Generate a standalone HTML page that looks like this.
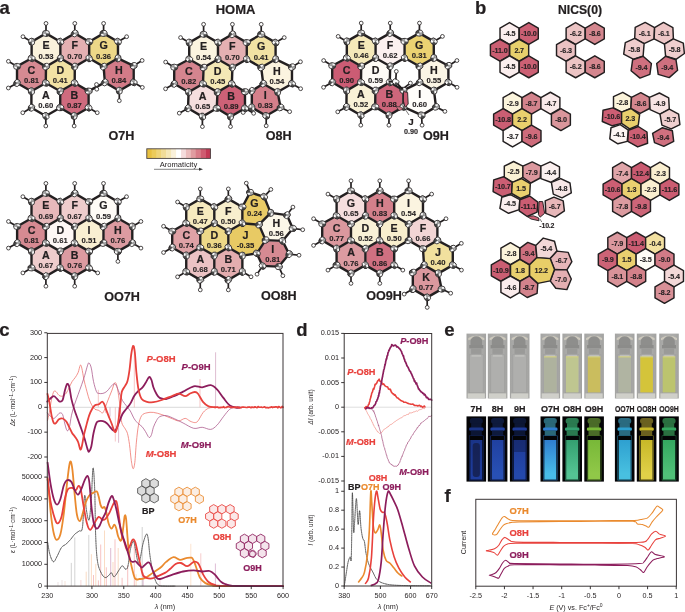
<!DOCTYPE html>
<html><head><meta charset="utf-8"><style>
html,body{margin:0;padding:0;background:#fff;}
svg{display:block;font-family:"Liberation Sans",sans-serif;will-change:transform;}
</style></head><body>
<svg width="685" height="612" viewBox="0 0 685 612">
<defs><linearGradient id="gday" x1="0" x2="1" y1="0" y2="0"><stop offset="0" stop-color="#a4a4a2"/><stop offset="0.2" stop-color="#aaaaa8"/><stop offset="0.5" stop-color="#aeaeac"/><stop offset="0.8" stop-color="#aaaaa8"/><stop offset="1" stop-color="#a2a2a0"/></linearGradient>
<linearGradient id="guv0" x1="0" x2="0" y1="0" y2="1"><stop offset="0" stop-color="#1a3488"/><stop offset="0.85" stop-color="#1e3c9c"/><stop offset="1" stop-color="#1e3c9c"/></linearGradient>
<linearGradient id="guv1" x1="0" x2="0" y1="0" y2="1"><stop offset="0" stop-color="#2040a0"/><stop offset="0.85" stop-color="#2850b4"/><stop offset="1" stop-color="#2850b4"/></linearGradient>
<linearGradient id="guv2" x1="0" x2="0" y1="0" y2="1"><stop offset="0" stop-color="#1e3a98"/><stop offset="0.85" stop-color="#2448ac"/><stop offset="1" stop-color="#2448ac"/></linearGradient>
<linearGradient id="guv3" x1="0" x2="0" y1="0" y2="1"><stop offset="0" stop-color="#2f7ed0"/><stop offset="0.85" stop-color="#48bce8"/><stop offset="1" stop-color="#48bce8"/></linearGradient>
<linearGradient id="guv4" x1="0" x2="0" y1="0" y2="1"><stop offset="0" stop-color="#34a070"/><stop offset="0.85" stop-color="#54c494"/><stop offset="1" stop-color="#54c494"/></linearGradient>
<linearGradient id="guv5" x1="0" x2="0" y1="0" y2="1"><stop offset="0" stop-color="#78b838"/><stop offset="0.85" stop-color="#90c848"/><stop offset="1" stop-color="#90c848"/></linearGradient>
<linearGradient id="guv6" x1="0" x2="0" y1="0" y2="1"><stop offset="0" stop-color="#2ea0d0"/><stop offset="0.85" stop-color="#48c0e0"/><stop offset="1" stop-color="#48c0e0"/></linearGradient>
<linearGradient id="guv7" x1="0" x2="0" y1="0" y2="1"><stop offset="0" stop-color="#c8b828"/><stop offset="0.85" stop-color="#e0d048"/><stop offset="1" stop-color="#e0d048"/></linearGradient>
<linearGradient id="guv8" x1="0" x2="0" y1="0" y2="1"><stop offset="0" stop-color="#34a860"/><stop offset="0.85" stop-color="#50c078"/><stop offset="1" stop-color="#50c078"/></linearGradient></defs>
<polygon points="46.00,34.40 59.51,42.20 59.51,57.80 46.00,65.60 32.49,57.80 32.49,42.20" fill="#faf2dc" stroke="none"/>
<polygon points="74.80,34.40 88.31,42.20 88.31,57.80 74.80,65.60 61.24,57.80 61.24,42.20" fill="#e4b0b2" stroke="none"/>
<polygon points="103.60,34.40 117.11,42.20 117.11,57.80 103.60,65.60 90.04,57.80 90.04,42.20" fill="#edd888" stroke="none"/>
<polygon points="31.62,59.29 45.13,67.09 44.92,82.51 31.40,90.31 17.89,82.51 17.89,66.90" fill="#d68a92" stroke="none"/>
<polygon points="60.37,59.29 73.93,67.09 73.81,82.51 60.30,90.31 46.65,82.51 46.86,67.09" fill="#f2e2a4" stroke="none"/>
<polygon points="118.03,59.26 132.79,66.31 132.79,81.92 119.27,89.72 105.76,81.92 104.52,67.07" fill="#d37b88" stroke="none"/>
<polygon points="45.78,83.99 59.43,91.79 59.31,107.21 45.80,115.01 32.29,107.21 32.26,91.79" fill="#fffdfa" stroke="none"/>
<polygon points="74.66,83.99 87.73,91.60 87.73,107.21 74.21,115.01 61.03,107.21 61.15,91.79" fill="#cf6b7e" stroke="none"/>
<line x1="46.00" y1="33.40" x2="46.00" y2="23.40" stroke="#231f20" stroke-width="1.7"/>
<line x1="31.62" y1="41.70" x2="22.96" y2="36.70" stroke="#231f20" stroke-width="1.7"/>
<line x1="74.80" y1="33.40" x2="74.81" y2="23.40" stroke="#231f20" stroke-width="1.7"/>
<line x1="103.60" y1="33.40" x2="103.61" y2="23.40" stroke="#231f20" stroke-width="1.7"/>
<line x1="117.98" y1="41.70" x2="126.64" y2="36.70" stroke="#231f20" stroke-width="1.7"/>
<line x1="17.02" y1="83.00" x2="8.36" y2="88.00" stroke="#231f20" stroke-width="1.7"/>
<line x1="17.02" y1="66.40" x2="8.41" y2="61.33" stroke="#231f20" stroke-width="1.7"/>
<line x1="133.68" y1="65.80" x2="142.13" y2="60.47" stroke="#231f20" stroke-width="1.7"/>
<line x1="133.68" y1="82.40" x2="142.34" y2="87.40" stroke="#231f20" stroke-width="1.7"/>
<line x1="119.30" y1="90.70" x2="119.30" y2="100.70" stroke="#231f20" stroke-width="1.7"/>
<line x1="45.80" y1="116.00" x2="45.80" y2="126.00" stroke="#231f20" stroke-width="1.7"/>
<line x1="31.42" y1="107.70" x2="22.77" y2="112.71" stroke="#231f20" stroke-width="1.7"/>
<line x1="88.58" y1="107.70" x2="97.24" y2="112.70" stroke="#231f20" stroke-width="1.7"/>
<line x1="74.20" y1="116.00" x2="74.15" y2="126.00" stroke="#231f20" stroke-width="1.7"/>
<line x1="46.00" y1="66.60" x2="31.62" y2="58.30" stroke="#231f20" stroke-width="2.4" stroke-linecap="round"/>
<line x1="17.02" y1="83.00" x2="17.02" y2="66.40" stroke="#231f20" stroke-width="2.4" stroke-linecap="round"/>
<line x1="117.98" y1="58.30" x2="103.60" y2="66.60" stroke="#231f20" stroke-width="2.4" stroke-linecap="round"/>
<line x1="133.68" y1="82.40" x2="119.30" y2="90.70" stroke="#231f20" stroke-width="2.4" stroke-linecap="round"/>
<line x1="119.30" y1="90.70" x2="104.92" y2="82.40" stroke="#231f20" stroke-width="2.4" stroke-linecap="round"/>
<line x1="45.78" y1="83.00" x2="60.30" y2="91.30" stroke="#231f20" stroke-width="2.4" stroke-linecap="round"/>
<line x1="89.18" y1="58.30" x2="74.80" y2="66.60" stroke="#231f20" stroke-width="2.4" stroke-linecap="round"/>
<line x1="46.00" y1="33.40" x2="31.62" y2="41.70" stroke="#231f20" stroke-width="2.4" stroke-linecap="round"/>
<line x1="60.38" y1="41.70" x2="74.80" y2="33.40" stroke="#231f20" stroke-width="2.4" stroke-linecap="round"/>
<line x1="88.58" y1="91.10" x2="88.58" y2="107.70" stroke="#231f20" stroke-width="2.4" stroke-linecap="round"/>
<line x1="45.80" y1="116.00" x2="31.42" y2="107.70" stroke="#231f20" stroke-width="2.4" stroke-linecap="round"/>
<line x1="60.30" y1="91.30" x2="60.18" y2="107.70" stroke="#231f20" stroke-width="2.4" stroke-linecap="round"/>
<line x1="103.60" y1="66.60" x2="104.92" y2="82.40" stroke="#231f20" stroke-width="2.4" stroke-linecap="round"/>
<line x1="89.18" y1="41.70" x2="103.60" y2="33.40" stroke="#231f20" stroke-width="2.4" stroke-linecap="round"/>
<line x1="74.68" y1="83.00" x2="60.30" y2="91.30" stroke="#231f20" stroke-width="2.4" stroke-linecap="round"/>
<line x1="31.40" y1="91.30" x2="31.42" y2="107.70" stroke="#231f20" stroke-width="2.4" stroke-linecap="round"/>
<line x1="60.18" y1="107.70" x2="74.20" y2="116.00" stroke="#231f20" stroke-width="2.4" stroke-linecap="round"/>
<line x1="31.62" y1="58.30" x2="31.62" y2="41.70" stroke="#231f20" stroke-width="2.4" stroke-linecap="round"/>
<line x1="31.62" y1="58.30" x2="17.02" y2="66.40" stroke="#231f20" stroke-width="2.4" stroke-linecap="round"/>
<line x1="45.78" y1="83.00" x2="31.40" y2="91.30" stroke="#231f20" stroke-width="2.4" stroke-linecap="round"/>
<line x1="46.00" y1="33.40" x2="60.38" y2="41.70" stroke="#231f20" stroke-width="2.4" stroke-linecap="round"/>
<line x1="104.92" y1="82.40" x2="88.58" y2="91.10" stroke="#231f20" stroke-width="2.4" stroke-linecap="round"/>
<line x1="60.38" y1="41.70" x2="60.38" y2="58.30" stroke="#231f20" stroke-width="2.4" stroke-linecap="round"/>
<line x1="103.60" y1="33.40" x2="117.98" y2="41.70" stroke="#231f20" stroke-width="2.4" stroke-linecap="round"/>
<line x1="88.58" y1="107.70" x2="74.20" y2="116.00" stroke="#231f20" stroke-width="2.4" stroke-linecap="round"/>
<line x1="74.80" y1="33.40" x2="89.18" y2="41.70" stroke="#231f20" stroke-width="2.4" stroke-linecap="round"/>
<line x1="31.40" y1="91.30" x2="17.02" y2="83.00" stroke="#231f20" stroke-width="2.4" stroke-linecap="round"/>
<line x1="60.18" y1="107.70" x2="45.80" y2="116.00" stroke="#231f20" stroke-width="2.4" stroke-linecap="round"/>
<line x1="133.68" y1="65.80" x2="133.68" y2="82.40" stroke="#231f20" stroke-width="2.4" stroke-linecap="round"/>
<line x1="74.68" y1="83.00" x2="88.58" y2="91.10" stroke="#231f20" stroke-width="2.4" stroke-linecap="round"/>
<line x1="46.00" y1="66.60" x2="45.78" y2="83.00" stroke="#231f20" stroke-width="2.4" stroke-linecap="round"/>
<line x1="117.98" y1="58.30" x2="133.68" y2="65.80" stroke="#231f20" stroke-width="2.4" stroke-linecap="round"/>
<line x1="60.38" y1="58.30" x2="46.00" y2="66.60" stroke="#231f20" stroke-width="2.4" stroke-linecap="round"/>
<line x1="60.38" y1="58.30" x2="74.80" y2="66.60" stroke="#231f20" stroke-width="2.4" stroke-linecap="round"/>
<line x1="117.98" y1="41.70" x2="117.98" y2="58.30" stroke="#231f20" stroke-width="2.4" stroke-linecap="round"/>
<line x1="89.18" y1="58.30" x2="103.60" y2="66.60" stroke="#231f20" stroke-width="2.4" stroke-linecap="round"/>
<line x1="74.80" y1="66.60" x2="74.68" y2="83.00" stroke="#231f20" stroke-width="2.4" stroke-linecap="round"/>
<line x1="89.18" y1="41.70" x2="89.18" y2="58.30" stroke="#231f20" stroke-width="2.4" stroke-linecap="round"/>
<circle cx="46.00" cy="23.40" r="1.9" fill="#fff" stroke="#231f20" stroke-width="0.8"/>
<circle cx="22.96" cy="36.70" r="1.9" fill="#fff" stroke="#231f20" stroke-width="0.8"/>
<circle cx="74.81" cy="23.40" r="1.9" fill="#fff" stroke="#231f20" stroke-width="0.8"/>
<circle cx="103.61" cy="23.40" r="1.9" fill="#fff" stroke="#231f20" stroke-width="0.8"/>
<circle cx="126.64" cy="36.70" r="1.9" fill="#fff" stroke="#231f20" stroke-width="0.8"/>
<circle cx="8.36" cy="88.00" r="1.9" fill="#fff" stroke="#231f20" stroke-width="0.8"/>
<circle cx="8.41" cy="61.33" r="1.9" fill="#fff" stroke="#231f20" stroke-width="0.8"/>
<circle cx="142.13" cy="60.47" r="1.9" fill="#fff" stroke="#231f20" stroke-width="0.8"/>
<circle cx="142.34" cy="87.40" r="1.9" fill="#fff" stroke="#231f20" stroke-width="0.8"/>
<circle cx="119.30" cy="100.70" r="1.9" fill="#fff" stroke="#231f20" stroke-width="0.8"/>
<circle cx="45.80" cy="126.00" r="1.9" fill="#fff" stroke="#231f20" stroke-width="0.8"/>
<circle cx="22.77" cy="112.71" r="1.9" fill="#fff" stroke="#231f20" stroke-width="0.8"/>
<circle cx="97.24" cy="112.70" r="1.9" fill="#fff" stroke="#231f20" stroke-width="0.8"/>
<circle cx="74.15" cy="126.00" r="1.9" fill="#fff" stroke="#231f20" stroke-width="0.8"/>
<circle cx="96.50" cy="84.50" r="1.9" fill="#fff" stroke="#231f20" stroke-width="0.8"/>
<circle cx="96.80" cy="89.20" r="1.9" fill="#fff" stroke="#231f20" stroke-width="0.8"/>
<g transform="translate(46.00 33.40) rotate(0)"><ellipse rx="3.60" ry="3.10" fill="#fbfbfb"/><path d="M0 0 L3.60 0 A3.60 3.10 0 0 1 0 3.10 Z" fill="#4a4a4a"/><path d="M0 0 L-3.60 0 A3.60 3.10 0 0 1 0 -3.10 Z" fill="#a8a8a8"/><path d="M-3.60 0 H3.60 M0 -3.10 V3.10" stroke="#555" stroke-width="0.35"/><ellipse rx="3.60" ry="3.10" fill="none" stroke="#231f20" stroke-width="0.8"/></g>
<g transform="translate(60.38 41.70) rotate(53)"><ellipse rx="3.60" ry="3.10" fill="#fbfbfb"/><path d="M0 0 L3.60 0 A3.60 3.10 0 0 1 0 3.10 Z" fill="#4a4a4a"/><path d="M0 0 L-3.60 0 A3.60 3.10 0 0 1 0 -3.10 Z" fill="#a8a8a8"/><path d="M-3.60 0 H3.60 M0 -3.10 V3.10" stroke="#555" stroke-width="0.35"/><ellipse rx="3.60" ry="3.10" fill="none" stroke="#231f20" stroke-width="0.8"/></g>
<g transform="translate(60.38 58.30) rotate(106)"><ellipse rx="3.60" ry="3.10" fill="#fbfbfb"/><path d="M0 0 L3.60 0 A3.60 3.10 0 0 1 0 3.10 Z" fill="#4a4a4a"/><path d="M0 0 L-3.60 0 A3.60 3.10 0 0 1 0 -3.10 Z" fill="#a8a8a8"/><path d="M-3.60 0 H3.60 M0 -3.10 V3.10" stroke="#555" stroke-width="0.35"/><ellipse rx="3.60" ry="3.10" fill="none" stroke="#231f20" stroke-width="0.8"/></g>
<g transform="translate(46.00 66.60) rotate(159)"><ellipse rx="3.60" ry="3.10" fill="#fbfbfb"/><path d="M0 0 L3.60 0 A3.60 3.10 0 0 1 0 3.10 Z" fill="#4a4a4a"/><path d="M0 0 L-3.60 0 A3.60 3.10 0 0 1 0 -3.10 Z" fill="#a8a8a8"/><path d="M-3.60 0 H3.60 M0 -3.10 V3.10" stroke="#555" stroke-width="0.35"/><ellipse rx="3.60" ry="3.10" fill="none" stroke="#231f20" stroke-width="0.8"/></g>
<g transform="translate(31.62 58.30) rotate(32)"><ellipse rx="3.60" ry="3.10" fill="#fbfbfb"/><path d="M0 0 L3.60 0 A3.60 3.10 0 0 1 0 3.10 Z" fill="#4a4a4a"/><path d="M0 0 L-3.60 0 A3.60 3.10 0 0 1 0 -3.10 Z" fill="#a8a8a8"/><path d="M-3.60 0 H3.60 M0 -3.10 V3.10" stroke="#555" stroke-width="0.35"/><ellipse rx="3.60" ry="3.10" fill="none" stroke="#231f20" stroke-width="0.8"/></g>
<g transform="translate(31.62 41.70) rotate(85)"><ellipse rx="3.60" ry="3.10" fill="#fbfbfb"/><path d="M0 0 L3.60 0 A3.60 3.10 0 0 1 0 3.10 Z" fill="#4a4a4a"/><path d="M0 0 L-3.60 0 A3.60 3.10 0 0 1 0 -3.10 Z" fill="#a8a8a8"/><path d="M-3.60 0 H3.60 M0 -3.10 V3.10" stroke="#555" stroke-width="0.35"/><ellipse rx="3.60" ry="3.10" fill="none" stroke="#231f20" stroke-width="0.8"/></g>
<g transform="translate(74.80 33.40) rotate(138)"><ellipse rx="3.60" ry="3.10" fill="#fbfbfb"/><path d="M0 0 L3.60 0 A3.60 3.10 0 0 1 0 3.10 Z" fill="#4a4a4a"/><path d="M0 0 L-3.60 0 A3.60 3.10 0 0 1 0 -3.10 Z" fill="#a8a8a8"/><path d="M-3.60 0 H3.60 M0 -3.10 V3.10" stroke="#555" stroke-width="0.35"/><ellipse rx="3.60" ry="3.10" fill="none" stroke="#231f20" stroke-width="0.8"/></g>
<g transform="translate(89.18 41.70) rotate(11)"><ellipse rx="3.60" ry="3.10" fill="#fbfbfb"/><path d="M0 0 L3.60 0 A3.60 3.10 0 0 1 0 3.10 Z" fill="#4a4a4a"/><path d="M0 0 L-3.60 0 A3.60 3.10 0 0 1 0 -3.10 Z" fill="#a8a8a8"/><path d="M-3.60 0 H3.60 M0 -3.10 V3.10" stroke="#555" stroke-width="0.35"/><ellipse rx="3.60" ry="3.10" fill="none" stroke="#231f20" stroke-width="0.8"/></g>
<g transform="translate(89.18 58.30) rotate(64)"><ellipse rx="3.60" ry="3.10" fill="#fbfbfb"/><path d="M0 0 L3.60 0 A3.60 3.10 0 0 1 0 3.10 Z" fill="#4a4a4a"/><path d="M0 0 L-3.60 0 A3.60 3.10 0 0 1 0 -3.10 Z" fill="#a8a8a8"/><path d="M-3.60 0 H3.60 M0 -3.10 V3.10" stroke="#555" stroke-width="0.35"/><ellipse rx="3.60" ry="3.10" fill="none" stroke="#231f20" stroke-width="0.8"/></g>
<g transform="translate(74.80 66.60) rotate(117)"><ellipse rx="3.60" ry="3.10" fill="#fbfbfb"/><path d="M0 0 L3.60 0 A3.60 3.10 0 0 1 0 3.10 Z" fill="#4a4a4a"/><path d="M0 0 L-3.60 0 A3.60 3.10 0 0 1 0 -3.10 Z" fill="#a8a8a8"/><path d="M-3.60 0 H3.60 M0 -3.10 V3.10" stroke="#555" stroke-width="0.35"/><ellipse rx="3.60" ry="3.10" fill="none" stroke="#231f20" stroke-width="0.8"/></g>
<g transform="translate(103.60 33.40) rotate(170)"><ellipse rx="3.60" ry="3.10" fill="#fbfbfb"/><path d="M0 0 L3.60 0 A3.60 3.10 0 0 1 0 3.10 Z" fill="#4a4a4a"/><path d="M0 0 L-3.60 0 A3.60 3.10 0 0 1 0 -3.10 Z" fill="#a8a8a8"/><path d="M-3.60 0 H3.60 M0 -3.10 V3.10" stroke="#555" stroke-width="0.35"/><ellipse rx="3.60" ry="3.10" fill="none" stroke="#231f20" stroke-width="0.8"/></g>
<g transform="translate(117.98 41.70) rotate(43)"><ellipse rx="3.60" ry="3.10" fill="#fbfbfb"/><path d="M0 0 L3.60 0 A3.60 3.10 0 0 1 0 3.10 Z" fill="#4a4a4a"/><path d="M0 0 L-3.60 0 A3.60 3.10 0 0 1 0 -3.10 Z" fill="#a8a8a8"/><path d="M-3.60 0 H3.60 M0 -3.10 V3.10" stroke="#555" stroke-width="0.35"/><ellipse rx="3.60" ry="3.10" fill="none" stroke="#231f20" stroke-width="0.8"/></g>
<g transform="translate(117.98 58.30) rotate(96)"><ellipse rx="3.60" ry="3.10" fill="#fbfbfb"/><path d="M0 0 L3.60 0 A3.60 3.10 0 0 1 0 3.10 Z" fill="#4a4a4a"/><path d="M0 0 L-3.60 0 A3.60 3.10 0 0 1 0 -3.10 Z" fill="#a8a8a8"/><path d="M-3.60 0 H3.60 M0 -3.10 V3.10" stroke="#555" stroke-width="0.35"/><ellipse rx="3.60" ry="3.10" fill="none" stroke="#231f20" stroke-width="0.8"/></g>
<g transform="translate(103.60 66.60) rotate(149)"><ellipse rx="3.60" ry="3.10" fill="#fbfbfb"/><path d="M0 0 L3.60 0 A3.60 3.10 0 0 1 0 3.10 Z" fill="#4a4a4a"/><path d="M0 0 L-3.60 0 A3.60 3.10 0 0 1 0 -3.10 Z" fill="#a8a8a8"/><path d="M-3.60 0 H3.60 M0 -3.10 V3.10" stroke="#555" stroke-width="0.35"/><ellipse rx="3.60" ry="3.10" fill="none" stroke="#231f20" stroke-width="0.8"/></g>
<g transform="translate(45.78 83.00) rotate(22)"><ellipse rx="3.60" ry="3.10" fill="#fbfbfb"/><path d="M0 0 L3.60 0 A3.60 3.10 0 0 1 0 3.10 Z" fill="#4a4a4a"/><path d="M0 0 L-3.60 0 A3.60 3.10 0 0 1 0 -3.10 Z" fill="#a8a8a8"/><path d="M-3.60 0 H3.60 M0 -3.10 V3.10" stroke="#555" stroke-width="0.35"/><ellipse rx="3.60" ry="3.10" fill="none" stroke="#231f20" stroke-width="0.8"/></g>
<g transform="translate(31.40 91.30) rotate(75)"><ellipse rx="3.60" ry="3.10" fill="#fbfbfb"/><path d="M0 0 L3.60 0 A3.60 3.10 0 0 1 0 3.10 Z" fill="#4a4a4a"/><path d="M0 0 L-3.60 0 A3.60 3.10 0 0 1 0 -3.10 Z" fill="#a8a8a8"/><path d="M-3.60 0 H3.60 M0 -3.10 V3.10" stroke="#555" stroke-width="0.35"/><ellipse rx="3.60" ry="3.10" fill="none" stroke="#231f20" stroke-width="0.8"/></g>
<g transform="translate(17.02 83.00) rotate(128)"><ellipse rx="3.60" ry="3.10" fill="#fbfbfb"/><path d="M0 0 L3.60 0 A3.60 3.10 0 0 1 0 3.10 Z" fill="#4a4a4a"/><path d="M0 0 L-3.60 0 A3.60 3.10 0 0 1 0 -3.10 Z" fill="#a8a8a8"/><path d="M-3.60 0 H3.60 M0 -3.10 V3.10" stroke="#555" stroke-width="0.35"/><ellipse rx="3.60" ry="3.10" fill="none" stroke="#231f20" stroke-width="0.8"/></g>
<g transform="translate(17.02 66.40) rotate(1)"><ellipse rx="3.60" ry="3.10" fill="#fbfbfb"/><path d="M0 0 L3.60 0 A3.60 3.10 0 0 1 0 3.10 Z" fill="#4a4a4a"/><path d="M0 0 L-3.60 0 A3.60 3.10 0 0 1 0 -3.10 Z" fill="#a8a8a8"/><path d="M-3.60 0 H3.60 M0 -3.10 V3.10" stroke="#555" stroke-width="0.35"/><ellipse rx="3.60" ry="3.10" fill="none" stroke="#231f20" stroke-width="0.8"/></g>
<g transform="translate(74.68 83.00) rotate(54)"><ellipse rx="3.60" ry="3.10" fill="#fbfbfb"/><path d="M0 0 L3.60 0 A3.60 3.10 0 0 1 0 3.10 Z" fill="#4a4a4a"/><path d="M0 0 L-3.60 0 A3.60 3.10 0 0 1 0 -3.10 Z" fill="#a8a8a8"/><path d="M-3.60 0 H3.60 M0 -3.10 V3.10" stroke="#555" stroke-width="0.35"/><ellipse rx="3.60" ry="3.10" fill="none" stroke="#231f20" stroke-width="0.8"/></g>
<g transform="translate(60.30 91.30) rotate(107)"><ellipse rx="3.60" ry="3.10" fill="#fbfbfb"/><path d="M0 0 L3.60 0 A3.60 3.10 0 0 1 0 3.10 Z" fill="#4a4a4a"/><path d="M0 0 L-3.60 0 A3.60 3.10 0 0 1 0 -3.10 Z" fill="#a8a8a8"/><path d="M-3.60 0 H3.60 M0 -3.10 V3.10" stroke="#555" stroke-width="0.35"/><ellipse rx="3.60" ry="3.10" fill="none" stroke="#231f20" stroke-width="0.8"/></g>
<g transform="translate(133.68 65.80) rotate(160)"><ellipse rx="3.60" ry="3.10" fill="#fbfbfb"/><path d="M0 0 L3.60 0 A3.60 3.10 0 0 1 0 3.10 Z" fill="#4a4a4a"/><path d="M0 0 L-3.60 0 A3.60 3.10 0 0 1 0 -3.10 Z" fill="#a8a8a8"/><path d="M-3.60 0 H3.60 M0 -3.10 V3.10" stroke="#555" stroke-width="0.35"/><ellipse rx="3.60" ry="3.10" fill="none" stroke="#231f20" stroke-width="0.8"/></g>
<g transform="translate(133.68 82.40) rotate(33)"><ellipse rx="3.60" ry="3.10" fill="#fbfbfb"/><path d="M0 0 L3.60 0 A3.60 3.10 0 0 1 0 3.10 Z" fill="#4a4a4a"/><path d="M0 0 L-3.60 0 A3.60 3.10 0 0 1 0 -3.10 Z" fill="#a8a8a8"/><path d="M-3.60 0 H3.60 M0 -3.10 V3.10" stroke="#555" stroke-width="0.35"/><ellipse rx="3.60" ry="3.10" fill="none" stroke="#231f20" stroke-width="0.8"/></g>
<g transform="translate(119.30 90.70) rotate(86)"><ellipse rx="3.60" ry="3.10" fill="#fbfbfb"/><path d="M0 0 L3.60 0 A3.60 3.10 0 0 1 0 3.10 Z" fill="#4a4a4a"/><path d="M0 0 L-3.60 0 A3.60 3.10 0 0 1 0 -3.10 Z" fill="#a8a8a8"/><path d="M-3.60 0 H3.60 M0 -3.10 V3.10" stroke="#555" stroke-width="0.35"/><ellipse rx="3.60" ry="3.10" fill="none" stroke="#231f20" stroke-width="0.8"/></g>
<g transform="translate(104.92 82.40) rotate(139)"><ellipse rx="3.60" ry="3.10" fill="#fbfbfb"/><path d="M0 0 L3.60 0 A3.60 3.10 0 0 1 0 3.10 Z" fill="#4a4a4a"/><path d="M0 0 L-3.60 0 A3.60 3.10 0 0 1 0 -3.10 Z" fill="#a8a8a8"/><path d="M-3.60 0 H3.60 M0 -3.10 V3.10" stroke="#555" stroke-width="0.35"/><ellipse rx="3.60" ry="3.10" fill="none" stroke="#231f20" stroke-width="0.8"/></g>
<g transform="translate(60.18 107.70) rotate(12)"><ellipse rx="3.60" ry="3.10" fill="#fbfbfb"/><path d="M0 0 L3.60 0 A3.60 3.10 0 0 1 0 3.10 Z" fill="#4a4a4a"/><path d="M0 0 L-3.60 0 A3.60 3.10 0 0 1 0 -3.10 Z" fill="#a8a8a8"/><path d="M-3.60 0 H3.60 M0 -3.10 V3.10" stroke="#555" stroke-width="0.35"/><ellipse rx="3.60" ry="3.10" fill="none" stroke="#231f20" stroke-width="0.8"/></g>
<g transform="translate(45.80 116.00) rotate(65)"><ellipse rx="3.60" ry="3.10" fill="#fbfbfb"/><path d="M0 0 L3.60 0 A3.60 3.10 0 0 1 0 3.10 Z" fill="#4a4a4a"/><path d="M0 0 L-3.60 0 A3.60 3.10 0 0 1 0 -3.10 Z" fill="#a8a8a8"/><path d="M-3.60 0 H3.60 M0 -3.10 V3.10" stroke="#555" stroke-width="0.35"/><ellipse rx="3.60" ry="3.10" fill="none" stroke="#231f20" stroke-width="0.8"/></g>
<g transform="translate(31.42 107.70) rotate(118)"><ellipse rx="3.60" ry="3.10" fill="#fbfbfb"/><path d="M0 0 L3.60 0 A3.60 3.10 0 0 1 0 3.10 Z" fill="#4a4a4a"/><path d="M0 0 L-3.60 0 A3.60 3.10 0 0 1 0 -3.10 Z" fill="#a8a8a8"/><path d="M-3.60 0 H3.60 M0 -3.10 V3.10" stroke="#555" stroke-width="0.35"/><ellipse rx="3.60" ry="3.10" fill="none" stroke="#231f20" stroke-width="0.8"/></g>
<g transform="translate(88.58 91.10) rotate(171)"><ellipse rx="3.60" ry="3.10" fill="#fbfbfb"/><path d="M0 0 L3.60 0 A3.60 3.10 0 0 1 0 3.10 Z" fill="#4a4a4a"/><path d="M0 0 L-3.60 0 A3.60 3.10 0 0 1 0 -3.10 Z" fill="#a8a8a8"/><path d="M-3.60 0 H3.60 M0 -3.10 V3.10" stroke="#555" stroke-width="0.35"/><ellipse rx="3.60" ry="3.10" fill="none" stroke="#231f20" stroke-width="0.8"/></g>
<g transform="translate(88.58 107.70) rotate(44)"><ellipse rx="3.60" ry="3.10" fill="#fbfbfb"/><path d="M0 0 L3.60 0 A3.60 3.10 0 0 1 0 3.10 Z" fill="#4a4a4a"/><path d="M0 0 L-3.60 0 A3.60 3.10 0 0 1 0 -3.10 Z" fill="#a8a8a8"/><path d="M-3.60 0 H3.60 M0 -3.10 V3.10" stroke="#555" stroke-width="0.35"/><ellipse rx="3.60" ry="3.10" fill="none" stroke="#231f20" stroke-width="0.8"/></g>
<g transform="translate(74.20 116.00) rotate(97)"><ellipse rx="3.60" ry="3.10" fill="#fbfbfb"/><path d="M0 0 L3.60 0 A3.60 3.10 0 0 1 0 3.10 Z" fill="#4a4a4a"/><path d="M0 0 L-3.60 0 A3.60 3.10 0 0 1 0 -3.10 Z" fill="#a8a8a8"/><path d="M-3.60 0 H3.60 M0 -3.10 V3.10" stroke="#555" stroke-width="0.35"/><ellipse rx="3.60" ry="3.10" fill="none" stroke="#231f20" stroke-width="0.8"/></g>
<text x="46.00" y="49.40" font-size="10.70" font-weight="bold" fill="#231f20" text-anchor="middle"   stroke="#231f20" stroke-width="0.22">E</text>
<text x="46.00" y="58.60" font-size="7.70" font-weight="bold" fill="#231f20" text-anchor="middle"   stroke="#231f20" stroke-width="0.12">0.53</text>
<text x="74.78" y="49.40" font-size="10.70" font-weight="bold" fill="#231f20" text-anchor="middle"   stroke="#231f20" stroke-width="0.22">F</text>
<text x="74.78" y="58.60" font-size="7.70" font-weight="bold" fill="#231f20" text-anchor="middle"   stroke="#231f20" stroke-width="0.12">0.70</text>
<text x="103.58" y="49.40" font-size="10.70" font-weight="bold" fill="#231f20" text-anchor="middle"   stroke="#231f20" stroke-width="0.22">G</text>
<text x="103.58" y="58.60" font-size="7.70" font-weight="bold" fill="#231f20" text-anchor="middle"   stroke="#231f20" stroke-width="0.12">0.36</text>
<text x="31.47" y="74.17" font-size="10.70" font-weight="bold" fill="#231f20" text-anchor="middle"   stroke="#231f20" stroke-width="0.22">C</text>
<text x="31.47" y="83.37" font-size="7.70" font-weight="bold" fill="#231f20" text-anchor="middle"   stroke="#231f20" stroke-width="0.12">0.81</text>
<text x="60.32" y="74.20" font-size="10.70" font-weight="bold" fill="#231f20" text-anchor="middle"   stroke="#231f20" stroke-width="0.22">D</text>
<text x="60.32" y="83.40" font-size="7.70" font-weight="bold" fill="#231f20" text-anchor="middle"   stroke="#231f20" stroke-width="0.12">0.41</text>
<text x="118.86" y="73.77" font-size="10.70" font-weight="bold" fill="#231f20" text-anchor="middle"   stroke="#231f20" stroke-width="0.22">H</text>
<text x="118.86" y="82.97" font-size="7.70" font-weight="bold" fill="#231f20" text-anchor="middle"   stroke="#231f20" stroke-width="0.12">0.84</text>
<text x="45.81" y="98.90" font-size="10.70" font-weight="bold" fill="#231f20" text-anchor="middle"   stroke="#231f20" stroke-width="0.22">A</text>
<text x="45.81" y="108.10" font-size="7.70" font-weight="bold" fill="#231f20" text-anchor="middle"   stroke="#231f20" stroke-width="0.12">0.60</text>
<text x="74.42" y="98.87" font-size="10.70" font-weight="bold" fill="#231f20" text-anchor="middle"   stroke="#231f20" stroke-width="0.22">B</text>
<text x="74.42" y="108.07" font-size="7.70" font-weight="bold" fill="#231f20" text-anchor="middle"   stroke="#231f20" stroke-width="0.12">0.87</text>
<polygon points="203.60,35.30 217.11,43.10 217.11,58.70 203.60,66.50 190.09,58.70 190.09,43.10" fill="#fbf4e0" stroke="none"/>
<polygon points="232.40,35.30 245.91,43.10 245.91,58.70 232.40,66.50 218.84,58.70 218.84,43.10" fill="#e4b0b2" stroke="none"/>
<polygon points="261.20,35.30 274.71,43.10 274.71,58.70 261.20,66.50 247.64,58.70 247.64,43.10" fill="#f2e2a4" stroke="none"/>
<polygon points="189.20,60.18 202.71,67.99 202.13,83.31 188.61,91.11 175.10,83.31 175.10,67.70" fill="#d5858f" stroke="none"/>
<polygon points="217.96,60.19 231.52,67.99 231.03,83.31 217.51,91.11 203.86,83.31 204.45,67.99" fill="#f4e8b6" stroke="none"/>
<polygon points="275.66,60.18 291.07,67.61 291.07,83.21 277.56,91.01 264.05,83.21 262.14,67.98" fill="#fbf4e0" stroke="none"/>
<polygon points="202.96,84.78 216.61,92.59 215.93,107.81 202.42,115.62 188.91,107.81 189.45,92.59" fill="#f5dede" stroke="none"/>
<polygon points="231.83,84.78 244.14,92.21 244.14,107.81 230.63,115.61 217.64,107.81 218.32,92.58" fill="#cd6177" stroke="none"/>
<polygon points="263.34,84.65 276.86,92.45 279.65,107.02 266.14,114.83 252.63,107.02 252.63,91.42" fill="#d4808b" stroke="none"/>
<line x1="203.60" y1="34.30" x2="203.60" y2="24.30" stroke="#231f20" stroke-width="1.7"/>
<line x1="189.22" y1="42.60" x2="180.56" y2="37.60" stroke="#231f20" stroke-width="1.7"/>
<line x1="232.40" y1="34.30" x2="232.41" y2="24.30" stroke="#231f20" stroke-width="1.7"/>
<line x1="261.20" y1="34.30" x2="261.21" y2="24.30" stroke="#231f20" stroke-width="1.7"/>
<line x1="275.58" y1="42.60" x2="284.24" y2="37.60" stroke="#231f20" stroke-width="1.7"/>
<line x1="174.22" y1="83.80" x2="165.56" y2="88.80" stroke="#231f20" stroke-width="1.7"/>
<line x1="174.22" y1="67.20" x2="165.65" y2="62.06" stroke="#231f20" stroke-width="1.7"/>
<line x1="291.98" y1="67.10" x2="300.44" y2="61.78" stroke="#231f20" stroke-width="1.7"/>
<line x1="291.98" y1="83.70" x2="300.64" y2="88.70" stroke="#231f20" stroke-width="1.7"/>
<line x1="202.40" y1="116.60" x2="202.40" y2="126.60" stroke="#231f20" stroke-width="1.7"/>
<line x1="188.02" y1="108.30" x2="179.28" y2="113.15" stroke="#231f20" stroke-width="1.7"/>
<line x1="244.98" y1="108.30" x2="253.64" y2="113.30" stroke="#231f20" stroke-width="1.7"/>
<line x1="230.60" y1="116.60" x2="230.51" y2="126.60" stroke="#231f20" stroke-width="1.7"/>
<line x1="280.58" y1="107.50" x2="289.67" y2="111.66" stroke="#231f20" stroke-width="1.7"/>
<line x1="266.20" y1="115.80" x2="266.20" y2="125.80" stroke="#231f20" stroke-width="1.7"/>
<line x1="251.82" y1="107.50" x2="243.16" y2="112.50" stroke="#231f20" stroke-width="1.7"/>
<line x1="203.60" y1="67.50" x2="189.22" y2="59.20" stroke="#231f20" stroke-width="2.4" stroke-linecap="round"/>
<line x1="174.22" y1="83.80" x2="174.22" y2="67.20" stroke="#231f20" stroke-width="2.4" stroke-linecap="round"/>
<line x1="275.58" y1="59.20" x2="261.20" y2="67.50" stroke="#231f20" stroke-width="2.4" stroke-linecap="round"/>
<line x1="291.98" y1="83.70" x2="277.60" y2="92.00" stroke="#231f20" stroke-width="2.4" stroke-linecap="round"/>
<line x1="277.60" y1="92.00" x2="263.22" y2="83.70" stroke="#231f20" stroke-width="2.4" stroke-linecap="round"/>
<line x1="266.20" y1="115.80" x2="251.82" y2="107.50" stroke="#231f20" stroke-width="2.4" stroke-linecap="round"/>
<line x1="202.98" y1="83.80" x2="217.50" y2="92.10" stroke="#231f20" stroke-width="2.4" stroke-linecap="round"/>
<line x1="246.78" y1="59.20" x2="232.40" y2="67.50" stroke="#231f20" stroke-width="2.4" stroke-linecap="round"/>
<line x1="203.60" y1="34.30" x2="189.22" y2="42.60" stroke="#231f20" stroke-width="2.4" stroke-linecap="round"/>
<line x1="217.98" y1="42.60" x2="232.40" y2="34.30" stroke="#231f20" stroke-width="2.4" stroke-linecap="round"/>
<line x1="244.98" y1="91.70" x2="244.98" y2="108.30" stroke="#231f20" stroke-width="2.4" stroke-linecap="round"/>
<line x1="202.40" y1="116.60" x2="188.02" y2="108.30" stroke="#231f20" stroke-width="2.4" stroke-linecap="round"/>
<line x1="217.50" y1="92.10" x2="216.78" y2="108.30" stroke="#231f20" stroke-width="2.4" stroke-linecap="round"/>
<line x1="261.20" y1="67.50" x2="263.22" y2="83.70" stroke="#231f20" stroke-width="2.4" stroke-linecap="round"/>
<line x1="246.78" y1="42.60" x2="261.20" y2="34.30" stroke="#231f20" stroke-width="2.4" stroke-linecap="round"/>
<line x1="251.82" y1="107.50" x2="251.82" y2="90.90" stroke="#231f20" stroke-width="2.4" stroke-linecap="round"/>
<line x1="231.88" y1="83.80" x2="217.50" y2="92.10" stroke="#231f20" stroke-width="2.4" stroke-linecap="round"/>
<line x1="188.60" y1="92.10" x2="188.02" y2="108.30" stroke="#231f20" stroke-width="2.4" stroke-linecap="round"/>
<line x1="216.78" y1="108.30" x2="230.60" y2="116.60" stroke="#231f20" stroke-width="2.4" stroke-linecap="round"/>
<line x1="189.22" y1="59.20" x2="189.22" y2="42.60" stroke="#231f20" stroke-width="2.4" stroke-linecap="round"/>
<line x1="189.22" y1="59.20" x2="174.22" y2="67.20" stroke="#231f20" stroke-width="2.4" stroke-linecap="round"/>
<line x1="202.98" y1="83.80" x2="188.60" y2="92.10" stroke="#231f20" stroke-width="2.4" stroke-linecap="round"/>
<line x1="203.60" y1="34.30" x2="217.98" y2="42.60" stroke="#231f20" stroke-width="2.4" stroke-linecap="round"/>
<line x1="263.22" y1="83.70" x2="251.82" y2="90.90" stroke="#231f20" stroke-width="2.4" stroke-linecap="round"/>
<line x1="217.98" y1="42.60" x2="217.98" y2="59.20" stroke="#231f20" stroke-width="2.4" stroke-linecap="round"/>
<line x1="261.20" y1="34.30" x2="275.58" y2="42.60" stroke="#231f20" stroke-width="2.4" stroke-linecap="round"/>
<line x1="244.98" y1="108.30" x2="230.60" y2="116.60" stroke="#231f20" stroke-width="2.4" stroke-linecap="round"/>
<line x1="232.40" y1="34.30" x2="246.78" y2="42.60" stroke="#231f20" stroke-width="2.4" stroke-linecap="round"/>
<line x1="188.60" y1="92.10" x2="174.22" y2="83.80" stroke="#231f20" stroke-width="2.4" stroke-linecap="round"/>
<line x1="216.78" y1="108.30" x2="202.40" y2="116.60" stroke="#231f20" stroke-width="2.4" stroke-linecap="round"/>
<line x1="291.98" y1="67.10" x2="291.98" y2="83.70" stroke="#231f20" stroke-width="2.4" stroke-linecap="round"/>
<line x1="231.88" y1="83.80" x2="244.98" y2="91.70" stroke="#231f20" stroke-width="2.4" stroke-linecap="round"/>
<line x1="203.60" y1="67.50" x2="202.98" y2="83.80" stroke="#231f20" stroke-width="2.4" stroke-linecap="round"/>
<line x1="275.58" y1="59.20" x2="291.98" y2="67.10" stroke="#231f20" stroke-width="2.4" stroke-linecap="round"/>
<line x1="277.60" y1="92.00" x2="280.58" y2="107.50" stroke="#231f20" stroke-width="2.4" stroke-linecap="round"/>
<line x1="217.98" y1="59.20" x2="203.60" y2="67.50" stroke="#231f20" stroke-width="2.4" stroke-linecap="round"/>
<line x1="217.98" y1="59.20" x2="232.40" y2="67.50" stroke="#231f20" stroke-width="2.4" stroke-linecap="round"/>
<line x1="275.58" y1="42.60" x2="275.58" y2="59.20" stroke="#231f20" stroke-width="2.4" stroke-linecap="round"/>
<line x1="246.78" y1="59.20" x2="261.20" y2="67.50" stroke="#231f20" stroke-width="2.4" stroke-linecap="round"/>
<line x1="232.40" y1="67.50" x2="231.88" y2="83.80" stroke="#231f20" stroke-width="2.4" stroke-linecap="round"/>
<line x1="280.58" y1="107.50" x2="266.20" y2="115.80" stroke="#231f20" stroke-width="2.4" stroke-linecap="round"/>
<line x1="246.78" y1="42.60" x2="246.78" y2="59.20" stroke="#231f20" stroke-width="2.4" stroke-linecap="round"/>
<circle cx="203.60" cy="24.30" r="1.9" fill="#fff" stroke="#231f20" stroke-width="0.8"/>
<circle cx="180.56" cy="37.60" r="1.9" fill="#fff" stroke="#231f20" stroke-width="0.8"/>
<circle cx="232.41" cy="24.30" r="1.9" fill="#fff" stroke="#231f20" stroke-width="0.8"/>
<circle cx="261.21" cy="24.30" r="1.9" fill="#fff" stroke="#231f20" stroke-width="0.8"/>
<circle cx="284.24" cy="37.60" r="1.9" fill="#fff" stroke="#231f20" stroke-width="0.8"/>
<circle cx="165.56" cy="88.80" r="1.9" fill="#fff" stroke="#231f20" stroke-width="0.8"/>
<circle cx="165.65" cy="62.06" r="1.9" fill="#fff" stroke="#231f20" stroke-width="0.8"/>
<circle cx="300.44" cy="61.78" r="1.9" fill="#fff" stroke="#231f20" stroke-width="0.8"/>
<circle cx="300.64" cy="88.70" r="1.9" fill="#fff" stroke="#231f20" stroke-width="0.8"/>
<circle cx="202.40" cy="126.60" r="1.9" fill="#fff" stroke="#231f20" stroke-width="0.8"/>
<circle cx="179.28" cy="113.15" r="1.9" fill="#fff" stroke="#231f20" stroke-width="0.8"/>
<circle cx="253.64" cy="113.30" r="1.9" fill="#fff" stroke="#231f20" stroke-width="0.8"/>
<circle cx="230.51" cy="126.60" r="1.9" fill="#fff" stroke="#231f20" stroke-width="0.8"/>
<circle cx="289.67" cy="111.66" r="1.9" fill="#fff" stroke="#231f20" stroke-width="0.8"/>
<circle cx="266.20" cy="125.80" r="1.9" fill="#fff" stroke="#231f20" stroke-width="0.8"/>
<circle cx="243.16" cy="112.50" r="1.9" fill="#fff" stroke="#231f20" stroke-width="0.8"/>
<g transform="translate(203.60 34.30) rotate(0)"><ellipse rx="3.60" ry="3.10" fill="#fbfbfb"/><path d="M0 0 L3.60 0 A3.60 3.10 0 0 1 0 3.10 Z" fill="#4a4a4a"/><path d="M0 0 L-3.60 0 A3.60 3.10 0 0 1 0 -3.10 Z" fill="#a8a8a8"/><path d="M-3.60 0 H3.60 M0 -3.10 V3.10" stroke="#555" stroke-width="0.35"/><ellipse rx="3.60" ry="3.10" fill="none" stroke="#231f20" stroke-width="0.8"/></g>
<g transform="translate(217.98 42.60) rotate(53)"><ellipse rx="3.60" ry="3.10" fill="#fbfbfb"/><path d="M0 0 L3.60 0 A3.60 3.10 0 0 1 0 3.10 Z" fill="#4a4a4a"/><path d="M0 0 L-3.60 0 A3.60 3.10 0 0 1 0 -3.10 Z" fill="#a8a8a8"/><path d="M-3.60 0 H3.60 M0 -3.10 V3.10" stroke="#555" stroke-width="0.35"/><ellipse rx="3.60" ry="3.10" fill="none" stroke="#231f20" stroke-width="0.8"/></g>
<g transform="translate(217.98 59.20) rotate(106)"><ellipse rx="3.60" ry="3.10" fill="#fbfbfb"/><path d="M0 0 L3.60 0 A3.60 3.10 0 0 1 0 3.10 Z" fill="#4a4a4a"/><path d="M0 0 L-3.60 0 A3.60 3.10 0 0 1 0 -3.10 Z" fill="#a8a8a8"/><path d="M-3.60 0 H3.60 M0 -3.10 V3.10" stroke="#555" stroke-width="0.35"/><ellipse rx="3.60" ry="3.10" fill="none" stroke="#231f20" stroke-width="0.8"/></g>
<g transform="translate(203.60 67.50) rotate(159)"><ellipse rx="3.60" ry="3.10" fill="#fbfbfb"/><path d="M0 0 L3.60 0 A3.60 3.10 0 0 1 0 3.10 Z" fill="#4a4a4a"/><path d="M0 0 L-3.60 0 A3.60 3.10 0 0 1 0 -3.10 Z" fill="#a8a8a8"/><path d="M-3.60 0 H3.60 M0 -3.10 V3.10" stroke="#555" stroke-width="0.35"/><ellipse rx="3.60" ry="3.10" fill="none" stroke="#231f20" stroke-width="0.8"/></g>
<g transform="translate(189.22 59.20) rotate(32)"><ellipse rx="3.60" ry="3.10" fill="#fbfbfb"/><path d="M0 0 L3.60 0 A3.60 3.10 0 0 1 0 3.10 Z" fill="#4a4a4a"/><path d="M0 0 L-3.60 0 A3.60 3.10 0 0 1 0 -3.10 Z" fill="#a8a8a8"/><path d="M-3.60 0 H3.60 M0 -3.10 V3.10" stroke="#555" stroke-width="0.35"/><ellipse rx="3.60" ry="3.10" fill="none" stroke="#231f20" stroke-width="0.8"/></g>
<g transform="translate(189.22 42.60) rotate(85)"><ellipse rx="3.60" ry="3.10" fill="#fbfbfb"/><path d="M0 0 L3.60 0 A3.60 3.10 0 0 1 0 3.10 Z" fill="#4a4a4a"/><path d="M0 0 L-3.60 0 A3.60 3.10 0 0 1 0 -3.10 Z" fill="#a8a8a8"/><path d="M-3.60 0 H3.60 M0 -3.10 V3.10" stroke="#555" stroke-width="0.35"/><ellipse rx="3.60" ry="3.10" fill="none" stroke="#231f20" stroke-width="0.8"/></g>
<g transform="translate(232.40 34.30) rotate(138)"><ellipse rx="3.60" ry="3.10" fill="#fbfbfb"/><path d="M0 0 L3.60 0 A3.60 3.10 0 0 1 0 3.10 Z" fill="#4a4a4a"/><path d="M0 0 L-3.60 0 A3.60 3.10 0 0 1 0 -3.10 Z" fill="#a8a8a8"/><path d="M-3.60 0 H3.60 M0 -3.10 V3.10" stroke="#555" stroke-width="0.35"/><ellipse rx="3.60" ry="3.10" fill="none" stroke="#231f20" stroke-width="0.8"/></g>
<g transform="translate(246.78 42.60) rotate(11)"><ellipse rx="3.60" ry="3.10" fill="#fbfbfb"/><path d="M0 0 L3.60 0 A3.60 3.10 0 0 1 0 3.10 Z" fill="#4a4a4a"/><path d="M0 0 L-3.60 0 A3.60 3.10 0 0 1 0 -3.10 Z" fill="#a8a8a8"/><path d="M-3.60 0 H3.60 M0 -3.10 V3.10" stroke="#555" stroke-width="0.35"/><ellipse rx="3.60" ry="3.10" fill="none" stroke="#231f20" stroke-width="0.8"/></g>
<g transform="translate(246.78 59.20) rotate(64)"><ellipse rx="3.60" ry="3.10" fill="#fbfbfb"/><path d="M0 0 L3.60 0 A3.60 3.10 0 0 1 0 3.10 Z" fill="#4a4a4a"/><path d="M0 0 L-3.60 0 A3.60 3.10 0 0 1 0 -3.10 Z" fill="#a8a8a8"/><path d="M-3.60 0 H3.60 M0 -3.10 V3.10" stroke="#555" stroke-width="0.35"/><ellipse rx="3.60" ry="3.10" fill="none" stroke="#231f20" stroke-width="0.8"/></g>
<g transform="translate(232.40 67.50) rotate(117)"><ellipse rx="3.60" ry="3.10" fill="#fbfbfb"/><path d="M0 0 L3.60 0 A3.60 3.10 0 0 1 0 3.10 Z" fill="#4a4a4a"/><path d="M0 0 L-3.60 0 A3.60 3.10 0 0 1 0 -3.10 Z" fill="#a8a8a8"/><path d="M-3.60 0 H3.60 M0 -3.10 V3.10" stroke="#555" stroke-width="0.35"/><ellipse rx="3.60" ry="3.10" fill="none" stroke="#231f20" stroke-width="0.8"/></g>
<g transform="translate(261.20 34.30) rotate(170)"><ellipse rx="3.60" ry="3.10" fill="#fbfbfb"/><path d="M0 0 L3.60 0 A3.60 3.10 0 0 1 0 3.10 Z" fill="#4a4a4a"/><path d="M0 0 L-3.60 0 A3.60 3.10 0 0 1 0 -3.10 Z" fill="#a8a8a8"/><path d="M-3.60 0 H3.60 M0 -3.10 V3.10" stroke="#555" stroke-width="0.35"/><ellipse rx="3.60" ry="3.10" fill="none" stroke="#231f20" stroke-width="0.8"/></g>
<g transform="translate(275.58 42.60) rotate(43)"><ellipse rx="3.60" ry="3.10" fill="#fbfbfb"/><path d="M0 0 L3.60 0 A3.60 3.10 0 0 1 0 3.10 Z" fill="#4a4a4a"/><path d="M0 0 L-3.60 0 A3.60 3.10 0 0 1 0 -3.10 Z" fill="#a8a8a8"/><path d="M-3.60 0 H3.60 M0 -3.10 V3.10" stroke="#555" stroke-width="0.35"/><ellipse rx="3.60" ry="3.10" fill="none" stroke="#231f20" stroke-width="0.8"/></g>
<g transform="translate(275.58 59.20) rotate(96)"><ellipse rx="3.60" ry="3.10" fill="#fbfbfb"/><path d="M0 0 L3.60 0 A3.60 3.10 0 0 1 0 3.10 Z" fill="#4a4a4a"/><path d="M0 0 L-3.60 0 A3.60 3.10 0 0 1 0 -3.10 Z" fill="#a8a8a8"/><path d="M-3.60 0 H3.60 M0 -3.10 V3.10" stroke="#555" stroke-width="0.35"/><ellipse rx="3.60" ry="3.10" fill="none" stroke="#231f20" stroke-width="0.8"/></g>
<g transform="translate(261.20 67.50) rotate(149)"><ellipse rx="3.60" ry="3.10" fill="#fbfbfb"/><path d="M0 0 L3.60 0 A3.60 3.10 0 0 1 0 3.10 Z" fill="#4a4a4a"/><path d="M0 0 L-3.60 0 A3.60 3.10 0 0 1 0 -3.10 Z" fill="#a8a8a8"/><path d="M-3.60 0 H3.60 M0 -3.10 V3.10" stroke="#555" stroke-width="0.35"/><ellipse rx="3.60" ry="3.10" fill="none" stroke="#231f20" stroke-width="0.8"/></g>
<g transform="translate(202.98 83.80) rotate(22)"><ellipse rx="3.60" ry="3.10" fill="#fbfbfb"/><path d="M0 0 L3.60 0 A3.60 3.10 0 0 1 0 3.10 Z" fill="#4a4a4a"/><path d="M0 0 L-3.60 0 A3.60 3.10 0 0 1 0 -3.10 Z" fill="#a8a8a8"/><path d="M-3.60 0 H3.60 M0 -3.10 V3.10" stroke="#555" stroke-width="0.35"/><ellipse rx="3.60" ry="3.10" fill="none" stroke="#231f20" stroke-width="0.8"/></g>
<g transform="translate(188.60 92.10) rotate(75)"><ellipse rx="3.60" ry="3.10" fill="#fbfbfb"/><path d="M0 0 L3.60 0 A3.60 3.10 0 0 1 0 3.10 Z" fill="#4a4a4a"/><path d="M0 0 L-3.60 0 A3.60 3.10 0 0 1 0 -3.10 Z" fill="#a8a8a8"/><path d="M-3.60 0 H3.60 M0 -3.10 V3.10" stroke="#555" stroke-width="0.35"/><ellipse rx="3.60" ry="3.10" fill="none" stroke="#231f20" stroke-width="0.8"/></g>
<g transform="translate(174.22 83.80) rotate(128)"><ellipse rx="3.60" ry="3.10" fill="#fbfbfb"/><path d="M0 0 L3.60 0 A3.60 3.10 0 0 1 0 3.10 Z" fill="#4a4a4a"/><path d="M0 0 L-3.60 0 A3.60 3.10 0 0 1 0 -3.10 Z" fill="#a8a8a8"/><path d="M-3.60 0 H3.60 M0 -3.10 V3.10" stroke="#555" stroke-width="0.35"/><ellipse rx="3.60" ry="3.10" fill="none" stroke="#231f20" stroke-width="0.8"/></g>
<g transform="translate(174.22 67.20) rotate(1)"><ellipse rx="3.60" ry="3.10" fill="#fbfbfb"/><path d="M0 0 L3.60 0 A3.60 3.10 0 0 1 0 3.10 Z" fill="#4a4a4a"/><path d="M0 0 L-3.60 0 A3.60 3.10 0 0 1 0 -3.10 Z" fill="#a8a8a8"/><path d="M-3.60 0 H3.60 M0 -3.10 V3.10" stroke="#555" stroke-width="0.35"/><ellipse rx="3.60" ry="3.10" fill="none" stroke="#231f20" stroke-width="0.8"/></g>
<g transform="translate(231.88 83.80) rotate(54)"><ellipse rx="3.60" ry="3.10" fill="#fbfbfb"/><path d="M0 0 L3.60 0 A3.60 3.10 0 0 1 0 3.10 Z" fill="#4a4a4a"/><path d="M0 0 L-3.60 0 A3.60 3.10 0 0 1 0 -3.10 Z" fill="#a8a8a8"/><path d="M-3.60 0 H3.60 M0 -3.10 V3.10" stroke="#555" stroke-width="0.35"/><ellipse rx="3.60" ry="3.10" fill="none" stroke="#231f20" stroke-width="0.8"/></g>
<g transform="translate(217.50 92.10) rotate(107)"><ellipse rx="3.60" ry="3.10" fill="#fbfbfb"/><path d="M0 0 L3.60 0 A3.60 3.10 0 0 1 0 3.10 Z" fill="#4a4a4a"/><path d="M0 0 L-3.60 0 A3.60 3.10 0 0 1 0 -3.10 Z" fill="#a8a8a8"/><path d="M-3.60 0 H3.60 M0 -3.10 V3.10" stroke="#555" stroke-width="0.35"/><ellipse rx="3.60" ry="3.10" fill="none" stroke="#231f20" stroke-width="0.8"/></g>
<g transform="translate(291.98 67.10) rotate(160)"><ellipse rx="3.60" ry="3.10" fill="#fbfbfb"/><path d="M0 0 L3.60 0 A3.60 3.10 0 0 1 0 3.10 Z" fill="#4a4a4a"/><path d="M0 0 L-3.60 0 A3.60 3.10 0 0 1 0 -3.10 Z" fill="#a8a8a8"/><path d="M-3.60 0 H3.60 M0 -3.10 V3.10" stroke="#555" stroke-width="0.35"/><ellipse rx="3.60" ry="3.10" fill="none" stroke="#231f20" stroke-width="0.8"/></g>
<g transform="translate(291.98 83.70) rotate(33)"><ellipse rx="3.60" ry="3.10" fill="#fbfbfb"/><path d="M0 0 L3.60 0 A3.60 3.10 0 0 1 0 3.10 Z" fill="#4a4a4a"/><path d="M0 0 L-3.60 0 A3.60 3.10 0 0 1 0 -3.10 Z" fill="#a8a8a8"/><path d="M-3.60 0 H3.60 M0 -3.10 V3.10" stroke="#555" stroke-width="0.35"/><ellipse rx="3.60" ry="3.10" fill="none" stroke="#231f20" stroke-width="0.8"/></g>
<g transform="translate(277.60 92.00) rotate(86)"><ellipse rx="3.60" ry="3.10" fill="#fbfbfb"/><path d="M0 0 L3.60 0 A3.60 3.10 0 0 1 0 3.10 Z" fill="#4a4a4a"/><path d="M0 0 L-3.60 0 A3.60 3.10 0 0 1 0 -3.10 Z" fill="#a8a8a8"/><path d="M-3.60 0 H3.60 M0 -3.10 V3.10" stroke="#555" stroke-width="0.35"/><ellipse rx="3.60" ry="3.10" fill="none" stroke="#231f20" stroke-width="0.8"/></g>
<g transform="translate(263.22 83.70) rotate(139)"><ellipse rx="3.60" ry="3.10" fill="#fbfbfb"/><path d="M0 0 L3.60 0 A3.60 3.10 0 0 1 0 3.10 Z" fill="#4a4a4a"/><path d="M0 0 L-3.60 0 A3.60 3.10 0 0 1 0 -3.10 Z" fill="#a8a8a8"/><path d="M-3.60 0 H3.60 M0 -3.10 V3.10" stroke="#555" stroke-width="0.35"/><ellipse rx="3.60" ry="3.10" fill="none" stroke="#231f20" stroke-width="0.8"/></g>
<g transform="translate(216.78 108.30) rotate(12)"><ellipse rx="3.60" ry="3.10" fill="#fbfbfb"/><path d="M0 0 L3.60 0 A3.60 3.10 0 0 1 0 3.10 Z" fill="#4a4a4a"/><path d="M0 0 L-3.60 0 A3.60 3.10 0 0 1 0 -3.10 Z" fill="#a8a8a8"/><path d="M-3.60 0 H3.60 M0 -3.10 V3.10" stroke="#555" stroke-width="0.35"/><ellipse rx="3.60" ry="3.10" fill="none" stroke="#231f20" stroke-width="0.8"/></g>
<g transform="translate(202.40 116.60) rotate(65)"><ellipse rx="3.60" ry="3.10" fill="#fbfbfb"/><path d="M0 0 L3.60 0 A3.60 3.10 0 0 1 0 3.10 Z" fill="#4a4a4a"/><path d="M0 0 L-3.60 0 A3.60 3.10 0 0 1 0 -3.10 Z" fill="#a8a8a8"/><path d="M-3.60 0 H3.60 M0 -3.10 V3.10" stroke="#555" stroke-width="0.35"/><ellipse rx="3.60" ry="3.10" fill="none" stroke="#231f20" stroke-width="0.8"/></g>
<g transform="translate(188.02 108.30) rotate(118)"><ellipse rx="3.60" ry="3.10" fill="#fbfbfb"/><path d="M0 0 L3.60 0 A3.60 3.10 0 0 1 0 3.10 Z" fill="#4a4a4a"/><path d="M0 0 L-3.60 0 A3.60 3.10 0 0 1 0 -3.10 Z" fill="#a8a8a8"/><path d="M-3.60 0 H3.60 M0 -3.10 V3.10" stroke="#555" stroke-width="0.35"/><ellipse rx="3.60" ry="3.10" fill="none" stroke="#231f20" stroke-width="0.8"/></g>
<g transform="translate(244.98 91.70) rotate(171)"><ellipse rx="3.60" ry="3.10" fill="#fbfbfb"/><path d="M0 0 L3.60 0 A3.60 3.10 0 0 1 0 3.10 Z" fill="#4a4a4a"/><path d="M0 0 L-3.60 0 A3.60 3.10 0 0 1 0 -3.10 Z" fill="#a8a8a8"/><path d="M-3.60 0 H3.60 M0 -3.10 V3.10" stroke="#555" stroke-width="0.35"/><ellipse rx="3.60" ry="3.10" fill="none" stroke="#231f20" stroke-width="0.8"/></g>
<g transform="translate(244.98 108.30) rotate(44)"><ellipse rx="3.60" ry="3.10" fill="#fbfbfb"/><path d="M0 0 L3.60 0 A3.60 3.10 0 0 1 0 3.10 Z" fill="#4a4a4a"/><path d="M0 0 L-3.60 0 A3.60 3.10 0 0 1 0 -3.10 Z" fill="#a8a8a8"/><path d="M-3.60 0 H3.60 M0 -3.10 V3.10" stroke="#555" stroke-width="0.35"/><ellipse rx="3.60" ry="3.10" fill="none" stroke="#231f20" stroke-width="0.8"/></g>
<g transform="translate(230.60 116.60) rotate(97)"><ellipse rx="3.60" ry="3.10" fill="#fbfbfb"/><path d="M0 0 L3.60 0 A3.60 3.10 0 0 1 0 3.10 Z" fill="#4a4a4a"/><path d="M0 0 L-3.60 0 A3.60 3.10 0 0 1 0 -3.10 Z" fill="#a8a8a8"/><path d="M-3.60 0 H3.60 M0 -3.10 V3.10" stroke="#555" stroke-width="0.35"/><ellipse rx="3.60" ry="3.10" fill="none" stroke="#231f20" stroke-width="0.8"/></g>
<g transform="translate(280.58 107.50) rotate(150)"><ellipse rx="3.60" ry="3.10" fill="#fbfbfb"/><path d="M0 0 L3.60 0 A3.60 3.10 0 0 1 0 3.10 Z" fill="#4a4a4a"/><path d="M0 0 L-3.60 0 A3.60 3.10 0 0 1 0 -3.10 Z" fill="#a8a8a8"/><path d="M-3.60 0 H3.60 M0 -3.10 V3.10" stroke="#555" stroke-width="0.35"/><ellipse rx="3.60" ry="3.10" fill="none" stroke="#231f20" stroke-width="0.8"/></g>
<g transform="translate(266.20 115.80) rotate(23)"><ellipse rx="3.60" ry="3.10" fill="#fbfbfb"/><path d="M0 0 L3.60 0 A3.60 3.10 0 0 1 0 3.10 Z" fill="#4a4a4a"/><path d="M0 0 L-3.60 0 A3.60 3.10 0 0 1 0 -3.10 Z" fill="#a8a8a8"/><path d="M-3.60 0 H3.60 M0 -3.10 V3.10" stroke="#555" stroke-width="0.35"/><ellipse rx="3.60" ry="3.10" fill="none" stroke="#231f20" stroke-width="0.8"/></g>
<g transform="translate(251.82 107.50) rotate(76)"><ellipse rx="3.60" ry="3.10" fill="#fbfbfb"/><path d="M0 0 L3.60 0 A3.60 3.10 0 0 1 0 3.10 Z" fill="#4a4a4a"/><path d="M0 0 L-3.60 0 A3.60 3.10 0 0 1 0 -3.10 Z" fill="#a8a8a8"/><path d="M-3.60 0 H3.60 M0 -3.10 V3.10" stroke="#555" stroke-width="0.35"/><ellipse rx="3.60" ry="3.10" fill="none" stroke="#231f20" stroke-width="0.8"/></g>
<g transform="translate(251.82 90.90) rotate(129)"><ellipse rx="3.60" ry="3.10" fill="#fbfbfb"/><path d="M0 0 L3.60 0 A3.60 3.10 0 0 1 0 3.10 Z" fill="#4a4a4a"/><path d="M0 0 L-3.60 0 A3.60 3.10 0 0 1 0 -3.10 Z" fill="#a8a8a8"/><path d="M-3.60 0 H3.60 M0 -3.10 V3.10" stroke="#555" stroke-width="0.35"/><ellipse rx="3.60" ry="3.10" fill="none" stroke="#231f20" stroke-width="0.8"/></g>
<text x="203.60" y="50.30" font-size="10.70" font-weight="bold" fill="#231f20" text-anchor="middle"   stroke="#231f20" stroke-width="0.22">E</text>
<text x="203.60" y="59.50" font-size="7.70" font-weight="bold" fill="#231f20" text-anchor="middle"   stroke="#231f20" stroke-width="0.12">0.54</text>
<text x="232.38" y="50.30" font-size="10.70" font-weight="bold" fill="#231f20" text-anchor="middle"   stroke="#231f20" stroke-width="0.22">F</text>
<text x="232.38" y="59.50" font-size="7.70" font-weight="bold" fill="#231f20" text-anchor="middle"   stroke="#231f20" stroke-width="0.12">0.70</text>
<text x="261.18" y="50.30" font-size="10.70" font-weight="bold" fill="#231f20" text-anchor="middle"   stroke="#231f20" stroke-width="0.22">G</text>
<text x="261.18" y="59.50" font-size="7.70" font-weight="bold" fill="#231f20" text-anchor="middle"   stroke="#231f20" stroke-width="0.12">0.41</text>
<text x="188.81" y="75.00" font-size="10.70" font-weight="bold" fill="#231f20" text-anchor="middle"   stroke="#231f20" stroke-width="0.22">C</text>
<text x="188.81" y="84.20" font-size="7.70" font-weight="bold" fill="#231f20" text-anchor="middle"   stroke="#231f20" stroke-width="0.12">0.82</text>
<text x="217.72" y="75.05" font-size="10.70" font-weight="bold" fill="#231f20" text-anchor="middle"   stroke="#231f20" stroke-width="0.22">D</text>
<text x="217.72" y="84.25" font-size="7.70" font-weight="bold" fill="#231f20" text-anchor="middle"   stroke="#231f20" stroke-width="0.12">0.45</text>
<text x="276.93" y="74.93" font-size="10.70" font-weight="bold" fill="#231f20" text-anchor="middle"   stroke="#231f20" stroke-width="0.22">H</text>
<text x="276.93" y="84.13" font-size="7.70" font-weight="bold" fill="#231f20" text-anchor="middle"   stroke="#231f20" stroke-width="0.12">0.54</text>
<text x="202.71" y="99.60" font-size="10.70" font-weight="bold" fill="#231f20" text-anchor="middle"   stroke="#231f20" stroke-width="0.22">A</text>
<text x="202.71" y="108.80" font-size="7.70" font-weight="bold" fill="#231f20" text-anchor="middle"   stroke="#231f20" stroke-width="0.12">0.65</text>
<text x="231.12" y="99.53" font-size="10.70" font-weight="bold" fill="#231f20" text-anchor="middle"   stroke="#231f20" stroke-width="0.22">B</text>
<text x="231.12" y="108.73" font-size="7.70" font-weight="bold" fill="#231f20" text-anchor="middle"   stroke="#231f20" stroke-width="0.12">0.89</text>
<text x="265.21" y="98.97" font-size="10.70" font-weight="bold" fill="#231f20" text-anchor="middle"   stroke="#231f20" stroke-width="0.22">I</text>
<text x="265.21" y="108.17" font-size="7.70" font-weight="bold" fill="#231f20" text-anchor="middle"   stroke="#231f20" stroke-width="0.12">0.83</text>
<polygon points="361.20,34.10 374.71,41.90 374.71,57.50 361.20,65.30 347.69,57.50 347.69,41.90" fill="#f5e9ba" stroke="none"/>
<polygon points="390.20,34.10 403.71,41.90 403.71,57.50 390.20,65.30 376.45,57.50 376.45,41.90" fill="#fcf1f0" stroke="none"/>
<polygon points="419.39,34.10 432.90,41.90 432.90,57.50 419.39,65.30 405.46,57.50 405.46,41.90" fill="#ebd272" stroke="none"/>
<polygon points="346.82,58.97 360.33,66.77 360.12,81.81 346.60,89.62 333.09,81.81 333.09,66.21" fill="#cc5c74" stroke="none"/>
<polygon points="375.57,58.98 389.32,66.78 388.92,81.82 375.41,89.62 361.85,81.82 362.06,66.78" fill="#fefbf6" stroke="none"/>
<polygon points="433.78,58.97 447.51,66.21 447.51,81.81 434.00,89.62 420.48,81.81 420.27,66.77" fill="#fbf5e5" stroke="none"/>
<polygon points="360.97,83.29 374.53,91.09 374.32,106.41 360.81,114.21 347.29,106.41 347.46,91.09" fill="#f9f1d7" stroke="none"/>
<polygon points="389.75,83.28 402.53,90.80 402.53,106.41 389.02,114.21 376.03,106.41 376.24,91.09" fill="#ce667b" stroke="none"/>
<polygon points="419.63,83.28 433.14,91.09 435.00,106.41 421.48,114.21 404.35,106.41 404.35,90.80" fill="#fffdfa" stroke="none"/>
<line x1="361.20" y1="33.10" x2="361.20" y2="23.10" stroke="#231f20" stroke-width="1.7"/>
<line x1="346.82" y1="41.40" x2="338.16" y2="36.40" stroke="#231f20" stroke-width="1.7"/>
<line x1="390.20" y1="33.10" x2="390.24" y2="23.10" stroke="#231f20" stroke-width="1.7"/>
<line x1="419.40" y1="33.10" x2="419.47" y2="23.10" stroke="#231f20" stroke-width="1.7"/>
<line x1="433.78" y1="41.40" x2="442.44" y2="36.40" stroke="#231f20" stroke-width="1.7"/>
<line x1="332.22" y1="82.30" x2="323.56" y2="87.30" stroke="#231f20" stroke-width="1.7"/>
<line x1="332.22" y1="65.70" x2="323.66" y2="60.54" stroke="#231f20" stroke-width="1.7"/>
<line x1="448.38" y1="65.70" x2="456.94" y2="60.54" stroke="#231f20" stroke-width="1.7"/>
<line x1="448.38" y1="82.30" x2="457.04" y2="87.30" stroke="#231f20" stroke-width="1.7"/>
<line x1="360.80" y1="115.20" x2="360.80" y2="125.20" stroke="#231f20" stroke-width="1.7"/>
<line x1="346.42" y1="106.90" x2="337.74" y2="111.85" stroke="#231f20" stroke-width="1.7"/>
<line x1="389.00" y1="115.20" x2="388.91" y2="125.20" stroke="#231f20" stroke-width="1.7"/>
<line x1="435.98" y1="106.90" x2="444.92" y2="111.37" stroke="#231f20" stroke-width="1.7"/>
<line x1="421.60" y1="115.20" x2="422.08" y2="125.19" stroke="#231f20" stroke-width="1.7"/>
<line x1="395.70" y1="81.90" x2="396.30" y2="71.40" stroke="#231f20" stroke-width="1.7"/>
<line x1="402.50" y1="89.20" x2="410.40" y2="83.10" stroke="#231f20" stroke-width="1.7"/>
<line x1="361.20" y1="66.30" x2="346.82" y2="58.00" stroke="#231f20" stroke-width="2.4" stroke-linecap="round"/>
<line x1="332.22" y1="82.30" x2="332.22" y2="65.70" stroke="#231f20" stroke-width="2.4" stroke-linecap="round"/>
<line x1="433.78" y1="58.00" x2="419.40" y2="66.30" stroke="#231f20" stroke-width="2.4" stroke-linecap="round"/>
<line x1="448.38" y1="82.30" x2="434.00" y2="90.60" stroke="#231f20" stroke-width="2.4" stroke-linecap="round"/>
<line x1="434.00" y1="90.60" x2="419.62" y2="82.30" stroke="#231f20" stroke-width="2.4" stroke-linecap="round"/>
<line x1="360.98" y1="82.30" x2="375.40" y2="90.60" stroke="#231f20" stroke-width="2.4" stroke-linecap="round"/>
<line x1="404.58" y1="58.00" x2="390.20" y2="66.30" stroke="#231f20" stroke-width="2.4" stroke-linecap="round"/>
<line x1="361.20" y1="33.10" x2="346.82" y2="41.40" stroke="#231f20" stroke-width="2.4" stroke-linecap="round"/>
<line x1="375.58" y1="41.40" x2="390.20" y2="33.10" stroke="#231f20" stroke-width="2.4" stroke-linecap="round"/>
<line x1="403.38" y1="90.30" x2="403.38" y2="106.90" stroke="#231f20" stroke-width="2.4" stroke-linecap="round"/>
<line x1="360.80" y1="115.20" x2="346.42" y2="106.90" stroke="#231f20" stroke-width="2.4" stroke-linecap="round"/>
<line x1="375.40" y1="90.60" x2="375.18" y2="106.90" stroke="#231f20" stroke-width="2.4" stroke-linecap="round"/>
<line x1="419.40" y1="66.30" x2="419.62" y2="82.30" stroke="#231f20" stroke-width="2.4" stroke-linecap="round"/>
<line x1="404.58" y1="41.40" x2="419.40" y2="33.10" stroke="#231f20" stroke-width="2.4" stroke-linecap="round"/>
<line x1="389.78" y1="82.30" x2="375.40" y2="90.60" stroke="#231f20" stroke-width="2.4" stroke-linecap="round"/>
<line x1="346.60" y1="90.60" x2="346.42" y2="106.90" stroke="#231f20" stroke-width="2.4" stroke-linecap="round"/>
<line x1="375.18" y1="106.90" x2="389.00" y2="115.20" stroke="#231f20" stroke-width="2.4" stroke-linecap="round"/>
<line x1="346.82" y1="58.00" x2="346.82" y2="41.40" stroke="#231f20" stroke-width="2.4" stroke-linecap="round"/>
<line x1="346.82" y1="58.00" x2="332.22" y2="65.70" stroke="#231f20" stroke-width="2.4" stroke-linecap="round"/>
<line x1="360.98" y1="82.30" x2="346.60" y2="90.60" stroke="#231f20" stroke-width="2.4" stroke-linecap="round"/>
<line x1="361.20" y1="33.10" x2="375.58" y2="41.40" stroke="#231f20" stroke-width="2.4" stroke-linecap="round"/>
<line x1="419.62" y1="82.30" x2="403.38" y2="90.30" stroke="#231f20" stroke-width="2.4" stroke-linecap="round"/>
<line x1="375.58" y1="41.40" x2="375.58" y2="58.00" stroke="#231f20" stroke-width="2.4" stroke-linecap="round"/>
<line x1="419.40" y1="33.10" x2="433.78" y2="41.40" stroke="#231f20" stroke-width="2.4" stroke-linecap="round"/>
<line x1="403.38" y1="106.90" x2="389.00" y2="115.20" stroke="#231f20" stroke-width="2.4" stroke-linecap="round"/>
<line x1="390.20" y1="33.10" x2="404.58" y2="41.40" stroke="#231f20" stroke-width="2.4" stroke-linecap="round"/>
<line x1="346.60" y1="90.60" x2="332.22" y2="82.30" stroke="#231f20" stroke-width="2.4" stroke-linecap="round"/>
<line x1="375.18" y1="106.90" x2="360.80" y2="115.20" stroke="#231f20" stroke-width="2.4" stroke-linecap="round"/>
<line x1="448.38" y1="65.70" x2="448.38" y2="82.30" stroke="#231f20" stroke-width="2.4" stroke-linecap="round"/>
<line x1="389.78" y1="82.30" x2="403.38" y2="90.30" stroke="#231f20" stroke-width="2.4" stroke-linecap="round"/>
<line x1="361.20" y1="66.30" x2="360.98" y2="82.30" stroke="#231f20" stroke-width="2.4" stroke-linecap="round"/>
<line x1="433.78" y1="58.00" x2="448.38" y2="65.70" stroke="#231f20" stroke-width="2.4" stroke-linecap="round"/>
<line x1="434.00" y1="90.60" x2="435.98" y2="106.90" stroke="#231f20" stroke-width="2.4" stroke-linecap="round"/>
<line x1="375.58" y1="58.00" x2="361.20" y2="66.30" stroke="#231f20" stroke-width="2.4" stroke-linecap="round"/>
<line x1="375.58" y1="58.00" x2="390.20" y2="66.30" stroke="#231f20" stroke-width="2.4" stroke-linecap="round"/>
<line x1="433.78" y1="41.40" x2="433.78" y2="58.00" stroke="#231f20" stroke-width="2.4" stroke-linecap="round"/>
<line x1="404.58" y1="58.00" x2="419.40" y2="66.30" stroke="#231f20" stroke-width="2.4" stroke-linecap="round"/>
<line x1="390.20" y1="66.30" x2="389.78" y2="82.30" stroke="#231f20" stroke-width="2.4" stroke-linecap="round"/>
<line x1="403.38" y1="106.90" x2="421.60" y2="115.20" stroke="#231f20" stroke-width="2.4" stroke-linecap="round"/>
<line x1="435.98" y1="106.90" x2="421.60" y2="115.20" stroke="#231f20" stroke-width="2.4" stroke-linecap="round"/>
<line x1="404.58" y1="41.40" x2="404.58" y2="58.00" stroke="#231f20" stroke-width="2.4" stroke-linecap="round"/>
<circle cx="361.20" cy="23.10" r="1.9" fill="#fff" stroke="#231f20" stroke-width="0.8"/>
<circle cx="338.16" cy="36.40" r="1.9" fill="#fff" stroke="#231f20" stroke-width="0.8"/>
<circle cx="390.24" cy="23.10" r="1.9" fill="#fff" stroke="#231f20" stroke-width="0.8"/>
<circle cx="419.47" cy="23.10" r="1.9" fill="#fff" stroke="#231f20" stroke-width="0.8"/>
<circle cx="442.44" cy="36.40" r="1.9" fill="#fff" stroke="#231f20" stroke-width="0.8"/>
<circle cx="323.56" cy="87.30" r="1.9" fill="#fff" stroke="#231f20" stroke-width="0.8"/>
<circle cx="323.66" cy="60.54" r="1.9" fill="#fff" stroke="#231f20" stroke-width="0.8"/>
<circle cx="456.94" cy="60.54" r="1.9" fill="#fff" stroke="#231f20" stroke-width="0.8"/>
<circle cx="457.04" cy="87.30" r="1.9" fill="#fff" stroke="#231f20" stroke-width="0.8"/>
<circle cx="360.80" cy="125.20" r="1.9" fill="#fff" stroke="#231f20" stroke-width="0.8"/>
<circle cx="337.74" cy="111.85" r="1.9" fill="#fff" stroke="#231f20" stroke-width="0.8"/>
<circle cx="388.91" cy="125.20" r="1.9" fill="#fff" stroke="#231f20" stroke-width="0.8"/>
<circle cx="444.92" cy="111.37" r="1.9" fill="#fff" stroke="#231f20" stroke-width="0.8"/>
<circle cx="422.08" cy="125.19" r="1.9" fill="#fff" stroke="#231f20" stroke-width="0.8"/>
<circle cx="396.30" cy="71.40" r="1.9" fill="#fff" stroke="#231f20" stroke-width="0.8"/>
<circle cx="410.40" cy="83.10" r="1.9" fill="#fff" stroke="#231f20" stroke-width="0.8"/>
<g transform="translate(361.20 33.10) rotate(0)"><ellipse rx="3.60" ry="3.10" fill="#fbfbfb"/><path d="M0 0 L3.60 0 A3.60 3.10 0 0 1 0 3.10 Z" fill="#4a4a4a"/><path d="M0 0 L-3.60 0 A3.60 3.10 0 0 1 0 -3.10 Z" fill="#a8a8a8"/><path d="M-3.60 0 H3.60 M0 -3.10 V3.10" stroke="#555" stroke-width="0.35"/><ellipse rx="3.60" ry="3.10" fill="none" stroke="#231f20" stroke-width="0.8"/></g>
<g transform="translate(375.58 41.40) rotate(53)"><ellipse rx="3.60" ry="3.10" fill="#fbfbfb"/><path d="M0 0 L3.60 0 A3.60 3.10 0 0 1 0 3.10 Z" fill="#4a4a4a"/><path d="M0 0 L-3.60 0 A3.60 3.10 0 0 1 0 -3.10 Z" fill="#a8a8a8"/><path d="M-3.60 0 H3.60 M0 -3.10 V3.10" stroke="#555" stroke-width="0.35"/><ellipse rx="3.60" ry="3.10" fill="none" stroke="#231f20" stroke-width="0.8"/></g>
<g transform="translate(375.58 58.00) rotate(106)"><ellipse rx="3.60" ry="3.10" fill="#fbfbfb"/><path d="M0 0 L3.60 0 A3.60 3.10 0 0 1 0 3.10 Z" fill="#4a4a4a"/><path d="M0 0 L-3.60 0 A3.60 3.10 0 0 1 0 -3.10 Z" fill="#a8a8a8"/><path d="M-3.60 0 H3.60 M0 -3.10 V3.10" stroke="#555" stroke-width="0.35"/><ellipse rx="3.60" ry="3.10" fill="none" stroke="#231f20" stroke-width="0.8"/></g>
<g transform="translate(361.20 66.30) rotate(159)"><ellipse rx="3.60" ry="3.10" fill="#fbfbfb"/><path d="M0 0 L3.60 0 A3.60 3.10 0 0 1 0 3.10 Z" fill="#4a4a4a"/><path d="M0 0 L-3.60 0 A3.60 3.10 0 0 1 0 -3.10 Z" fill="#a8a8a8"/><path d="M-3.60 0 H3.60 M0 -3.10 V3.10" stroke="#555" stroke-width="0.35"/><ellipse rx="3.60" ry="3.10" fill="none" stroke="#231f20" stroke-width="0.8"/></g>
<g transform="translate(346.82 58.00) rotate(32)"><ellipse rx="3.60" ry="3.10" fill="#fbfbfb"/><path d="M0 0 L3.60 0 A3.60 3.10 0 0 1 0 3.10 Z" fill="#4a4a4a"/><path d="M0 0 L-3.60 0 A3.60 3.10 0 0 1 0 -3.10 Z" fill="#a8a8a8"/><path d="M-3.60 0 H3.60 M0 -3.10 V3.10" stroke="#555" stroke-width="0.35"/><ellipse rx="3.60" ry="3.10" fill="none" stroke="#231f20" stroke-width="0.8"/></g>
<g transform="translate(346.82 41.40) rotate(85)"><ellipse rx="3.60" ry="3.10" fill="#fbfbfb"/><path d="M0 0 L3.60 0 A3.60 3.10 0 0 1 0 3.10 Z" fill="#4a4a4a"/><path d="M0 0 L-3.60 0 A3.60 3.10 0 0 1 0 -3.10 Z" fill="#a8a8a8"/><path d="M-3.60 0 H3.60 M0 -3.10 V3.10" stroke="#555" stroke-width="0.35"/><ellipse rx="3.60" ry="3.10" fill="none" stroke="#231f20" stroke-width="0.8"/></g>
<g transform="translate(390.20 33.10) rotate(138)"><ellipse rx="3.60" ry="3.10" fill="#fbfbfb"/><path d="M0 0 L3.60 0 A3.60 3.10 0 0 1 0 3.10 Z" fill="#4a4a4a"/><path d="M0 0 L-3.60 0 A3.60 3.10 0 0 1 0 -3.10 Z" fill="#a8a8a8"/><path d="M-3.60 0 H3.60 M0 -3.10 V3.10" stroke="#555" stroke-width="0.35"/><ellipse rx="3.60" ry="3.10" fill="none" stroke="#231f20" stroke-width="0.8"/></g>
<g transform="translate(404.58 41.40) rotate(11)"><ellipse rx="3.60" ry="3.10" fill="#fbfbfb"/><path d="M0 0 L3.60 0 A3.60 3.10 0 0 1 0 3.10 Z" fill="#4a4a4a"/><path d="M0 0 L-3.60 0 A3.60 3.10 0 0 1 0 -3.10 Z" fill="#a8a8a8"/><path d="M-3.60 0 H3.60 M0 -3.10 V3.10" stroke="#555" stroke-width="0.35"/><ellipse rx="3.60" ry="3.10" fill="none" stroke="#231f20" stroke-width="0.8"/></g>
<g transform="translate(404.58 58.00) rotate(64)"><ellipse rx="3.60" ry="3.10" fill="#fbfbfb"/><path d="M0 0 L3.60 0 A3.60 3.10 0 0 1 0 3.10 Z" fill="#4a4a4a"/><path d="M0 0 L-3.60 0 A3.60 3.10 0 0 1 0 -3.10 Z" fill="#a8a8a8"/><path d="M-3.60 0 H3.60 M0 -3.10 V3.10" stroke="#555" stroke-width="0.35"/><ellipse rx="3.60" ry="3.10" fill="none" stroke="#231f20" stroke-width="0.8"/></g>
<g transform="translate(390.20 66.30) rotate(117)"><ellipse rx="3.60" ry="3.10" fill="#fbfbfb"/><path d="M0 0 L3.60 0 A3.60 3.10 0 0 1 0 3.10 Z" fill="#4a4a4a"/><path d="M0 0 L-3.60 0 A3.60 3.10 0 0 1 0 -3.10 Z" fill="#a8a8a8"/><path d="M-3.60 0 H3.60 M0 -3.10 V3.10" stroke="#555" stroke-width="0.35"/><ellipse rx="3.60" ry="3.10" fill="none" stroke="#231f20" stroke-width="0.8"/></g>
<g transform="translate(419.40 33.10) rotate(170)"><ellipse rx="3.60" ry="3.10" fill="#fbfbfb"/><path d="M0 0 L3.60 0 A3.60 3.10 0 0 1 0 3.10 Z" fill="#4a4a4a"/><path d="M0 0 L-3.60 0 A3.60 3.10 0 0 1 0 -3.10 Z" fill="#a8a8a8"/><path d="M-3.60 0 H3.60 M0 -3.10 V3.10" stroke="#555" stroke-width="0.35"/><ellipse rx="3.60" ry="3.10" fill="none" stroke="#231f20" stroke-width="0.8"/></g>
<g transform="translate(433.78 41.40) rotate(43)"><ellipse rx="3.60" ry="3.10" fill="#fbfbfb"/><path d="M0 0 L3.60 0 A3.60 3.10 0 0 1 0 3.10 Z" fill="#4a4a4a"/><path d="M0 0 L-3.60 0 A3.60 3.10 0 0 1 0 -3.10 Z" fill="#a8a8a8"/><path d="M-3.60 0 H3.60 M0 -3.10 V3.10" stroke="#555" stroke-width="0.35"/><ellipse rx="3.60" ry="3.10" fill="none" stroke="#231f20" stroke-width="0.8"/></g>
<g transform="translate(433.78 58.00) rotate(96)"><ellipse rx="3.60" ry="3.10" fill="#fbfbfb"/><path d="M0 0 L3.60 0 A3.60 3.10 0 0 1 0 3.10 Z" fill="#4a4a4a"/><path d="M0 0 L-3.60 0 A3.60 3.10 0 0 1 0 -3.10 Z" fill="#a8a8a8"/><path d="M-3.60 0 H3.60 M0 -3.10 V3.10" stroke="#555" stroke-width="0.35"/><ellipse rx="3.60" ry="3.10" fill="none" stroke="#231f20" stroke-width="0.8"/></g>
<g transform="translate(419.40 66.30) rotate(149)"><ellipse rx="3.60" ry="3.10" fill="#fbfbfb"/><path d="M0 0 L3.60 0 A3.60 3.10 0 0 1 0 3.10 Z" fill="#4a4a4a"/><path d="M0 0 L-3.60 0 A3.60 3.10 0 0 1 0 -3.10 Z" fill="#a8a8a8"/><path d="M-3.60 0 H3.60 M0 -3.10 V3.10" stroke="#555" stroke-width="0.35"/><ellipse rx="3.60" ry="3.10" fill="none" stroke="#231f20" stroke-width="0.8"/></g>
<g transform="translate(360.98 82.30) rotate(22)"><ellipse rx="3.60" ry="3.10" fill="#fbfbfb"/><path d="M0 0 L3.60 0 A3.60 3.10 0 0 1 0 3.10 Z" fill="#4a4a4a"/><path d="M0 0 L-3.60 0 A3.60 3.10 0 0 1 0 -3.10 Z" fill="#a8a8a8"/><path d="M-3.60 0 H3.60 M0 -3.10 V3.10" stroke="#555" stroke-width="0.35"/><ellipse rx="3.60" ry="3.10" fill="none" stroke="#231f20" stroke-width="0.8"/></g>
<g transform="translate(346.60 90.60) rotate(75)"><ellipse rx="3.60" ry="3.10" fill="#fbfbfb"/><path d="M0 0 L3.60 0 A3.60 3.10 0 0 1 0 3.10 Z" fill="#4a4a4a"/><path d="M0 0 L-3.60 0 A3.60 3.10 0 0 1 0 -3.10 Z" fill="#a8a8a8"/><path d="M-3.60 0 H3.60 M0 -3.10 V3.10" stroke="#555" stroke-width="0.35"/><ellipse rx="3.60" ry="3.10" fill="none" stroke="#231f20" stroke-width="0.8"/></g>
<g transform="translate(332.22 82.30) rotate(128)"><ellipse rx="3.60" ry="3.10" fill="#fbfbfb"/><path d="M0 0 L3.60 0 A3.60 3.10 0 0 1 0 3.10 Z" fill="#4a4a4a"/><path d="M0 0 L-3.60 0 A3.60 3.10 0 0 1 0 -3.10 Z" fill="#a8a8a8"/><path d="M-3.60 0 H3.60 M0 -3.10 V3.10" stroke="#555" stroke-width="0.35"/><ellipse rx="3.60" ry="3.10" fill="none" stroke="#231f20" stroke-width="0.8"/></g>
<g transform="translate(332.22 65.70) rotate(1)"><ellipse rx="3.60" ry="3.10" fill="#fbfbfb"/><path d="M0 0 L3.60 0 A3.60 3.10 0 0 1 0 3.10 Z" fill="#4a4a4a"/><path d="M0 0 L-3.60 0 A3.60 3.10 0 0 1 0 -3.10 Z" fill="#a8a8a8"/><path d="M-3.60 0 H3.60 M0 -3.10 V3.10" stroke="#555" stroke-width="0.35"/><ellipse rx="3.60" ry="3.10" fill="none" stroke="#231f20" stroke-width="0.8"/></g>
<g transform="translate(389.78 82.30) rotate(54)"><ellipse rx="3.60" ry="3.10" fill="#fbfbfb"/><path d="M0 0 L3.60 0 A3.60 3.10 0 0 1 0 3.10 Z" fill="#4a4a4a"/><path d="M0 0 L-3.60 0 A3.60 3.10 0 0 1 0 -3.10 Z" fill="#a8a8a8"/><path d="M-3.60 0 H3.60 M0 -3.10 V3.10" stroke="#555" stroke-width="0.35"/><ellipse rx="3.60" ry="3.10" fill="none" stroke="#231f20" stroke-width="0.8"/></g>
<g transform="translate(375.40 90.60) rotate(107)"><ellipse rx="3.60" ry="3.10" fill="#fbfbfb"/><path d="M0 0 L3.60 0 A3.60 3.10 0 0 1 0 3.10 Z" fill="#4a4a4a"/><path d="M0 0 L-3.60 0 A3.60 3.10 0 0 1 0 -3.10 Z" fill="#a8a8a8"/><path d="M-3.60 0 H3.60 M0 -3.10 V3.10" stroke="#555" stroke-width="0.35"/><ellipse rx="3.60" ry="3.10" fill="none" stroke="#231f20" stroke-width="0.8"/></g>
<g transform="translate(448.38 65.70) rotate(160)"><ellipse rx="3.60" ry="3.10" fill="#fbfbfb"/><path d="M0 0 L3.60 0 A3.60 3.10 0 0 1 0 3.10 Z" fill="#4a4a4a"/><path d="M0 0 L-3.60 0 A3.60 3.10 0 0 1 0 -3.10 Z" fill="#a8a8a8"/><path d="M-3.60 0 H3.60 M0 -3.10 V3.10" stroke="#555" stroke-width="0.35"/><ellipse rx="3.60" ry="3.10" fill="none" stroke="#231f20" stroke-width="0.8"/></g>
<g transform="translate(448.38 82.30) rotate(33)"><ellipse rx="3.60" ry="3.10" fill="#fbfbfb"/><path d="M0 0 L3.60 0 A3.60 3.10 0 0 1 0 3.10 Z" fill="#4a4a4a"/><path d="M0 0 L-3.60 0 A3.60 3.10 0 0 1 0 -3.10 Z" fill="#a8a8a8"/><path d="M-3.60 0 H3.60 M0 -3.10 V3.10" stroke="#555" stroke-width="0.35"/><ellipse rx="3.60" ry="3.10" fill="none" stroke="#231f20" stroke-width="0.8"/></g>
<g transform="translate(434.00 90.60) rotate(86)"><ellipse rx="3.60" ry="3.10" fill="#fbfbfb"/><path d="M0 0 L3.60 0 A3.60 3.10 0 0 1 0 3.10 Z" fill="#4a4a4a"/><path d="M0 0 L-3.60 0 A3.60 3.10 0 0 1 0 -3.10 Z" fill="#a8a8a8"/><path d="M-3.60 0 H3.60 M0 -3.10 V3.10" stroke="#555" stroke-width="0.35"/><ellipse rx="3.60" ry="3.10" fill="none" stroke="#231f20" stroke-width="0.8"/></g>
<g transform="translate(419.62 82.30) rotate(139)"><ellipse rx="3.60" ry="3.10" fill="#fbfbfb"/><path d="M0 0 L3.60 0 A3.60 3.10 0 0 1 0 3.10 Z" fill="#4a4a4a"/><path d="M0 0 L-3.60 0 A3.60 3.10 0 0 1 0 -3.10 Z" fill="#a8a8a8"/><path d="M-3.60 0 H3.60 M0 -3.10 V3.10" stroke="#555" stroke-width="0.35"/><ellipse rx="3.60" ry="3.10" fill="none" stroke="#231f20" stroke-width="0.8"/></g>
<g transform="translate(375.18 106.90) rotate(12)"><ellipse rx="3.60" ry="3.10" fill="#fbfbfb"/><path d="M0 0 L3.60 0 A3.60 3.10 0 0 1 0 3.10 Z" fill="#4a4a4a"/><path d="M0 0 L-3.60 0 A3.60 3.10 0 0 1 0 -3.10 Z" fill="#a8a8a8"/><path d="M-3.60 0 H3.60 M0 -3.10 V3.10" stroke="#555" stroke-width="0.35"/><ellipse rx="3.60" ry="3.10" fill="none" stroke="#231f20" stroke-width="0.8"/></g>
<g transform="translate(360.80 115.20) rotate(65)"><ellipse rx="3.60" ry="3.10" fill="#fbfbfb"/><path d="M0 0 L3.60 0 A3.60 3.10 0 0 1 0 3.10 Z" fill="#4a4a4a"/><path d="M0 0 L-3.60 0 A3.60 3.10 0 0 1 0 -3.10 Z" fill="#a8a8a8"/><path d="M-3.60 0 H3.60 M0 -3.10 V3.10" stroke="#555" stroke-width="0.35"/><ellipse rx="3.60" ry="3.10" fill="none" stroke="#231f20" stroke-width="0.8"/></g>
<g transform="translate(346.42 106.90) rotate(118)"><ellipse rx="3.60" ry="3.10" fill="#fbfbfb"/><path d="M0 0 L3.60 0 A3.60 3.10 0 0 1 0 3.10 Z" fill="#4a4a4a"/><path d="M0 0 L-3.60 0 A3.60 3.10 0 0 1 0 -3.10 Z" fill="#a8a8a8"/><path d="M-3.60 0 H3.60 M0 -3.10 V3.10" stroke="#555" stroke-width="0.35"/><ellipse rx="3.60" ry="3.10" fill="none" stroke="#231f20" stroke-width="0.8"/></g>
<g transform="translate(403.38 90.30) rotate(171)"><ellipse rx="3.60" ry="3.10" fill="#fbfbfb"/><path d="M0 0 L3.60 0 A3.60 3.10 0 0 1 0 3.10 Z" fill="#4a4a4a"/><path d="M0 0 L-3.60 0 A3.60 3.10 0 0 1 0 -3.10 Z" fill="#a8a8a8"/><path d="M-3.60 0 H3.60 M0 -3.10 V3.10" stroke="#555" stroke-width="0.35"/><ellipse rx="3.60" ry="3.10" fill="none" stroke="#231f20" stroke-width="0.8"/></g>
<g transform="translate(403.38 106.90) rotate(44)"><ellipse rx="3.60" ry="3.10" fill="#fbfbfb"/><path d="M0 0 L3.60 0 A3.60 3.10 0 0 1 0 3.10 Z" fill="#4a4a4a"/><path d="M0 0 L-3.60 0 A3.60 3.10 0 0 1 0 -3.10 Z" fill="#a8a8a8"/><path d="M-3.60 0 H3.60 M0 -3.10 V3.10" stroke="#555" stroke-width="0.35"/><ellipse rx="3.60" ry="3.10" fill="none" stroke="#231f20" stroke-width="0.8"/></g>
<g transform="translate(389.00 115.20) rotate(97)"><ellipse rx="3.60" ry="3.10" fill="#fbfbfb"/><path d="M0 0 L3.60 0 A3.60 3.10 0 0 1 0 3.10 Z" fill="#4a4a4a"/><path d="M0 0 L-3.60 0 A3.60 3.10 0 0 1 0 -3.10 Z" fill="#a8a8a8"/><path d="M-3.60 0 H3.60 M0 -3.10 V3.10" stroke="#555" stroke-width="0.35"/><ellipse rx="3.60" ry="3.10" fill="none" stroke="#231f20" stroke-width="0.8"/></g>
<g transform="translate(435.98 106.90) rotate(150)"><ellipse rx="3.60" ry="3.10" fill="#fbfbfb"/><path d="M0 0 L3.60 0 A3.60 3.10 0 0 1 0 3.10 Z" fill="#4a4a4a"/><path d="M0 0 L-3.60 0 A3.60 3.10 0 0 1 0 -3.10 Z" fill="#a8a8a8"/><path d="M-3.60 0 H3.60 M0 -3.10 V3.10" stroke="#555" stroke-width="0.35"/><ellipse rx="3.60" ry="3.10" fill="none" stroke="#231f20" stroke-width="0.8"/></g>
<g transform="translate(421.60 115.20) rotate(23)"><ellipse rx="3.60" ry="3.10" fill="#fbfbfb"/><path d="M0 0 L3.60 0 A3.60 3.10 0 0 1 0 3.10 Z" fill="#4a4a4a"/><path d="M0 0 L-3.60 0 A3.60 3.10 0 0 1 0 -3.10 Z" fill="#a8a8a8"/><path d="M-3.60 0 H3.60 M0 -3.10 V3.10" stroke="#555" stroke-width="0.35"/><ellipse rx="3.60" ry="3.10" fill="none" stroke="#231f20" stroke-width="0.8"/></g>
<text x="361.20" y="49.10" font-size="10.70" font-weight="bold" fill="#231f20" text-anchor="middle"   stroke="#231f20" stroke-width="0.22">E</text>
<text x="361.20" y="58.30" font-size="7.70" font-weight="bold" fill="#231f20" text-anchor="middle"   stroke="#231f20" stroke-width="0.12">0.46</text>
<text x="390.12" y="49.10" font-size="10.70" font-weight="bold" fill="#231f20" text-anchor="middle"   stroke="#231f20" stroke-width="0.22">F</text>
<text x="390.12" y="58.30" font-size="7.70" font-weight="bold" fill="#231f20" text-anchor="middle"   stroke="#231f20" stroke-width="0.12">0.62</text>
<text x="419.25" y="49.10" font-size="10.70" font-weight="bold" fill="#231f20" text-anchor="middle"   stroke="#231f20" stroke-width="0.22">G</text>
<text x="419.25" y="58.30" font-size="7.70" font-weight="bold" fill="#231f20" text-anchor="middle"   stroke="#231f20" stroke-width="0.12">0.31</text>
<text x="346.67" y="73.60" font-size="10.70" font-weight="bold" fill="#231f20" text-anchor="middle"   stroke="#231f20" stroke-width="0.22">C</text>
<text x="346.67" y="82.80" font-size="7.70" font-weight="bold" fill="#231f20" text-anchor="middle"   stroke="#231f20" stroke-width="0.12">0.90</text>
<text x="375.52" y="73.70" font-size="10.70" font-weight="bold" fill="#231f20" text-anchor="middle"   stroke="#231f20" stroke-width="0.22">D</text>
<text x="375.52" y="82.90" font-size="7.70" font-weight="bold" fill="#231f20" text-anchor="middle"   stroke="#231f20" stroke-width="0.12">0.59</text>
<text x="433.93" y="73.60" font-size="10.70" font-weight="bold" fill="#231f20" text-anchor="middle"   stroke="#231f20" stroke-width="0.22">H</text>
<text x="433.93" y="82.80" font-size="7.70" font-weight="bold" fill="#231f20" text-anchor="middle"   stroke="#231f20" stroke-width="0.12">0.55</text>
<text x="360.90" y="98.15" font-size="10.70" font-weight="bold" fill="#231f20" text-anchor="middle"   stroke="#231f20" stroke-width="0.22">A</text>
<text x="360.90" y="107.35" font-size="7.70" font-weight="bold" fill="#231f20" text-anchor="middle"   stroke="#231f20" stroke-width="0.12">0.52</text>
<text x="389.35" y="98.10" font-size="10.70" font-weight="bold" fill="#231f20" text-anchor="middle"   stroke="#231f20" stroke-width="0.22">B</text>
<text x="389.35" y="107.30" font-size="7.70" font-weight="bold" fill="#231f20" text-anchor="middle"   stroke="#231f20" stroke-width="0.12">0.88</text>
<text x="419.66" y="98.10" font-size="10.70" font-weight="bold" fill="#231f20" text-anchor="middle"   stroke="#231f20" stroke-width="0.22">I</text>
<text x="419.66" y="107.30" font-size="7.70" font-weight="bold" fill="#231f20" text-anchor="middle"   stroke="#231f20" stroke-width="0.12">0.60</text>
<polygon points="403.6,91.5 407.6,92.5 408.2,104 405,107.5 403.4,101" fill="#cc5c74" stroke="#231f20" stroke-width="0.9"/>
<path d="M388.6 81.6 L395.7 81.9 L402.5 89.2" fill="none" stroke="#231f20" stroke-width="1.8"/>
<g transform="translate(395.7 81.9) rotate(30)"><ellipse rx="3.4" ry="2.8" fill="#fbfbfb" stroke="#231f20" stroke-width="0.8"/><path d="M0 0 L3.4 0 A3.4 2.8 0 0 1 0 2.8 Z" fill="#4a4a4a"/></g>
<polygon points="396,106.5 401,107 403,109.5 399,110.5" fill="#d27685" stroke="#231f20" stroke-width="0.6"/>
<line x1="403" y1="106" x2="409" y2="115" stroke="#231f20" stroke-width="0.6"/>
<text x="411.00" y="125.30" font-size="9.80" font-weight="bold" fill="#231f20" text-anchor="middle"   stroke="#231f20" stroke-width="0.22">J</text>
<text x="411.00" y="134.00" font-size="7.20" font-weight="bold" fill="#231f20" text-anchor="middle"   stroke="#231f20" stroke-width="0.12">0.90</text>
<polygon points="45.90,194.40 59.41,202.20 59.41,217.80 45.90,225.60 32.39,217.80 32.39,202.20" fill="#e7b9bb" stroke="none"/>
<polygon points="74.70,194.40 88.21,202.20 88.21,217.80 74.70,225.60 61.14,217.80 61.14,202.20" fill="#eecccc" stroke="none"/>
<polygon points="103.50,194.40 117.01,202.20 117.01,217.80 103.50,225.60 89.94,217.80 89.94,202.20" fill="#fefbf6" stroke="none"/>
<polygon points="31.52,219.29 45.04,227.09 45.01,242.60 31.50,250.41 17.99,242.60 17.99,227.00" fill="#d68a92" stroke="none"/>
<polygon points="60.28,219.29 73.84,227.09 73.81,242.61 60.30,250.41 46.74,242.61 46.76,227.09" fill="#fef7f5" stroke="none"/>
<polygon points="89.08,219.29 102.64,227.09 102.61,242.61 89.10,250.41 75.54,242.61 75.56,227.09" fill="#f9efd2" stroke="none"/>
<polygon points="117.88,219.29 131.41,227.00 131.41,242.60 117.90,250.41 104.34,242.60 104.36,227.09" fill="#dc9ba1" stroke="none"/>
<polygon points="45.88,244.09 59.44,251.90 59.41,267.41 45.90,275.21 32.39,267.41 32.36,251.90" fill="#eecccc" stroke="none"/>
<polygon points="74.68,244.09 88.24,251.90 88.21,267.41 74.70,275.21 61.14,267.41 61.16,251.90" fill="#dc9ba1" stroke="none"/>
<line x1="45.90" y1="193.40" x2="45.90" y2="183.40" stroke="#231f20" stroke-width="1.7"/>
<line x1="31.52" y1="201.70" x2="22.86" y2="196.70" stroke="#231f20" stroke-width="1.7"/>
<line x1="74.70" y1="193.40" x2="74.71" y2="183.40" stroke="#231f20" stroke-width="1.7"/>
<line x1="103.50" y1="193.40" x2="103.51" y2="183.40" stroke="#231f20" stroke-width="1.7"/>
<line x1="117.88" y1="201.70" x2="126.54" y2="196.70" stroke="#231f20" stroke-width="1.7"/>
<line x1="17.12" y1="243.10" x2="8.46" y2="248.10" stroke="#231f20" stroke-width="1.7"/>
<line x1="17.12" y1="226.50" x2="8.48" y2="221.47" stroke="#231f20" stroke-width="1.7"/>
<line x1="132.28" y1="226.50" x2="140.92" y2="221.47" stroke="#231f20" stroke-width="1.7"/>
<line x1="132.28" y1="243.10" x2="140.94" y2="248.10" stroke="#231f20" stroke-width="1.7"/>
<line x1="117.90" y1="251.40" x2="117.91" y2="261.40" stroke="#231f20" stroke-width="1.7"/>
<line x1="45.90" y1="276.20" x2="45.90" y2="286.20" stroke="#231f20" stroke-width="1.7"/>
<line x1="31.52" y1="267.90" x2="22.87" y2="272.91" stroke="#231f20" stroke-width="1.7"/>
<line x1="89.08" y1="267.90" x2="97.73" y2="272.91" stroke="#231f20" stroke-width="1.7"/>
<line x1="74.70" y1="276.20" x2="74.71" y2="286.20" stroke="#231f20" stroke-width="1.7"/>
<line x1="60.28" y1="267.90" x2="74.70" y2="276.20" stroke="#231f20" stroke-width="2.4" stroke-linecap="round"/>
<line x1="45.90" y1="226.60" x2="31.52" y2="218.30" stroke="#231f20" stroke-width="2.4" stroke-linecap="round"/>
<line x1="45.90" y1="276.20" x2="31.52" y2="267.90" stroke="#231f20" stroke-width="2.4" stroke-linecap="round"/>
<line x1="31.50" y1="251.40" x2="31.52" y2="267.90" stroke="#231f20" stroke-width="2.4" stroke-linecap="round"/>
<line x1="17.12" y1="243.10" x2="17.12" y2="226.50" stroke="#231f20" stroke-width="2.4" stroke-linecap="round"/>
<line x1="117.88" y1="218.30" x2="103.50" y2="226.60" stroke="#231f20" stroke-width="2.4" stroke-linecap="round"/>
<line x1="89.10" y1="251.40" x2="89.08" y2="267.90" stroke="#231f20" stroke-width="2.4" stroke-linecap="round"/>
<line x1="132.28" y1="226.50" x2="132.28" y2="243.10" stroke="#231f20" stroke-width="2.4" stroke-linecap="round"/>
<line x1="117.88" y1="218.30" x2="132.28" y2="226.50" stroke="#231f20" stroke-width="2.4" stroke-linecap="round"/>
<line x1="45.88" y1="243.10" x2="60.30" y2="251.40" stroke="#231f20" stroke-width="2.4" stroke-linecap="round"/>
<line x1="89.08" y1="218.30" x2="74.70" y2="226.60" stroke="#231f20" stroke-width="2.4" stroke-linecap="round"/>
<line x1="45.90" y1="193.40" x2="31.52" y2="201.70" stroke="#231f20" stroke-width="2.4" stroke-linecap="round"/>
<line x1="60.28" y1="201.70" x2="74.70" y2="193.40" stroke="#231f20" stroke-width="2.4" stroke-linecap="round"/>
<line x1="60.28" y1="267.90" x2="45.90" y2="276.20" stroke="#231f20" stroke-width="2.4" stroke-linecap="round"/>
<line x1="89.08" y1="201.70" x2="103.50" y2="193.40" stroke="#231f20" stroke-width="2.4" stroke-linecap="round"/>
<line x1="103.50" y1="226.60" x2="103.48" y2="243.10" stroke="#231f20" stroke-width="2.4" stroke-linecap="round"/>
<line x1="74.68" y1="243.10" x2="60.30" y2="251.40" stroke="#231f20" stroke-width="2.4" stroke-linecap="round"/>
<line x1="31.52" y1="218.30" x2="31.52" y2="201.70" stroke="#231f20" stroke-width="2.4" stroke-linecap="round"/>
<line x1="31.52" y1="218.30" x2="17.12" y2="226.50" stroke="#231f20" stroke-width="2.4" stroke-linecap="round"/>
<line x1="45.88" y1="243.10" x2="31.50" y2="251.40" stroke="#231f20" stroke-width="2.4" stroke-linecap="round"/>
<line x1="132.28" y1="243.10" x2="117.90" y2="251.40" stroke="#231f20" stroke-width="2.4" stroke-linecap="round"/>
<line x1="45.90" y1="193.40" x2="60.28" y2="201.70" stroke="#231f20" stroke-width="2.4" stroke-linecap="round"/>
<line x1="60.28" y1="201.70" x2="60.28" y2="218.30" stroke="#231f20" stroke-width="2.4" stroke-linecap="round"/>
<line x1="103.50" y1="193.40" x2="117.88" y2="201.70" stroke="#231f20" stroke-width="2.4" stroke-linecap="round"/>
<line x1="89.08" y1="267.90" x2="74.70" y2="276.20" stroke="#231f20" stroke-width="2.4" stroke-linecap="round"/>
<line x1="74.70" y1="193.40" x2="89.08" y2="201.70" stroke="#231f20" stroke-width="2.4" stroke-linecap="round"/>
<line x1="31.50" y1="251.40" x2="17.12" y2="243.10" stroke="#231f20" stroke-width="2.4" stroke-linecap="round"/>
<line x1="74.68" y1="243.10" x2="89.10" y2="251.40" stroke="#231f20" stroke-width="2.4" stroke-linecap="round"/>
<line x1="103.48" y1="243.10" x2="89.10" y2="251.40" stroke="#231f20" stroke-width="2.4" stroke-linecap="round"/>
<line x1="45.90" y1="226.60" x2="45.88" y2="243.10" stroke="#231f20" stroke-width="2.4" stroke-linecap="round"/>
<line x1="103.48" y1="243.10" x2="117.90" y2="251.40" stroke="#231f20" stroke-width="2.4" stroke-linecap="round"/>
<line x1="60.28" y1="218.30" x2="45.90" y2="226.60" stroke="#231f20" stroke-width="2.4" stroke-linecap="round"/>
<line x1="60.28" y1="218.30" x2="74.70" y2="226.60" stroke="#231f20" stroke-width="2.4" stroke-linecap="round"/>
<line x1="117.88" y1="201.70" x2="117.88" y2="218.30" stroke="#231f20" stroke-width="2.4" stroke-linecap="round"/>
<line x1="89.08" y1="218.30" x2="103.50" y2="226.60" stroke="#231f20" stroke-width="2.4" stroke-linecap="round"/>
<line x1="74.70" y1="226.60" x2="74.68" y2="243.10" stroke="#231f20" stroke-width="2.4" stroke-linecap="round"/>
<line x1="60.30" y1="251.40" x2="60.28" y2="267.90" stroke="#231f20" stroke-width="2.4" stroke-linecap="round"/>
<line x1="89.08" y1="201.70" x2="89.08" y2="218.30" stroke="#231f20" stroke-width="2.4" stroke-linecap="round"/>
<circle cx="45.90" cy="183.40" r="1.9" fill="#fff" stroke="#231f20" stroke-width="0.8"/>
<circle cx="22.86" cy="196.70" r="1.9" fill="#fff" stroke="#231f20" stroke-width="0.8"/>
<circle cx="74.71" cy="183.40" r="1.9" fill="#fff" stroke="#231f20" stroke-width="0.8"/>
<circle cx="103.51" cy="183.40" r="1.9" fill="#fff" stroke="#231f20" stroke-width="0.8"/>
<circle cx="126.54" cy="196.70" r="1.9" fill="#fff" stroke="#231f20" stroke-width="0.8"/>
<circle cx="8.46" cy="248.10" r="1.9" fill="#fff" stroke="#231f20" stroke-width="0.8"/>
<circle cx="8.48" cy="221.47" r="1.9" fill="#fff" stroke="#231f20" stroke-width="0.8"/>
<circle cx="140.92" cy="221.47" r="1.9" fill="#fff" stroke="#231f20" stroke-width="0.8"/>
<circle cx="140.94" cy="248.10" r="1.9" fill="#fff" stroke="#231f20" stroke-width="0.8"/>
<circle cx="117.91" cy="261.40" r="1.9" fill="#fff" stroke="#231f20" stroke-width="0.8"/>
<circle cx="45.90" cy="286.20" r="1.9" fill="#fff" stroke="#231f20" stroke-width="0.8"/>
<circle cx="22.87" cy="272.91" r="1.9" fill="#fff" stroke="#231f20" stroke-width="0.8"/>
<circle cx="97.73" cy="272.91" r="1.9" fill="#fff" stroke="#231f20" stroke-width="0.8"/>
<circle cx="74.71" cy="286.20" r="1.9" fill="#fff" stroke="#231f20" stroke-width="0.8"/>
<g transform="translate(45.90 193.40) rotate(0)"><ellipse rx="3.60" ry="3.10" fill="#fbfbfb"/><path d="M0 0 L3.60 0 A3.60 3.10 0 0 1 0 3.10 Z" fill="#4a4a4a"/><path d="M0 0 L-3.60 0 A3.60 3.10 0 0 1 0 -3.10 Z" fill="#a8a8a8"/><path d="M-3.60 0 H3.60 M0 -3.10 V3.10" stroke="#555" stroke-width="0.35"/><ellipse rx="3.60" ry="3.10" fill="none" stroke="#231f20" stroke-width="0.8"/></g>
<g transform="translate(60.28 201.70) rotate(53)"><ellipse rx="3.60" ry="3.10" fill="#fbfbfb"/><path d="M0 0 L3.60 0 A3.60 3.10 0 0 1 0 3.10 Z" fill="#4a4a4a"/><path d="M0 0 L-3.60 0 A3.60 3.10 0 0 1 0 -3.10 Z" fill="#a8a8a8"/><path d="M-3.60 0 H3.60 M0 -3.10 V3.10" stroke="#555" stroke-width="0.35"/><ellipse rx="3.60" ry="3.10" fill="none" stroke="#231f20" stroke-width="0.8"/></g>
<g transform="translate(60.28 218.30) rotate(106)"><ellipse rx="3.60" ry="3.10" fill="#fbfbfb"/><path d="M0 0 L3.60 0 A3.60 3.10 0 0 1 0 3.10 Z" fill="#4a4a4a"/><path d="M0 0 L-3.60 0 A3.60 3.10 0 0 1 0 -3.10 Z" fill="#a8a8a8"/><path d="M-3.60 0 H3.60 M0 -3.10 V3.10" stroke="#555" stroke-width="0.35"/><ellipse rx="3.60" ry="3.10" fill="none" stroke="#231f20" stroke-width="0.8"/></g>
<g transform="translate(45.90 226.60) rotate(159)"><ellipse rx="3.60" ry="3.10" fill="#fbfbfb"/><path d="M0 0 L3.60 0 A3.60 3.10 0 0 1 0 3.10 Z" fill="#4a4a4a"/><path d="M0 0 L-3.60 0 A3.60 3.10 0 0 1 0 -3.10 Z" fill="#a8a8a8"/><path d="M-3.60 0 H3.60 M0 -3.10 V3.10" stroke="#555" stroke-width="0.35"/><ellipse rx="3.60" ry="3.10" fill="none" stroke="#231f20" stroke-width="0.8"/></g>
<g transform="translate(31.52 218.30) rotate(32)"><ellipse rx="3.60" ry="3.10" fill="#fbfbfb"/><path d="M0 0 L3.60 0 A3.60 3.10 0 0 1 0 3.10 Z" fill="#4a4a4a"/><path d="M0 0 L-3.60 0 A3.60 3.10 0 0 1 0 -3.10 Z" fill="#a8a8a8"/><path d="M-3.60 0 H3.60 M0 -3.10 V3.10" stroke="#555" stroke-width="0.35"/><ellipse rx="3.60" ry="3.10" fill="none" stroke="#231f20" stroke-width="0.8"/></g>
<g transform="translate(31.52 201.70) rotate(85)"><ellipse rx="3.60" ry="3.10" fill="#fbfbfb"/><path d="M0 0 L3.60 0 A3.60 3.10 0 0 1 0 3.10 Z" fill="#4a4a4a"/><path d="M0 0 L-3.60 0 A3.60 3.10 0 0 1 0 -3.10 Z" fill="#a8a8a8"/><path d="M-3.60 0 H3.60 M0 -3.10 V3.10" stroke="#555" stroke-width="0.35"/><ellipse rx="3.60" ry="3.10" fill="none" stroke="#231f20" stroke-width="0.8"/></g>
<g transform="translate(74.70 193.40) rotate(138)"><ellipse rx="3.60" ry="3.10" fill="#fbfbfb"/><path d="M0 0 L3.60 0 A3.60 3.10 0 0 1 0 3.10 Z" fill="#4a4a4a"/><path d="M0 0 L-3.60 0 A3.60 3.10 0 0 1 0 -3.10 Z" fill="#a8a8a8"/><path d="M-3.60 0 H3.60 M0 -3.10 V3.10" stroke="#555" stroke-width="0.35"/><ellipse rx="3.60" ry="3.10" fill="none" stroke="#231f20" stroke-width="0.8"/></g>
<g transform="translate(89.08 201.70) rotate(11)"><ellipse rx="3.60" ry="3.10" fill="#fbfbfb"/><path d="M0 0 L3.60 0 A3.60 3.10 0 0 1 0 3.10 Z" fill="#4a4a4a"/><path d="M0 0 L-3.60 0 A3.60 3.10 0 0 1 0 -3.10 Z" fill="#a8a8a8"/><path d="M-3.60 0 H3.60 M0 -3.10 V3.10" stroke="#555" stroke-width="0.35"/><ellipse rx="3.60" ry="3.10" fill="none" stroke="#231f20" stroke-width="0.8"/></g>
<g transform="translate(89.08 218.30) rotate(64)"><ellipse rx="3.60" ry="3.10" fill="#fbfbfb"/><path d="M0 0 L3.60 0 A3.60 3.10 0 0 1 0 3.10 Z" fill="#4a4a4a"/><path d="M0 0 L-3.60 0 A3.60 3.10 0 0 1 0 -3.10 Z" fill="#a8a8a8"/><path d="M-3.60 0 H3.60 M0 -3.10 V3.10" stroke="#555" stroke-width="0.35"/><ellipse rx="3.60" ry="3.10" fill="none" stroke="#231f20" stroke-width="0.8"/></g>
<g transform="translate(74.70 226.60) rotate(117)"><ellipse rx="3.60" ry="3.10" fill="#fbfbfb"/><path d="M0 0 L3.60 0 A3.60 3.10 0 0 1 0 3.10 Z" fill="#4a4a4a"/><path d="M0 0 L-3.60 0 A3.60 3.10 0 0 1 0 -3.10 Z" fill="#a8a8a8"/><path d="M-3.60 0 H3.60 M0 -3.10 V3.10" stroke="#555" stroke-width="0.35"/><ellipse rx="3.60" ry="3.10" fill="none" stroke="#231f20" stroke-width="0.8"/></g>
<g transform="translate(103.50 193.40) rotate(170)"><ellipse rx="3.60" ry="3.10" fill="#fbfbfb"/><path d="M0 0 L3.60 0 A3.60 3.10 0 0 1 0 3.10 Z" fill="#4a4a4a"/><path d="M0 0 L-3.60 0 A3.60 3.10 0 0 1 0 -3.10 Z" fill="#a8a8a8"/><path d="M-3.60 0 H3.60 M0 -3.10 V3.10" stroke="#555" stroke-width="0.35"/><ellipse rx="3.60" ry="3.10" fill="none" stroke="#231f20" stroke-width="0.8"/></g>
<g transform="translate(117.88 201.70) rotate(43)"><ellipse rx="3.60" ry="3.10" fill="#fbfbfb"/><path d="M0 0 L3.60 0 A3.60 3.10 0 0 1 0 3.10 Z" fill="#4a4a4a"/><path d="M0 0 L-3.60 0 A3.60 3.10 0 0 1 0 -3.10 Z" fill="#a8a8a8"/><path d="M-3.60 0 H3.60 M0 -3.10 V3.10" stroke="#555" stroke-width="0.35"/><ellipse rx="3.60" ry="3.10" fill="none" stroke="#231f20" stroke-width="0.8"/></g>
<g transform="translate(117.88 218.30) rotate(96)"><ellipse rx="3.60" ry="3.10" fill="#fbfbfb"/><path d="M0 0 L3.60 0 A3.60 3.10 0 0 1 0 3.10 Z" fill="#4a4a4a"/><path d="M0 0 L-3.60 0 A3.60 3.10 0 0 1 0 -3.10 Z" fill="#a8a8a8"/><path d="M-3.60 0 H3.60 M0 -3.10 V3.10" stroke="#555" stroke-width="0.35"/><ellipse rx="3.60" ry="3.10" fill="none" stroke="#231f20" stroke-width="0.8"/></g>
<g transform="translate(103.50 226.60) rotate(149)"><ellipse rx="3.60" ry="3.10" fill="#fbfbfb"/><path d="M0 0 L3.60 0 A3.60 3.10 0 0 1 0 3.10 Z" fill="#4a4a4a"/><path d="M0 0 L-3.60 0 A3.60 3.10 0 0 1 0 -3.10 Z" fill="#a8a8a8"/><path d="M-3.60 0 H3.60 M0 -3.10 V3.10" stroke="#555" stroke-width="0.35"/><ellipse rx="3.60" ry="3.10" fill="none" stroke="#231f20" stroke-width="0.8"/></g>
<g transform="translate(45.88 243.10) rotate(22)"><ellipse rx="3.60" ry="3.10" fill="#fbfbfb"/><path d="M0 0 L3.60 0 A3.60 3.10 0 0 1 0 3.10 Z" fill="#4a4a4a"/><path d="M0 0 L-3.60 0 A3.60 3.10 0 0 1 0 -3.10 Z" fill="#a8a8a8"/><path d="M-3.60 0 H3.60 M0 -3.10 V3.10" stroke="#555" stroke-width="0.35"/><ellipse rx="3.60" ry="3.10" fill="none" stroke="#231f20" stroke-width="0.8"/></g>
<g transform="translate(31.50 251.40) rotate(75)"><ellipse rx="3.60" ry="3.10" fill="#fbfbfb"/><path d="M0 0 L3.60 0 A3.60 3.10 0 0 1 0 3.10 Z" fill="#4a4a4a"/><path d="M0 0 L-3.60 0 A3.60 3.10 0 0 1 0 -3.10 Z" fill="#a8a8a8"/><path d="M-3.60 0 H3.60 M0 -3.10 V3.10" stroke="#555" stroke-width="0.35"/><ellipse rx="3.60" ry="3.10" fill="none" stroke="#231f20" stroke-width="0.8"/></g>
<g transform="translate(17.12 243.10) rotate(128)"><ellipse rx="3.60" ry="3.10" fill="#fbfbfb"/><path d="M0 0 L3.60 0 A3.60 3.10 0 0 1 0 3.10 Z" fill="#4a4a4a"/><path d="M0 0 L-3.60 0 A3.60 3.10 0 0 1 0 -3.10 Z" fill="#a8a8a8"/><path d="M-3.60 0 H3.60 M0 -3.10 V3.10" stroke="#555" stroke-width="0.35"/><ellipse rx="3.60" ry="3.10" fill="none" stroke="#231f20" stroke-width="0.8"/></g>
<g transform="translate(17.12 226.50) rotate(1)"><ellipse rx="3.60" ry="3.10" fill="#fbfbfb"/><path d="M0 0 L3.60 0 A3.60 3.10 0 0 1 0 3.10 Z" fill="#4a4a4a"/><path d="M0 0 L-3.60 0 A3.60 3.10 0 0 1 0 -3.10 Z" fill="#a8a8a8"/><path d="M-3.60 0 H3.60 M0 -3.10 V3.10" stroke="#555" stroke-width="0.35"/><ellipse rx="3.60" ry="3.10" fill="none" stroke="#231f20" stroke-width="0.8"/></g>
<g transform="translate(74.68 243.10) rotate(54)"><ellipse rx="3.60" ry="3.10" fill="#fbfbfb"/><path d="M0 0 L3.60 0 A3.60 3.10 0 0 1 0 3.10 Z" fill="#4a4a4a"/><path d="M0 0 L-3.60 0 A3.60 3.10 0 0 1 0 -3.10 Z" fill="#a8a8a8"/><path d="M-3.60 0 H3.60 M0 -3.10 V3.10" stroke="#555" stroke-width="0.35"/><ellipse rx="3.60" ry="3.10" fill="none" stroke="#231f20" stroke-width="0.8"/></g>
<g transform="translate(60.30 251.40) rotate(107)"><ellipse rx="3.60" ry="3.10" fill="#fbfbfb"/><path d="M0 0 L3.60 0 A3.60 3.10 0 0 1 0 3.10 Z" fill="#4a4a4a"/><path d="M0 0 L-3.60 0 A3.60 3.10 0 0 1 0 -3.10 Z" fill="#a8a8a8"/><path d="M-3.60 0 H3.60 M0 -3.10 V3.10" stroke="#555" stroke-width="0.35"/><ellipse rx="3.60" ry="3.10" fill="none" stroke="#231f20" stroke-width="0.8"/></g>
<g transform="translate(103.48 243.10) rotate(160)"><ellipse rx="3.60" ry="3.10" fill="#fbfbfb"/><path d="M0 0 L3.60 0 A3.60 3.10 0 0 1 0 3.10 Z" fill="#4a4a4a"/><path d="M0 0 L-3.60 0 A3.60 3.10 0 0 1 0 -3.10 Z" fill="#a8a8a8"/><path d="M-3.60 0 H3.60 M0 -3.10 V3.10" stroke="#555" stroke-width="0.35"/><ellipse rx="3.60" ry="3.10" fill="none" stroke="#231f20" stroke-width="0.8"/></g>
<g transform="translate(89.10 251.40) rotate(33)"><ellipse rx="3.60" ry="3.10" fill="#fbfbfb"/><path d="M0 0 L3.60 0 A3.60 3.10 0 0 1 0 3.10 Z" fill="#4a4a4a"/><path d="M0 0 L-3.60 0 A3.60 3.10 0 0 1 0 -3.10 Z" fill="#a8a8a8"/><path d="M-3.60 0 H3.60 M0 -3.10 V3.10" stroke="#555" stroke-width="0.35"/><ellipse rx="3.60" ry="3.10" fill="none" stroke="#231f20" stroke-width="0.8"/></g>
<g transform="translate(132.28 226.50) rotate(86)"><ellipse rx="3.60" ry="3.10" fill="#fbfbfb"/><path d="M0 0 L3.60 0 A3.60 3.10 0 0 1 0 3.10 Z" fill="#4a4a4a"/><path d="M0 0 L-3.60 0 A3.60 3.10 0 0 1 0 -3.10 Z" fill="#a8a8a8"/><path d="M-3.60 0 H3.60 M0 -3.10 V3.10" stroke="#555" stroke-width="0.35"/><ellipse rx="3.60" ry="3.10" fill="none" stroke="#231f20" stroke-width="0.8"/></g>
<g transform="translate(132.28 243.10) rotate(139)"><ellipse rx="3.60" ry="3.10" fill="#fbfbfb"/><path d="M0 0 L3.60 0 A3.60 3.10 0 0 1 0 3.10 Z" fill="#4a4a4a"/><path d="M0 0 L-3.60 0 A3.60 3.10 0 0 1 0 -3.10 Z" fill="#a8a8a8"/><path d="M-3.60 0 H3.60 M0 -3.10 V3.10" stroke="#555" stroke-width="0.35"/><ellipse rx="3.60" ry="3.10" fill="none" stroke="#231f20" stroke-width="0.8"/></g>
<g transform="translate(117.90 251.40) rotate(12)"><ellipse rx="3.60" ry="3.10" fill="#fbfbfb"/><path d="M0 0 L3.60 0 A3.60 3.10 0 0 1 0 3.10 Z" fill="#4a4a4a"/><path d="M0 0 L-3.60 0 A3.60 3.10 0 0 1 0 -3.10 Z" fill="#a8a8a8"/><path d="M-3.60 0 H3.60 M0 -3.10 V3.10" stroke="#555" stroke-width="0.35"/><ellipse rx="3.60" ry="3.10" fill="none" stroke="#231f20" stroke-width="0.8"/></g>
<g transform="translate(60.28 267.90) rotate(65)"><ellipse rx="3.60" ry="3.10" fill="#fbfbfb"/><path d="M0 0 L3.60 0 A3.60 3.10 0 0 1 0 3.10 Z" fill="#4a4a4a"/><path d="M0 0 L-3.60 0 A3.60 3.10 0 0 1 0 -3.10 Z" fill="#a8a8a8"/><path d="M-3.60 0 H3.60 M0 -3.10 V3.10" stroke="#555" stroke-width="0.35"/><ellipse rx="3.60" ry="3.10" fill="none" stroke="#231f20" stroke-width="0.8"/></g>
<g transform="translate(45.90 276.20) rotate(118)"><ellipse rx="3.60" ry="3.10" fill="#fbfbfb"/><path d="M0 0 L3.60 0 A3.60 3.10 0 0 1 0 3.10 Z" fill="#4a4a4a"/><path d="M0 0 L-3.60 0 A3.60 3.10 0 0 1 0 -3.10 Z" fill="#a8a8a8"/><path d="M-3.60 0 H3.60 M0 -3.10 V3.10" stroke="#555" stroke-width="0.35"/><ellipse rx="3.60" ry="3.10" fill="none" stroke="#231f20" stroke-width="0.8"/></g>
<g transform="translate(31.52 267.90) rotate(171)"><ellipse rx="3.60" ry="3.10" fill="#fbfbfb"/><path d="M0 0 L3.60 0 A3.60 3.10 0 0 1 0 3.10 Z" fill="#4a4a4a"/><path d="M0 0 L-3.60 0 A3.60 3.10 0 0 1 0 -3.10 Z" fill="#a8a8a8"/><path d="M-3.60 0 H3.60 M0 -3.10 V3.10" stroke="#555" stroke-width="0.35"/><ellipse rx="3.60" ry="3.10" fill="none" stroke="#231f20" stroke-width="0.8"/></g>
<g transform="translate(89.08 267.90) rotate(44)"><ellipse rx="3.60" ry="3.10" fill="#fbfbfb"/><path d="M0 0 L3.60 0 A3.60 3.10 0 0 1 0 3.10 Z" fill="#4a4a4a"/><path d="M0 0 L-3.60 0 A3.60 3.10 0 0 1 0 -3.10 Z" fill="#a8a8a8"/><path d="M-3.60 0 H3.60 M0 -3.10 V3.10" stroke="#555" stroke-width="0.35"/><ellipse rx="3.60" ry="3.10" fill="none" stroke="#231f20" stroke-width="0.8"/></g>
<g transform="translate(74.70 276.20) rotate(97)"><ellipse rx="3.60" ry="3.10" fill="#fbfbfb"/><path d="M0 0 L3.60 0 A3.60 3.10 0 0 1 0 3.10 Z" fill="#4a4a4a"/><path d="M0 0 L-3.60 0 A3.60 3.10 0 0 1 0 -3.10 Z" fill="#a8a8a8"/><path d="M-3.60 0 H3.60 M0 -3.10 V3.10" stroke="#555" stroke-width="0.35"/><ellipse rx="3.60" ry="3.10" fill="none" stroke="#231f20" stroke-width="0.8"/></g>
<text x="45.90" y="209.40" font-size="10.70" font-weight="bold" fill="#231f20" text-anchor="middle"   stroke="#231f20" stroke-width="0.22">E</text>
<text x="45.90" y="218.60" font-size="7.70" font-weight="bold" fill="#231f20" text-anchor="middle"   stroke="#231f20" stroke-width="0.12">0.69</text>
<text x="74.68" y="209.40" font-size="10.70" font-weight="bold" fill="#231f20" text-anchor="middle"   stroke="#231f20" stroke-width="0.22">F</text>
<text x="74.68" y="218.60" font-size="7.70" font-weight="bold" fill="#231f20" text-anchor="middle"   stroke="#231f20" stroke-width="0.12">0.67</text>
<text x="103.48" y="209.40" font-size="10.70" font-weight="bold" fill="#231f20" text-anchor="middle"   stroke="#231f20" stroke-width="0.22">G</text>
<text x="103.48" y="218.60" font-size="7.70" font-weight="bold" fill="#231f20" text-anchor="middle"   stroke="#231f20" stroke-width="0.12">0.59</text>
<text x="31.51" y="234.23" font-size="10.70" font-weight="bold" fill="#231f20" text-anchor="middle"   stroke="#231f20" stroke-width="0.22">C</text>
<text x="31.51" y="243.43" font-size="7.70" font-weight="bold" fill="#231f20" text-anchor="middle"   stroke="#231f20" stroke-width="0.12">0.81</text>
<text x="60.29" y="234.25" font-size="10.70" font-weight="bold" fill="#231f20" text-anchor="middle"   stroke="#231f20" stroke-width="0.22">D</text>
<text x="60.29" y="243.45" font-size="7.70" font-weight="bold" fill="#231f20" text-anchor="middle"   stroke="#231f20" stroke-width="0.12">0.61</text>
<text x="89.09" y="234.25" font-size="10.70" font-weight="bold" fill="#231f20" text-anchor="middle"   stroke="#231f20" stroke-width="0.22">I</text>
<text x="89.09" y="243.45" font-size="7.70" font-weight="bold" fill="#231f20" text-anchor="middle"   stroke="#231f20" stroke-width="0.12">0.51</text>
<text x="117.88" y="234.23" font-size="10.70" font-weight="bold" fill="#231f20" text-anchor="middle"   stroke="#231f20" stroke-width="0.22">H</text>
<text x="117.88" y="243.43" font-size="7.70" font-weight="bold" fill="#231f20" text-anchor="middle"   stroke="#231f20" stroke-width="0.12">0.76</text>
<text x="45.90" y="259.05" font-size="10.70" font-weight="bold" fill="#231f20" text-anchor="middle"   stroke="#231f20" stroke-width="0.22">A</text>
<text x="45.90" y="268.25" font-size="7.70" font-weight="bold" fill="#231f20" text-anchor="middle"   stroke="#231f20" stroke-width="0.12">0.67</text>
<text x="74.69" y="259.05" font-size="10.70" font-weight="bold" fill="#231f20" text-anchor="middle"   stroke="#231f20" stroke-width="0.22">B</text>
<text x="74.69" y="268.25" font-size="7.70" font-weight="bold" fill="#231f20" text-anchor="middle"   stroke="#231f20" stroke-width="0.12">0.76</text>
<polygon points="200.27,199.87 213.46,207.49 213.46,222.71 200.27,230.33 187.08,222.71 187.08,207.49" fill="#f6eabf" stroke="none"/>
<polygon points="228.33,199.87 241.52,207.49 241.52,222.71 228.33,230.33 215.14,222.71 215.14,207.49" fill="#f8eecd" stroke="none"/>
<polygon points="243.10,207.15 250.38,193.43 263.54,197.56 269.74,212.70 258.75,223.79 243.10,222.38" fill="#e9cb66" stroke="none"/>
<polygon points="186.24,224.17 199.43,231.79 199.43,247.01 186.24,254.63 173.05,247.01 173.05,231.79" fill="#dfa2a6" stroke="none"/>
<polygon points="214.30,224.17 227.49,231.79 227.49,247.01 214.30,254.63 201.11,247.01 201.11,231.79" fill="#edd888" stroke="none"/>
<polygon points="229.40,231.79 242.58,224.17 258.23,225.58 264.43,240.06 256.16,252.56 242.58,254.63 229.40,247.01" fill="#e8ca64" stroke="none"/>
<polygon points="271.03,213.75 286.26,215.81 291.81,228.32 282.12,240.07 266.24,239.31 260.04,224.84" fill="#fcf7e9" stroke="none"/>
<polygon points="266.02,240.90 281.90,241.66 288.11,254.06 278.43,265.81 263.20,265.16 257.75,253.41" fill="#d68a92" stroke="none"/>
<polygon points="200.27,248.47 213.46,256.09 213.46,271.31 200.27,278.93 187.08,271.31 187.08,256.09" fill="#ebc2c4" stroke="none"/>
<polygon points="228.33,248.47 241.52,256.09 241.52,271.31 228.33,278.93 215.14,271.31 215.14,256.09" fill="#e3adaf" stroke="none"/>
<line x1="200.27" y1="198.90" x2="200.27" y2="188.90" stroke="#231f20" stroke-width="1.7"/>
<line x1="186.24" y1="207.00" x2="177.58" y2="202.00" stroke="#231f20" stroke-width="1.7"/>
<line x1="228.33" y1="198.90" x2="228.33" y2="188.90" stroke="#231f20" stroke-width="1.7"/>
<line x1="250.10" y1="192.40" x2="246.30" y2="183.15" stroke="#231f20" stroke-width="1.7"/>
<line x1="264.10" y1="196.80" x2="270.87" y2="189.44" stroke="#231f20" stroke-width="1.7"/>
<line x1="172.21" y1="247.50" x2="163.55" y2="252.50" stroke="#231f20" stroke-width="1.7"/>
<line x1="172.21" y1="231.30" x2="163.55" y2="226.30" stroke="#231f20" stroke-width="1.7"/>
<line x1="286.90" y1="215.10" x2="292.90" y2="207.10" stroke="#231f20" stroke-width="1.7"/>
<line x1="292.80" y1="228.40" x2="302.71" y2="229.75" stroke="#231f20" stroke-width="1.7"/>
<line x1="289.10" y1="254.10" x2="299.04" y2="255.23" stroke="#231f20" stroke-width="1.7"/>
<line x1="278.80" y1="266.60" x2="282.87" y2="275.73" stroke="#231f20" stroke-width="1.7"/>
<line x1="262.60" y1="265.90" x2="257.04" y2="274.21" stroke="#231f20" stroke-width="1.7"/>
<line x1="200.27" y1="279.90" x2="200.27" y2="289.90" stroke="#231f20" stroke-width="1.7"/>
<line x1="186.24" y1="271.80" x2="177.58" y2="276.80" stroke="#231f20" stroke-width="1.7"/>
<line x1="242.36" y1="271.80" x2="251.02" y2="276.80" stroke="#231f20" stroke-width="1.7"/>
<line x1="228.33" y1="279.90" x2="228.33" y2="289.90" stroke="#231f20" stroke-width="1.7"/>
<line x1="200.27" y1="231.30" x2="186.24" y2="223.20" stroke="#231f20" stroke-width="2.4" stroke-linecap="round"/>
<line x1="289.10" y1="254.10" x2="278.80" y2="266.60" stroke="#231f20" stroke-width="2.4" stroke-linecap="round"/>
<line x1="172.21" y1="247.50" x2="172.21" y2="231.30" stroke="#231f20" stroke-width="2.4" stroke-linecap="round"/>
<line x1="270.70" y1="212.90" x2="259.00" y2="224.70" stroke="#231f20" stroke-width="2.4" stroke-linecap="round"/>
<line x1="256.80" y1="253.40" x2="242.36" y2="255.60" stroke="#231f20" stroke-width="2.4" stroke-linecap="round"/>
<line x1="256.80" y1="253.40" x2="262.60" y2="265.90" stroke="#231f20" stroke-width="2.4" stroke-linecap="round"/>
<line x1="200.27" y1="247.50" x2="214.30" y2="255.60" stroke="#231f20" stroke-width="2.4" stroke-linecap="round"/>
<line x1="242.36" y1="223.20" x2="228.33" y2="231.30" stroke="#231f20" stroke-width="2.4" stroke-linecap="round"/>
<line x1="242.36" y1="255.60" x2="242.36" y2="271.80" stroke="#231f20" stroke-width="2.4" stroke-linecap="round"/>
<line x1="200.27" y1="198.90" x2="186.24" y2="207.00" stroke="#231f20" stroke-width="2.4" stroke-linecap="round"/>
<line x1="214.30" y1="207.00" x2="228.33" y2="198.90" stroke="#231f20" stroke-width="2.4" stroke-linecap="round"/>
<line x1="278.80" y1="266.60" x2="262.60" y2="265.90" stroke="#231f20" stroke-width="2.4" stroke-linecap="round"/>
<line x1="282.50" y1="240.90" x2="289.10" y2="254.10" stroke="#231f20" stroke-width="2.4" stroke-linecap="round"/>
<line x1="242.36" y1="207.00" x2="250.10" y2="192.40" stroke="#231f20" stroke-width="2.4" stroke-linecap="round"/>
<line x1="259.00" y1="224.70" x2="265.60" y2="240.10" stroke="#231f20" stroke-width="2.4" stroke-linecap="round"/>
<line x1="242.36" y1="271.80" x2="228.33" y2="279.90" stroke="#231f20" stroke-width="2.4" stroke-linecap="round"/>
<line x1="228.33" y1="247.50" x2="214.30" y2="255.60" stroke="#231f20" stroke-width="2.4" stroke-linecap="round"/>
<line x1="186.24" y1="223.20" x2="186.24" y2="207.00" stroke="#231f20" stroke-width="2.4" stroke-linecap="round"/>
<line x1="228.33" y1="247.50" x2="242.36" y2="255.60" stroke="#231f20" stroke-width="2.4" stroke-linecap="round"/>
<line x1="265.60" y1="240.10" x2="282.50" y2="240.90" stroke="#231f20" stroke-width="2.4" stroke-linecap="round"/>
<line x1="186.24" y1="223.20" x2="172.21" y2="231.30" stroke="#231f20" stroke-width="2.4" stroke-linecap="round"/>
<line x1="200.27" y1="247.50" x2="186.24" y2="255.60" stroke="#231f20" stroke-width="2.4" stroke-linecap="round"/>
<line x1="286.90" y1="215.10" x2="292.80" y2="228.40" stroke="#231f20" stroke-width="2.4" stroke-linecap="round"/>
<line x1="200.27" y1="198.90" x2="214.30" y2="207.00" stroke="#231f20" stroke-width="2.4" stroke-linecap="round"/>
<line x1="214.30" y1="207.00" x2="214.30" y2="223.20" stroke="#231f20" stroke-width="2.4" stroke-linecap="round"/>
<line x1="250.10" y1="192.40" x2="264.10" y2="196.80" stroke="#231f20" stroke-width="2.4" stroke-linecap="round"/>
<line x1="214.30" y1="255.60" x2="214.30" y2="271.80" stroke="#231f20" stroke-width="2.4" stroke-linecap="round"/>
<line x1="228.33" y1="198.90" x2="242.36" y2="207.00" stroke="#231f20" stroke-width="2.4" stroke-linecap="round"/>
<line x1="186.24" y1="255.60" x2="172.21" y2="247.50" stroke="#231f20" stroke-width="2.4" stroke-linecap="round"/>
<line x1="292.80" y1="228.40" x2="282.50" y2="240.90" stroke="#231f20" stroke-width="2.4" stroke-linecap="round"/>
<line x1="186.24" y1="255.60" x2="186.24" y2="271.80" stroke="#231f20" stroke-width="2.4" stroke-linecap="round"/>
<line x1="265.60" y1="240.10" x2="256.80" y2="253.40" stroke="#231f20" stroke-width="2.4" stroke-linecap="round"/>
<line x1="214.30" y1="271.80" x2="200.27" y2="279.90" stroke="#231f20" stroke-width="2.4" stroke-linecap="round"/>
<line x1="200.27" y1="231.30" x2="200.27" y2="247.50" stroke="#231f20" stroke-width="2.4" stroke-linecap="round"/>
<line x1="270.70" y1="212.90" x2="286.90" y2="215.10" stroke="#231f20" stroke-width="2.4" stroke-linecap="round"/>
<line x1="214.30" y1="271.80" x2="228.33" y2="279.90" stroke="#231f20" stroke-width="2.4" stroke-linecap="round"/>
<line x1="214.30" y1="223.20" x2="200.27" y2="231.30" stroke="#231f20" stroke-width="2.4" stroke-linecap="round"/>
<line x1="214.30" y1="223.20" x2="228.33" y2="231.30" stroke="#231f20" stroke-width="2.4" stroke-linecap="round"/>
<line x1="264.10" y1="196.80" x2="270.70" y2="212.90" stroke="#231f20" stroke-width="2.4" stroke-linecap="round"/>
<line x1="242.36" y1="223.20" x2="259.00" y2="224.70" stroke="#231f20" stroke-width="2.4" stroke-linecap="round"/>
<line x1="228.33" y1="231.30" x2="228.33" y2="247.50" stroke="#231f20" stroke-width="2.4" stroke-linecap="round"/>
<line x1="200.27" y1="279.90" x2="186.24" y2="271.80" stroke="#231f20" stroke-width="2.4" stroke-linecap="round"/>
<line x1="242.36" y1="207.00" x2="242.36" y2="223.20" stroke="#231f20" stroke-width="2.4" stroke-linecap="round"/>
<circle cx="200.27" cy="188.90" r="1.9" fill="#fff" stroke="#231f20" stroke-width="0.8"/>
<circle cx="177.58" cy="202.00" r="1.9" fill="#fff" stroke="#231f20" stroke-width="0.8"/>
<circle cx="228.33" cy="188.90" r="1.9" fill="#fff" stroke="#231f20" stroke-width="0.8"/>
<circle cx="246.30" cy="183.15" r="1.9" fill="#fff" stroke="#231f20" stroke-width="0.8"/>
<circle cx="270.87" cy="189.44" r="1.9" fill="#fff" stroke="#231f20" stroke-width="0.8"/>
<circle cx="163.55" cy="252.50" r="1.9" fill="#fff" stroke="#231f20" stroke-width="0.8"/>
<circle cx="163.55" cy="226.30" r="1.9" fill="#fff" stroke="#231f20" stroke-width="0.8"/>
<circle cx="292.90" cy="207.10" r="1.9" fill="#fff" stroke="#231f20" stroke-width="0.8"/>
<circle cx="302.71" cy="229.75" r="1.9" fill="#fff" stroke="#231f20" stroke-width="0.8"/>
<circle cx="299.04" cy="255.23" r="1.9" fill="#fff" stroke="#231f20" stroke-width="0.8"/>
<circle cx="282.87" cy="275.73" r="1.9" fill="#fff" stroke="#231f20" stroke-width="0.8"/>
<circle cx="257.04" cy="274.21" r="1.9" fill="#fff" stroke="#231f20" stroke-width="0.8"/>
<circle cx="200.27" cy="289.90" r="1.9" fill="#fff" stroke="#231f20" stroke-width="0.8"/>
<circle cx="177.58" cy="276.80" r="1.9" fill="#fff" stroke="#231f20" stroke-width="0.8"/>
<circle cx="251.02" cy="276.80" r="1.9" fill="#fff" stroke="#231f20" stroke-width="0.8"/>
<circle cx="228.33" cy="289.90" r="1.9" fill="#fff" stroke="#231f20" stroke-width="0.8"/>
<g transform="translate(200.27 198.90) rotate(0)"><ellipse rx="3.60" ry="3.10" fill="#fbfbfb"/><path d="M0 0 L3.60 0 A3.60 3.10 0 0 1 0 3.10 Z" fill="#4a4a4a"/><path d="M0 0 L-3.60 0 A3.60 3.10 0 0 1 0 -3.10 Z" fill="#a8a8a8"/><path d="M-3.60 0 H3.60 M0 -3.10 V3.10" stroke="#555" stroke-width="0.35"/><ellipse rx="3.60" ry="3.10" fill="none" stroke="#231f20" stroke-width="0.8"/></g>
<g transform="translate(214.30 207.00) rotate(53)"><ellipse rx="3.60" ry="3.10" fill="#fbfbfb"/><path d="M0 0 L3.60 0 A3.60 3.10 0 0 1 0 3.10 Z" fill="#4a4a4a"/><path d="M0 0 L-3.60 0 A3.60 3.10 0 0 1 0 -3.10 Z" fill="#a8a8a8"/><path d="M-3.60 0 H3.60 M0 -3.10 V3.10" stroke="#555" stroke-width="0.35"/><ellipse rx="3.60" ry="3.10" fill="none" stroke="#231f20" stroke-width="0.8"/></g>
<g transform="translate(214.30 223.20) rotate(106)"><ellipse rx="3.60" ry="3.10" fill="#fbfbfb"/><path d="M0 0 L3.60 0 A3.60 3.10 0 0 1 0 3.10 Z" fill="#4a4a4a"/><path d="M0 0 L-3.60 0 A3.60 3.10 0 0 1 0 -3.10 Z" fill="#a8a8a8"/><path d="M-3.60 0 H3.60 M0 -3.10 V3.10" stroke="#555" stroke-width="0.35"/><ellipse rx="3.60" ry="3.10" fill="none" stroke="#231f20" stroke-width="0.8"/></g>
<g transform="translate(200.27 231.30) rotate(159)"><ellipse rx="3.60" ry="3.10" fill="#fbfbfb"/><path d="M0 0 L3.60 0 A3.60 3.10 0 0 1 0 3.10 Z" fill="#4a4a4a"/><path d="M0 0 L-3.60 0 A3.60 3.10 0 0 1 0 -3.10 Z" fill="#a8a8a8"/><path d="M-3.60 0 H3.60 M0 -3.10 V3.10" stroke="#555" stroke-width="0.35"/><ellipse rx="3.60" ry="3.10" fill="none" stroke="#231f20" stroke-width="0.8"/></g>
<g transform="translate(186.24 223.20) rotate(32)"><ellipse rx="3.60" ry="3.10" fill="#fbfbfb"/><path d="M0 0 L3.60 0 A3.60 3.10 0 0 1 0 3.10 Z" fill="#4a4a4a"/><path d="M0 0 L-3.60 0 A3.60 3.10 0 0 1 0 -3.10 Z" fill="#a8a8a8"/><path d="M-3.60 0 H3.60 M0 -3.10 V3.10" stroke="#555" stroke-width="0.35"/><ellipse rx="3.60" ry="3.10" fill="none" stroke="#231f20" stroke-width="0.8"/></g>
<g transform="translate(186.24 207.00) rotate(85)"><ellipse rx="3.60" ry="3.10" fill="#fbfbfb"/><path d="M0 0 L3.60 0 A3.60 3.10 0 0 1 0 3.10 Z" fill="#4a4a4a"/><path d="M0 0 L-3.60 0 A3.60 3.10 0 0 1 0 -3.10 Z" fill="#a8a8a8"/><path d="M-3.60 0 H3.60 M0 -3.10 V3.10" stroke="#555" stroke-width="0.35"/><ellipse rx="3.60" ry="3.10" fill="none" stroke="#231f20" stroke-width="0.8"/></g>
<g transform="translate(228.33 198.90) rotate(138)"><ellipse rx="3.60" ry="3.10" fill="#fbfbfb"/><path d="M0 0 L3.60 0 A3.60 3.10 0 0 1 0 3.10 Z" fill="#4a4a4a"/><path d="M0 0 L-3.60 0 A3.60 3.10 0 0 1 0 -3.10 Z" fill="#a8a8a8"/><path d="M-3.60 0 H3.60 M0 -3.10 V3.10" stroke="#555" stroke-width="0.35"/><ellipse rx="3.60" ry="3.10" fill="none" stroke="#231f20" stroke-width="0.8"/></g>
<g transform="translate(242.36 207.00) rotate(11)"><ellipse rx="3.60" ry="3.10" fill="#fbfbfb"/><path d="M0 0 L3.60 0 A3.60 3.10 0 0 1 0 3.10 Z" fill="#4a4a4a"/><path d="M0 0 L-3.60 0 A3.60 3.10 0 0 1 0 -3.10 Z" fill="#a8a8a8"/><path d="M-3.60 0 H3.60 M0 -3.10 V3.10" stroke="#555" stroke-width="0.35"/><ellipse rx="3.60" ry="3.10" fill="none" stroke="#231f20" stroke-width="0.8"/></g>
<g transform="translate(242.36 223.20) rotate(64)"><ellipse rx="3.60" ry="3.10" fill="#fbfbfb"/><path d="M0 0 L3.60 0 A3.60 3.10 0 0 1 0 3.10 Z" fill="#4a4a4a"/><path d="M0 0 L-3.60 0 A3.60 3.10 0 0 1 0 -3.10 Z" fill="#a8a8a8"/><path d="M-3.60 0 H3.60 M0 -3.10 V3.10" stroke="#555" stroke-width="0.35"/><ellipse rx="3.60" ry="3.10" fill="none" stroke="#231f20" stroke-width="0.8"/></g>
<g transform="translate(228.33 231.30) rotate(117)"><ellipse rx="3.60" ry="3.10" fill="#fbfbfb"/><path d="M0 0 L3.60 0 A3.60 3.10 0 0 1 0 3.10 Z" fill="#4a4a4a"/><path d="M0 0 L-3.60 0 A3.60 3.10 0 0 1 0 -3.10 Z" fill="#a8a8a8"/><path d="M-3.60 0 H3.60 M0 -3.10 V3.10" stroke="#555" stroke-width="0.35"/><ellipse rx="3.60" ry="3.10" fill="none" stroke="#231f20" stroke-width="0.8"/></g>
<g transform="translate(250.10 192.40) rotate(170)"><ellipse rx="3.60" ry="3.10" fill="#fbfbfb"/><path d="M0 0 L3.60 0 A3.60 3.10 0 0 1 0 3.10 Z" fill="#4a4a4a"/><path d="M0 0 L-3.60 0 A3.60 3.10 0 0 1 0 -3.10 Z" fill="#a8a8a8"/><path d="M-3.60 0 H3.60 M0 -3.10 V3.10" stroke="#555" stroke-width="0.35"/><ellipse rx="3.60" ry="3.10" fill="none" stroke="#231f20" stroke-width="0.8"/></g>
<g transform="translate(264.10 196.80) rotate(43)"><ellipse rx="3.60" ry="3.10" fill="#fbfbfb"/><path d="M0 0 L3.60 0 A3.60 3.10 0 0 1 0 3.10 Z" fill="#4a4a4a"/><path d="M0 0 L-3.60 0 A3.60 3.10 0 0 1 0 -3.10 Z" fill="#a8a8a8"/><path d="M-3.60 0 H3.60 M0 -3.10 V3.10" stroke="#555" stroke-width="0.35"/><ellipse rx="3.60" ry="3.10" fill="none" stroke="#231f20" stroke-width="0.8"/></g>
<g transform="translate(270.70 212.90) rotate(96)"><ellipse rx="3.60" ry="3.10" fill="#fbfbfb"/><path d="M0 0 L3.60 0 A3.60 3.10 0 0 1 0 3.10 Z" fill="#4a4a4a"/><path d="M0 0 L-3.60 0 A3.60 3.10 0 0 1 0 -3.10 Z" fill="#a8a8a8"/><path d="M-3.60 0 H3.60 M0 -3.10 V3.10" stroke="#555" stroke-width="0.35"/><ellipse rx="3.60" ry="3.10" fill="none" stroke="#231f20" stroke-width="0.8"/></g>
<g transform="translate(259.00 224.70) rotate(149)"><ellipse rx="3.60" ry="3.10" fill="#fbfbfb"/><path d="M0 0 L3.60 0 A3.60 3.10 0 0 1 0 3.10 Z" fill="#4a4a4a"/><path d="M0 0 L-3.60 0 A3.60 3.10 0 0 1 0 -3.10 Z" fill="#a8a8a8"/><path d="M-3.60 0 H3.60 M0 -3.10 V3.10" stroke="#555" stroke-width="0.35"/><ellipse rx="3.60" ry="3.10" fill="none" stroke="#231f20" stroke-width="0.8"/></g>
<g transform="translate(200.27 247.50) rotate(22)"><ellipse rx="3.60" ry="3.10" fill="#fbfbfb"/><path d="M0 0 L3.60 0 A3.60 3.10 0 0 1 0 3.10 Z" fill="#4a4a4a"/><path d="M0 0 L-3.60 0 A3.60 3.10 0 0 1 0 -3.10 Z" fill="#a8a8a8"/><path d="M-3.60 0 H3.60 M0 -3.10 V3.10" stroke="#555" stroke-width="0.35"/><ellipse rx="3.60" ry="3.10" fill="none" stroke="#231f20" stroke-width="0.8"/></g>
<g transform="translate(186.24 255.60) rotate(75)"><ellipse rx="3.60" ry="3.10" fill="#fbfbfb"/><path d="M0 0 L3.60 0 A3.60 3.10 0 0 1 0 3.10 Z" fill="#4a4a4a"/><path d="M0 0 L-3.60 0 A3.60 3.10 0 0 1 0 -3.10 Z" fill="#a8a8a8"/><path d="M-3.60 0 H3.60 M0 -3.10 V3.10" stroke="#555" stroke-width="0.35"/><ellipse rx="3.60" ry="3.10" fill="none" stroke="#231f20" stroke-width="0.8"/></g>
<g transform="translate(172.21 247.50) rotate(128)"><ellipse rx="3.60" ry="3.10" fill="#fbfbfb"/><path d="M0 0 L3.60 0 A3.60 3.10 0 0 1 0 3.10 Z" fill="#4a4a4a"/><path d="M0 0 L-3.60 0 A3.60 3.10 0 0 1 0 -3.10 Z" fill="#a8a8a8"/><path d="M-3.60 0 H3.60 M0 -3.10 V3.10" stroke="#555" stroke-width="0.35"/><ellipse rx="3.60" ry="3.10" fill="none" stroke="#231f20" stroke-width="0.8"/></g>
<g transform="translate(172.21 231.30) rotate(1)"><ellipse rx="3.60" ry="3.10" fill="#fbfbfb"/><path d="M0 0 L3.60 0 A3.60 3.10 0 0 1 0 3.10 Z" fill="#4a4a4a"/><path d="M0 0 L-3.60 0 A3.60 3.10 0 0 1 0 -3.10 Z" fill="#a8a8a8"/><path d="M-3.60 0 H3.60 M0 -3.10 V3.10" stroke="#555" stroke-width="0.35"/><ellipse rx="3.60" ry="3.10" fill="none" stroke="#231f20" stroke-width="0.8"/></g>
<g transform="translate(228.33 247.50) rotate(54)"><ellipse rx="3.60" ry="3.10" fill="#fbfbfb"/><path d="M0 0 L3.60 0 A3.60 3.10 0 0 1 0 3.10 Z" fill="#4a4a4a"/><path d="M0 0 L-3.60 0 A3.60 3.10 0 0 1 0 -3.10 Z" fill="#a8a8a8"/><path d="M-3.60 0 H3.60 M0 -3.10 V3.10" stroke="#555" stroke-width="0.35"/><ellipse rx="3.60" ry="3.10" fill="none" stroke="#231f20" stroke-width="0.8"/></g>
<g transform="translate(214.30 255.60) rotate(107)"><ellipse rx="3.60" ry="3.10" fill="#fbfbfb"/><path d="M0 0 L3.60 0 A3.60 3.10 0 0 1 0 3.10 Z" fill="#4a4a4a"/><path d="M0 0 L-3.60 0 A3.60 3.10 0 0 1 0 -3.10 Z" fill="#a8a8a8"/><path d="M-3.60 0 H3.60 M0 -3.10 V3.10" stroke="#555" stroke-width="0.35"/><ellipse rx="3.60" ry="3.10" fill="none" stroke="#231f20" stroke-width="0.8"/></g>
<g transform="translate(265.60 240.10) rotate(160)"><ellipse rx="3.60" ry="3.10" fill="#fbfbfb"/><path d="M0 0 L3.60 0 A3.60 3.10 0 0 1 0 3.10 Z" fill="#4a4a4a"/><path d="M0 0 L-3.60 0 A3.60 3.10 0 0 1 0 -3.10 Z" fill="#a8a8a8"/><path d="M-3.60 0 H3.60 M0 -3.10 V3.10" stroke="#555" stroke-width="0.35"/><ellipse rx="3.60" ry="3.10" fill="none" stroke="#231f20" stroke-width="0.8"/></g>
<g transform="translate(256.80 253.40) rotate(33)"><ellipse rx="3.60" ry="3.10" fill="#fbfbfb"/><path d="M0 0 L3.60 0 A3.60 3.10 0 0 1 0 3.10 Z" fill="#4a4a4a"/><path d="M0 0 L-3.60 0 A3.60 3.10 0 0 1 0 -3.10 Z" fill="#a8a8a8"/><path d="M-3.60 0 H3.60 M0 -3.10 V3.10" stroke="#555" stroke-width="0.35"/><ellipse rx="3.60" ry="3.10" fill="none" stroke="#231f20" stroke-width="0.8"/></g>
<g transform="translate(242.36 255.60) rotate(86)"><ellipse rx="3.60" ry="3.10" fill="#fbfbfb"/><path d="M0 0 L3.60 0 A3.60 3.10 0 0 1 0 3.10 Z" fill="#4a4a4a"/><path d="M0 0 L-3.60 0 A3.60 3.10 0 0 1 0 -3.10 Z" fill="#a8a8a8"/><path d="M-3.60 0 H3.60 M0 -3.10 V3.10" stroke="#555" stroke-width="0.35"/><ellipse rx="3.60" ry="3.10" fill="none" stroke="#231f20" stroke-width="0.8"/></g>
<g transform="translate(286.90 215.10) rotate(139)"><ellipse rx="3.60" ry="3.10" fill="#fbfbfb"/><path d="M0 0 L3.60 0 A3.60 3.10 0 0 1 0 3.10 Z" fill="#4a4a4a"/><path d="M0 0 L-3.60 0 A3.60 3.10 0 0 1 0 -3.10 Z" fill="#a8a8a8"/><path d="M-3.60 0 H3.60 M0 -3.10 V3.10" stroke="#555" stroke-width="0.35"/><ellipse rx="3.60" ry="3.10" fill="none" stroke="#231f20" stroke-width="0.8"/></g>
<g transform="translate(292.80 228.40) rotate(12)"><ellipse rx="3.60" ry="3.10" fill="#fbfbfb"/><path d="M0 0 L3.60 0 A3.60 3.10 0 0 1 0 3.10 Z" fill="#4a4a4a"/><path d="M0 0 L-3.60 0 A3.60 3.10 0 0 1 0 -3.10 Z" fill="#a8a8a8"/><path d="M-3.60 0 H3.60 M0 -3.10 V3.10" stroke="#555" stroke-width="0.35"/><ellipse rx="3.60" ry="3.10" fill="none" stroke="#231f20" stroke-width="0.8"/></g>
<g transform="translate(282.50 240.90) rotate(65)"><ellipse rx="3.60" ry="3.10" fill="#fbfbfb"/><path d="M0 0 L3.60 0 A3.60 3.10 0 0 1 0 3.10 Z" fill="#4a4a4a"/><path d="M0 0 L-3.60 0 A3.60 3.10 0 0 1 0 -3.10 Z" fill="#a8a8a8"/><path d="M-3.60 0 H3.60 M0 -3.10 V3.10" stroke="#555" stroke-width="0.35"/><ellipse rx="3.60" ry="3.10" fill="none" stroke="#231f20" stroke-width="0.8"/></g>
<g transform="translate(289.10 254.10) rotate(118)"><ellipse rx="3.60" ry="3.10" fill="#fbfbfb"/><path d="M0 0 L3.60 0 A3.60 3.10 0 0 1 0 3.10 Z" fill="#4a4a4a"/><path d="M0 0 L-3.60 0 A3.60 3.10 0 0 1 0 -3.10 Z" fill="#a8a8a8"/><path d="M-3.60 0 H3.60 M0 -3.10 V3.10" stroke="#555" stroke-width="0.35"/><ellipse rx="3.60" ry="3.10" fill="none" stroke="#231f20" stroke-width="0.8"/></g>
<g transform="translate(278.80 266.60) rotate(171)"><ellipse rx="3.60" ry="3.10" fill="#fbfbfb"/><path d="M0 0 L3.60 0 A3.60 3.10 0 0 1 0 3.10 Z" fill="#4a4a4a"/><path d="M0 0 L-3.60 0 A3.60 3.10 0 0 1 0 -3.10 Z" fill="#a8a8a8"/><path d="M-3.60 0 H3.60 M0 -3.10 V3.10" stroke="#555" stroke-width="0.35"/><ellipse rx="3.60" ry="3.10" fill="none" stroke="#231f20" stroke-width="0.8"/></g>
<g transform="translate(262.60 265.90) rotate(44)"><ellipse rx="3.60" ry="3.10" fill="#fbfbfb"/><path d="M0 0 L3.60 0 A3.60 3.10 0 0 1 0 3.10 Z" fill="#4a4a4a"/><path d="M0 0 L-3.60 0 A3.60 3.10 0 0 1 0 -3.10 Z" fill="#a8a8a8"/><path d="M-3.60 0 H3.60 M0 -3.10 V3.10" stroke="#555" stroke-width="0.35"/><ellipse rx="3.60" ry="3.10" fill="none" stroke="#231f20" stroke-width="0.8"/></g>
<g transform="translate(214.30 271.80) rotate(97)"><ellipse rx="3.60" ry="3.10" fill="#fbfbfb"/><path d="M0 0 L3.60 0 A3.60 3.10 0 0 1 0 3.10 Z" fill="#4a4a4a"/><path d="M0 0 L-3.60 0 A3.60 3.10 0 0 1 0 -3.10 Z" fill="#a8a8a8"/><path d="M-3.60 0 H3.60 M0 -3.10 V3.10" stroke="#555" stroke-width="0.35"/><ellipse rx="3.60" ry="3.10" fill="none" stroke="#231f20" stroke-width="0.8"/></g>
<g transform="translate(200.27 279.90) rotate(150)"><ellipse rx="3.60" ry="3.10" fill="#fbfbfb"/><path d="M0 0 L3.60 0 A3.60 3.10 0 0 1 0 3.10 Z" fill="#4a4a4a"/><path d="M0 0 L-3.60 0 A3.60 3.10 0 0 1 0 -3.10 Z" fill="#a8a8a8"/><path d="M-3.60 0 H3.60 M0 -3.10 V3.10" stroke="#555" stroke-width="0.35"/><ellipse rx="3.60" ry="3.10" fill="none" stroke="#231f20" stroke-width="0.8"/></g>
<g transform="translate(186.24 271.80) rotate(23)"><ellipse rx="3.60" ry="3.10" fill="#fbfbfb"/><path d="M0 0 L3.60 0 A3.60 3.10 0 0 1 0 3.10 Z" fill="#4a4a4a"/><path d="M0 0 L-3.60 0 A3.60 3.10 0 0 1 0 -3.10 Z" fill="#a8a8a8"/><path d="M-3.60 0 H3.60 M0 -3.10 V3.10" stroke="#555" stroke-width="0.35"/><ellipse rx="3.60" ry="3.10" fill="none" stroke="#231f20" stroke-width="0.8"/></g>
<g transform="translate(242.36 271.80) rotate(76)"><ellipse rx="3.60" ry="3.10" fill="#fbfbfb"/><path d="M0 0 L3.60 0 A3.60 3.10 0 0 1 0 3.10 Z" fill="#4a4a4a"/><path d="M0 0 L-3.60 0 A3.60 3.10 0 0 1 0 -3.10 Z" fill="#a8a8a8"/><path d="M-3.60 0 H3.60 M0 -3.10 V3.10" stroke="#555" stroke-width="0.35"/><ellipse rx="3.60" ry="3.10" fill="none" stroke="#231f20" stroke-width="0.8"/></g>
<g transform="translate(228.33 279.90) rotate(129)"><ellipse rx="3.60" ry="3.10" fill="#fbfbfb"/><path d="M0 0 L3.60 0 A3.60 3.10 0 0 1 0 3.10 Z" fill="#4a4a4a"/><path d="M0 0 L-3.60 0 A3.60 3.10 0 0 1 0 -3.10 Z" fill="#a8a8a8"/><path d="M-3.60 0 H3.60 M0 -3.10 V3.10" stroke="#555" stroke-width="0.35"/><ellipse rx="3.60" ry="3.10" fill="none" stroke="#231f20" stroke-width="0.8"/></g>
<text x="200.27" y="214.50" font-size="10.70" font-weight="bold" fill="#231f20" text-anchor="middle"   stroke="#231f20" stroke-width="0.22">E</text>
<text x="200.27" y="223.70" font-size="7.70" font-weight="bold" fill="#231f20" text-anchor="middle"   stroke="#231f20" stroke-width="0.12">0.47</text>
<text x="228.33" y="214.50" font-size="10.70" font-weight="bold" fill="#231f20" text-anchor="middle"   stroke="#231f20" stroke-width="0.22">F</text>
<text x="228.33" y="223.70" font-size="7.70" font-weight="bold" fill="#231f20" text-anchor="middle"   stroke="#231f20" stroke-width="0.12">0.50</text>
<text x="254.50" y="206.70" font-size="10.70" font-weight="bold" fill="#231f20" text-anchor="middle"   stroke="#231f20" stroke-width="0.22">G</text>
<text x="254.50" y="215.90" font-size="7.70" font-weight="bold" fill="#231f20" text-anchor="middle"   stroke="#231f20" stroke-width="0.12">0.24</text>
<text x="186.24" y="238.80" font-size="10.70" font-weight="bold" fill="#231f20" text-anchor="middle"   stroke="#231f20" stroke-width="0.22">C</text>
<text x="186.24" y="248.00" font-size="7.70" font-weight="bold" fill="#231f20" text-anchor="middle"   stroke="#231f20" stroke-width="0.12">0.74</text>
<text x="214.30" y="238.80" font-size="10.70" font-weight="bold" fill="#231f20" text-anchor="middle"   stroke="#231f20" stroke-width="0.22">D</text>
<text x="214.30" y="248.00" font-size="7.70" font-weight="bold" fill="#231f20" text-anchor="middle"   stroke="#231f20" stroke-width="0.12">0.36</text>
<text x="245.50" y="238.90" font-size="10.70" font-weight="bold" fill="#231f20" text-anchor="middle"   stroke="#231f20" stroke-width="0.22">J</text>
<text x="245.50" y="248.10" font-size="7.70" font-weight="bold" fill="#231f20" text-anchor="middle"   stroke="#231f20" stroke-width="0.12">-0.35</text>
<text x="276.30" y="226.90" font-size="10.70" font-weight="bold" fill="#231f20" text-anchor="middle"   stroke="#231f20" stroke-width="0.22">H</text>
<text x="276.30" y="236.10" font-size="7.70" font-weight="bold" fill="#231f20" text-anchor="middle"   stroke="#231f20" stroke-width="0.12">0.56</text>
<text x="272.80" y="252.70" font-size="10.70" font-weight="bold" fill="#231f20" text-anchor="middle"   stroke="#231f20" stroke-width="0.22">I</text>
<text x="272.80" y="261.90" font-size="7.70" font-weight="bold" fill="#231f20" text-anchor="middle"   stroke="#231f20" stroke-width="0.12">0.81</text>
<text x="200.27" y="263.10" font-size="10.70" font-weight="bold" fill="#231f20" text-anchor="middle"   stroke="#231f20" stroke-width="0.22">A</text>
<text x="200.27" y="272.30" font-size="7.70" font-weight="bold" fill="#231f20" text-anchor="middle"   stroke="#231f20" stroke-width="0.12">0.68</text>
<text x="228.33" y="263.10" font-size="10.70" font-weight="bold" fill="#231f20" text-anchor="middle"   stroke="#231f20" stroke-width="0.22">B</text>
<text x="228.33" y="272.30" font-size="7.70" font-weight="bold" fill="#231f20" text-anchor="middle"   stroke="#231f20" stroke-width="0.12">0.71</text>
<polygon points="351.00,191.80 364.51,199.60 364.51,215.20 351.00,223.00 337.49,215.20 337.49,199.60" fill="#f5dede" stroke="none"/>
<polygon points="379.80,191.80 393.31,199.60 393.31,215.20 379.80,223.00 366.24,215.20 366.24,199.60" fill="#d4808b" stroke="none"/>
<polygon points="408.60,191.80 422.11,199.60 422.11,215.20 408.60,223.00 395.04,215.20 395.04,199.60" fill="#fbf4e0" stroke="none"/>
<polygon points="336.62,216.69 350.14,224.49 350.11,239.91 336.60,247.71 323.09,239.91 323.09,224.30" fill="#db989e" stroke="none"/>
<polygon points="365.38,216.69 378.94,224.49 378.91,239.91 365.40,247.71 351.84,239.91 351.86,224.49" fill="#f9f1d7" stroke="none"/>
<polygon points="394.18,216.69 407.74,224.49 407.71,239.91 394.20,247.71 380.64,239.91 380.66,224.49" fill="#f8eecd" stroke="none"/>
<polygon points="422.98,216.69 436.51,224.30 436.51,239.91 423.00,247.71 409.44,239.91 409.46,224.49" fill="#f2d5d5" stroke="none"/>
<polygon points="350.98,241.39 364.54,249.19 364.51,264.61 351.00,272.41 337.49,264.61 337.46,249.19" fill="#dc9ba1" stroke="none"/>
<polygon points="379.78,241.39 393.34,249.19 393.31,264.61 379.80,272.41 366.24,264.61 366.26,249.19" fill="#d07081" stroke="none"/>
<polygon points="437.42,241.39 451.89,249.00 451.89,264.61 438.38,272.41 424.87,264.61 423.90,249.19" fill="#f1e09e" stroke="none"/>
<polygon points="424.15,266.06 437.66,273.86 440.65,288.62 427.14,296.42 413.62,288.62 413.62,273.02" fill="#db989e" stroke="none"/>
<line x1="351.00" y1="190.80" x2="351.00" y2="180.80" stroke="#231f20" stroke-width="1.7"/>
<line x1="336.62" y1="199.10" x2="327.96" y2="194.10" stroke="#231f20" stroke-width="1.7"/>
<line x1="379.80" y1="190.80" x2="379.81" y2="180.80" stroke="#231f20" stroke-width="1.7"/>
<line x1="408.60" y1="190.80" x2="408.61" y2="180.80" stroke="#231f20" stroke-width="1.7"/>
<line x1="422.98" y1="199.10" x2="431.64" y2="194.10" stroke="#231f20" stroke-width="1.7"/>
<line x1="322.22" y1="240.40" x2="313.56" y2="245.40" stroke="#231f20" stroke-width="1.7"/>
<line x1="322.22" y1="223.80" x2="313.59" y2="218.75" stroke="#231f20" stroke-width="1.7"/>
<line x1="437.38" y1="223.80" x2="446.01" y2="218.75" stroke="#231f20" stroke-width="1.7"/>
<line x1="351.00" y1="273.40" x2="351.00" y2="283.40" stroke="#231f20" stroke-width="1.7"/>
<line x1="336.62" y1="265.10" x2="327.97" y2="270.11" stroke="#231f20" stroke-width="1.7"/>
<line x1="394.18" y1="265.10" x2="402.83" y2="270.11" stroke="#231f20" stroke-width="1.7"/>
<line x1="379.80" y1="273.40" x2="379.81" y2="283.40" stroke="#231f20" stroke-width="1.7"/>
<line x1="452.78" y1="248.50" x2="461.34" y2="243.33" stroke="#231f20" stroke-width="1.7"/>
<line x1="452.78" y1="265.10" x2="461.44" y2="270.10" stroke="#231f20" stroke-width="1.7"/>
<line x1="441.58" y1="289.10" x2="450.69" y2="293.21" stroke="#231f20" stroke-width="1.7"/>
<line x1="427.20" y1="297.40" x2="427.20" y2="307.40" stroke="#231f20" stroke-width="1.7"/>
<line x1="412.82" y1="289.10" x2="404.16" y2="294.10" stroke="#231f20" stroke-width="1.7"/>
<line x1="365.38" y1="265.10" x2="379.80" y2="273.40" stroke="#231f20" stroke-width="2.4" stroke-linecap="round"/>
<line x1="423.00" y1="248.70" x2="424.02" y2="265.10" stroke="#231f20" stroke-width="2.4" stroke-linecap="round"/>
<line x1="351.00" y1="224.00" x2="336.62" y2="215.70" stroke="#231f20" stroke-width="2.4" stroke-linecap="round"/>
<line x1="438.40" y1="273.40" x2="441.58" y2="289.10" stroke="#231f20" stroke-width="2.4" stroke-linecap="round"/>
<line x1="351.00" y1="273.40" x2="336.62" y2="265.10" stroke="#231f20" stroke-width="2.4" stroke-linecap="round"/>
<line x1="336.60" y1="248.70" x2="336.62" y2="265.10" stroke="#231f20" stroke-width="2.4" stroke-linecap="round"/>
<line x1="322.22" y1="240.40" x2="322.22" y2="223.80" stroke="#231f20" stroke-width="2.4" stroke-linecap="round"/>
<line x1="427.20" y1="297.40" x2="412.82" y2="289.10" stroke="#231f20" stroke-width="2.4" stroke-linecap="round"/>
<line x1="422.98" y1="215.70" x2="408.60" y2="224.00" stroke="#231f20" stroke-width="2.4" stroke-linecap="round"/>
<line x1="394.20" y1="248.70" x2="394.18" y2="265.10" stroke="#231f20" stroke-width="2.4" stroke-linecap="round"/>
<line x1="437.38" y1="223.80" x2="437.38" y2="240.40" stroke="#231f20" stroke-width="2.4" stroke-linecap="round"/>
<line x1="452.78" y1="265.10" x2="438.40" y2="273.40" stroke="#231f20" stroke-width="2.4" stroke-linecap="round"/>
<line x1="422.98" y1="215.70" x2="437.38" y2="223.80" stroke="#231f20" stroke-width="2.4" stroke-linecap="round"/>
<line x1="350.98" y1="240.40" x2="365.40" y2="248.70" stroke="#231f20" stroke-width="2.4" stroke-linecap="round"/>
<line x1="394.18" y1="215.70" x2="379.80" y2="224.00" stroke="#231f20" stroke-width="2.4" stroke-linecap="round"/>
<line x1="351.00" y1="190.80" x2="336.62" y2="199.10" stroke="#231f20" stroke-width="2.4" stroke-linecap="round"/>
<line x1="365.38" y1="199.10" x2="379.80" y2="190.80" stroke="#231f20" stroke-width="2.4" stroke-linecap="round"/>
<line x1="412.82" y1="289.10" x2="412.82" y2="272.50" stroke="#231f20" stroke-width="2.4" stroke-linecap="round"/>
<line x1="365.38" y1="265.10" x2="351.00" y2="273.40" stroke="#231f20" stroke-width="2.4" stroke-linecap="round"/>
<line x1="394.18" y1="199.10" x2="408.60" y2="190.80" stroke="#231f20" stroke-width="2.4" stroke-linecap="round"/>
<line x1="408.60" y1="224.00" x2="408.58" y2="240.40" stroke="#231f20" stroke-width="2.4" stroke-linecap="round"/>
<line x1="438.40" y1="273.40" x2="424.02" y2="265.10" stroke="#231f20" stroke-width="2.4" stroke-linecap="round"/>
<line x1="379.78" y1="240.40" x2="365.40" y2="248.70" stroke="#231f20" stroke-width="2.4" stroke-linecap="round"/>
<line x1="336.62" y1="215.70" x2="336.62" y2="199.10" stroke="#231f20" stroke-width="2.4" stroke-linecap="round"/>
<line x1="336.62" y1="215.70" x2="322.22" y2="223.80" stroke="#231f20" stroke-width="2.4" stroke-linecap="round"/>
<line x1="350.98" y1="240.40" x2="336.60" y2="248.70" stroke="#231f20" stroke-width="2.4" stroke-linecap="round"/>
<line x1="437.38" y1="240.40" x2="423.00" y2="248.70" stroke="#231f20" stroke-width="2.4" stroke-linecap="round"/>
<line x1="437.38" y1="240.40" x2="452.78" y2="248.50" stroke="#231f20" stroke-width="2.4" stroke-linecap="round"/>
<line x1="351.00" y1="190.80" x2="365.38" y2="199.10" stroke="#231f20" stroke-width="2.4" stroke-linecap="round"/>
<line x1="365.38" y1="199.10" x2="365.38" y2="215.70" stroke="#231f20" stroke-width="2.4" stroke-linecap="round"/>
<line x1="408.60" y1="190.80" x2="422.98" y2="199.10" stroke="#231f20" stroke-width="2.4" stroke-linecap="round"/>
<line x1="394.18" y1="265.10" x2="379.80" y2="273.40" stroke="#231f20" stroke-width="2.4" stroke-linecap="round"/>
<line x1="379.80" y1="190.80" x2="394.18" y2="199.10" stroke="#231f20" stroke-width="2.4" stroke-linecap="round"/>
<line x1="336.60" y1="248.70" x2="322.22" y2="240.40" stroke="#231f20" stroke-width="2.4" stroke-linecap="round"/>
<line x1="424.02" y1="265.10" x2="412.82" y2="272.50" stroke="#231f20" stroke-width="2.4" stroke-linecap="round"/>
<line x1="379.78" y1="240.40" x2="394.20" y2="248.70" stroke="#231f20" stroke-width="2.4" stroke-linecap="round"/>
<line x1="408.58" y1="240.40" x2="394.20" y2="248.70" stroke="#231f20" stroke-width="2.4" stroke-linecap="round"/>
<line x1="351.00" y1="224.00" x2="350.98" y2="240.40" stroke="#231f20" stroke-width="2.4" stroke-linecap="round"/>
<line x1="408.58" y1="240.40" x2="423.00" y2="248.70" stroke="#231f20" stroke-width="2.4" stroke-linecap="round"/>
<line x1="441.58" y1="289.10" x2="427.20" y2="297.40" stroke="#231f20" stroke-width="2.4" stroke-linecap="round"/>
<line x1="365.38" y1="215.70" x2="351.00" y2="224.00" stroke="#231f20" stroke-width="2.4" stroke-linecap="round"/>
<line x1="365.38" y1="215.70" x2="379.80" y2="224.00" stroke="#231f20" stroke-width="2.4" stroke-linecap="round"/>
<line x1="422.98" y1="199.10" x2="422.98" y2="215.70" stroke="#231f20" stroke-width="2.4" stroke-linecap="round"/>
<line x1="394.18" y1="215.70" x2="408.60" y2="224.00" stroke="#231f20" stroke-width="2.4" stroke-linecap="round"/>
<line x1="379.80" y1="224.00" x2="379.78" y2="240.40" stroke="#231f20" stroke-width="2.4" stroke-linecap="round"/>
<line x1="365.40" y1="248.70" x2="365.38" y2="265.10" stroke="#231f20" stroke-width="2.4" stroke-linecap="round"/>
<line x1="452.78" y1="248.50" x2="452.78" y2="265.10" stroke="#231f20" stroke-width="2.4" stroke-linecap="round"/>
<line x1="394.18" y1="199.10" x2="394.18" y2="215.70" stroke="#231f20" stroke-width="2.4" stroke-linecap="round"/>
<circle cx="351.00" cy="180.80" r="1.9" fill="#fff" stroke="#231f20" stroke-width="0.8"/>
<circle cx="327.96" cy="194.10" r="1.9" fill="#fff" stroke="#231f20" stroke-width="0.8"/>
<circle cx="379.81" cy="180.80" r="1.9" fill="#fff" stroke="#231f20" stroke-width="0.8"/>
<circle cx="408.61" cy="180.80" r="1.9" fill="#fff" stroke="#231f20" stroke-width="0.8"/>
<circle cx="431.64" cy="194.10" r="1.9" fill="#fff" stroke="#231f20" stroke-width="0.8"/>
<circle cx="313.56" cy="245.40" r="1.9" fill="#fff" stroke="#231f20" stroke-width="0.8"/>
<circle cx="313.59" cy="218.75" r="1.9" fill="#fff" stroke="#231f20" stroke-width="0.8"/>
<circle cx="446.01" cy="218.75" r="1.9" fill="#fff" stroke="#231f20" stroke-width="0.8"/>
<circle cx="351.00" cy="283.40" r="1.9" fill="#fff" stroke="#231f20" stroke-width="0.8"/>
<circle cx="327.97" cy="270.11" r="1.9" fill="#fff" stroke="#231f20" stroke-width="0.8"/>
<circle cx="402.83" cy="270.11" r="1.9" fill="#fff" stroke="#231f20" stroke-width="0.8"/>
<circle cx="379.81" cy="283.40" r="1.9" fill="#fff" stroke="#231f20" stroke-width="0.8"/>
<circle cx="461.34" cy="243.33" r="1.9" fill="#fff" stroke="#231f20" stroke-width="0.8"/>
<circle cx="461.44" cy="270.10" r="1.9" fill="#fff" stroke="#231f20" stroke-width="0.8"/>
<circle cx="450.69" cy="293.21" r="1.9" fill="#fff" stroke="#231f20" stroke-width="0.8"/>
<circle cx="427.20" cy="307.40" r="1.9" fill="#fff" stroke="#231f20" stroke-width="0.8"/>
<circle cx="404.16" cy="294.10" r="1.9" fill="#fff" stroke="#231f20" stroke-width="0.8"/>
<g transform="translate(351.00 190.80) rotate(0)"><ellipse rx="3.60" ry="3.10" fill="#fbfbfb"/><path d="M0 0 L3.60 0 A3.60 3.10 0 0 1 0 3.10 Z" fill="#4a4a4a"/><path d="M0 0 L-3.60 0 A3.60 3.10 0 0 1 0 -3.10 Z" fill="#a8a8a8"/><path d="M-3.60 0 H3.60 M0 -3.10 V3.10" stroke="#555" stroke-width="0.35"/><ellipse rx="3.60" ry="3.10" fill="none" stroke="#231f20" stroke-width="0.8"/></g>
<g transform="translate(365.38 199.10) rotate(53)"><ellipse rx="3.60" ry="3.10" fill="#fbfbfb"/><path d="M0 0 L3.60 0 A3.60 3.10 0 0 1 0 3.10 Z" fill="#4a4a4a"/><path d="M0 0 L-3.60 0 A3.60 3.10 0 0 1 0 -3.10 Z" fill="#a8a8a8"/><path d="M-3.60 0 H3.60 M0 -3.10 V3.10" stroke="#555" stroke-width="0.35"/><ellipse rx="3.60" ry="3.10" fill="none" stroke="#231f20" stroke-width="0.8"/></g>
<g transform="translate(365.38 215.70) rotate(106)"><ellipse rx="3.60" ry="3.10" fill="#fbfbfb"/><path d="M0 0 L3.60 0 A3.60 3.10 0 0 1 0 3.10 Z" fill="#4a4a4a"/><path d="M0 0 L-3.60 0 A3.60 3.10 0 0 1 0 -3.10 Z" fill="#a8a8a8"/><path d="M-3.60 0 H3.60 M0 -3.10 V3.10" stroke="#555" stroke-width="0.35"/><ellipse rx="3.60" ry="3.10" fill="none" stroke="#231f20" stroke-width="0.8"/></g>
<g transform="translate(351.00 224.00) rotate(159)"><ellipse rx="3.60" ry="3.10" fill="#fbfbfb"/><path d="M0 0 L3.60 0 A3.60 3.10 0 0 1 0 3.10 Z" fill="#4a4a4a"/><path d="M0 0 L-3.60 0 A3.60 3.10 0 0 1 0 -3.10 Z" fill="#a8a8a8"/><path d="M-3.60 0 H3.60 M0 -3.10 V3.10" stroke="#555" stroke-width="0.35"/><ellipse rx="3.60" ry="3.10" fill="none" stroke="#231f20" stroke-width="0.8"/></g>
<g transform="translate(336.62 215.70) rotate(32)"><ellipse rx="3.60" ry="3.10" fill="#fbfbfb"/><path d="M0 0 L3.60 0 A3.60 3.10 0 0 1 0 3.10 Z" fill="#4a4a4a"/><path d="M0 0 L-3.60 0 A3.60 3.10 0 0 1 0 -3.10 Z" fill="#a8a8a8"/><path d="M-3.60 0 H3.60 M0 -3.10 V3.10" stroke="#555" stroke-width="0.35"/><ellipse rx="3.60" ry="3.10" fill="none" stroke="#231f20" stroke-width="0.8"/></g>
<g transform="translate(336.62 199.10) rotate(85)"><ellipse rx="3.60" ry="3.10" fill="#fbfbfb"/><path d="M0 0 L3.60 0 A3.60 3.10 0 0 1 0 3.10 Z" fill="#4a4a4a"/><path d="M0 0 L-3.60 0 A3.60 3.10 0 0 1 0 -3.10 Z" fill="#a8a8a8"/><path d="M-3.60 0 H3.60 M0 -3.10 V3.10" stroke="#555" stroke-width="0.35"/><ellipse rx="3.60" ry="3.10" fill="none" stroke="#231f20" stroke-width="0.8"/></g>
<g transform="translate(379.80 190.80) rotate(138)"><ellipse rx="3.60" ry="3.10" fill="#fbfbfb"/><path d="M0 0 L3.60 0 A3.60 3.10 0 0 1 0 3.10 Z" fill="#4a4a4a"/><path d="M0 0 L-3.60 0 A3.60 3.10 0 0 1 0 -3.10 Z" fill="#a8a8a8"/><path d="M-3.60 0 H3.60 M0 -3.10 V3.10" stroke="#555" stroke-width="0.35"/><ellipse rx="3.60" ry="3.10" fill="none" stroke="#231f20" stroke-width="0.8"/></g>
<g transform="translate(394.18 199.10) rotate(11)"><ellipse rx="3.60" ry="3.10" fill="#fbfbfb"/><path d="M0 0 L3.60 0 A3.60 3.10 0 0 1 0 3.10 Z" fill="#4a4a4a"/><path d="M0 0 L-3.60 0 A3.60 3.10 0 0 1 0 -3.10 Z" fill="#a8a8a8"/><path d="M-3.60 0 H3.60 M0 -3.10 V3.10" stroke="#555" stroke-width="0.35"/><ellipse rx="3.60" ry="3.10" fill="none" stroke="#231f20" stroke-width="0.8"/></g>
<g transform="translate(394.18 215.70) rotate(64)"><ellipse rx="3.60" ry="3.10" fill="#fbfbfb"/><path d="M0 0 L3.60 0 A3.60 3.10 0 0 1 0 3.10 Z" fill="#4a4a4a"/><path d="M0 0 L-3.60 0 A3.60 3.10 0 0 1 0 -3.10 Z" fill="#a8a8a8"/><path d="M-3.60 0 H3.60 M0 -3.10 V3.10" stroke="#555" stroke-width="0.35"/><ellipse rx="3.60" ry="3.10" fill="none" stroke="#231f20" stroke-width="0.8"/></g>
<g transform="translate(379.80 224.00) rotate(117)"><ellipse rx="3.60" ry="3.10" fill="#fbfbfb"/><path d="M0 0 L3.60 0 A3.60 3.10 0 0 1 0 3.10 Z" fill="#4a4a4a"/><path d="M0 0 L-3.60 0 A3.60 3.10 0 0 1 0 -3.10 Z" fill="#a8a8a8"/><path d="M-3.60 0 H3.60 M0 -3.10 V3.10" stroke="#555" stroke-width="0.35"/><ellipse rx="3.60" ry="3.10" fill="none" stroke="#231f20" stroke-width="0.8"/></g>
<g transform="translate(408.60 190.80) rotate(170)"><ellipse rx="3.60" ry="3.10" fill="#fbfbfb"/><path d="M0 0 L3.60 0 A3.60 3.10 0 0 1 0 3.10 Z" fill="#4a4a4a"/><path d="M0 0 L-3.60 0 A3.60 3.10 0 0 1 0 -3.10 Z" fill="#a8a8a8"/><path d="M-3.60 0 H3.60 M0 -3.10 V3.10" stroke="#555" stroke-width="0.35"/><ellipse rx="3.60" ry="3.10" fill="none" stroke="#231f20" stroke-width="0.8"/></g>
<g transform="translate(422.98 199.10) rotate(43)"><ellipse rx="3.60" ry="3.10" fill="#fbfbfb"/><path d="M0 0 L3.60 0 A3.60 3.10 0 0 1 0 3.10 Z" fill="#4a4a4a"/><path d="M0 0 L-3.60 0 A3.60 3.10 0 0 1 0 -3.10 Z" fill="#a8a8a8"/><path d="M-3.60 0 H3.60 M0 -3.10 V3.10" stroke="#555" stroke-width="0.35"/><ellipse rx="3.60" ry="3.10" fill="none" stroke="#231f20" stroke-width="0.8"/></g>
<g transform="translate(422.98 215.70) rotate(96)"><ellipse rx="3.60" ry="3.10" fill="#fbfbfb"/><path d="M0 0 L3.60 0 A3.60 3.10 0 0 1 0 3.10 Z" fill="#4a4a4a"/><path d="M0 0 L-3.60 0 A3.60 3.10 0 0 1 0 -3.10 Z" fill="#a8a8a8"/><path d="M-3.60 0 H3.60 M0 -3.10 V3.10" stroke="#555" stroke-width="0.35"/><ellipse rx="3.60" ry="3.10" fill="none" stroke="#231f20" stroke-width="0.8"/></g>
<g transform="translate(408.60 224.00) rotate(149)"><ellipse rx="3.60" ry="3.10" fill="#fbfbfb"/><path d="M0 0 L3.60 0 A3.60 3.10 0 0 1 0 3.10 Z" fill="#4a4a4a"/><path d="M0 0 L-3.60 0 A3.60 3.10 0 0 1 0 -3.10 Z" fill="#a8a8a8"/><path d="M-3.60 0 H3.60 M0 -3.10 V3.10" stroke="#555" stroke-width="0.35"/><ellipse rx="3.60" ry="3.10" fill="none" stroke="#231f20" stroke-width="0.8"/></g>
<g transform="translate(350.98 240.40) rotate(22)"><ellipse rx="3.60" ry="3.10" fill="#fbfbfb"/><path d="M0 0 L3.60 0 A3.60 3.10 0 0 1 0 3.10 Z" fill="#4a4a4a"/><path d="M0 0 L-3.60 0 A3.60 3.10 0 0 1 0 -3.10 Z" fill="#a8a8a8"/><path d="M-3.60 0 H3.60 M0 -3.10 V3.10" stroke="#555" stroke-width="0.35"/><ellipse rx="3.60" ry="3.10" fill="none" stroke="#231f20" stroke-width="0.8"/></g>
<g transform="translate(336.60 248.70) rotate(75)"><ellipse rx="3.60" ry="3.10" fill="#fbfbfb"/><path d="M0 0 L3.60 0 A3.60 3.10 0 0 1 0 3.10 Z" fill="#4a4a4a"/><path d="M0 0 L-3.60 0 A3.60 3.10 0 0 1 0 -3.10 Z" fill="#a8a8a8"/><path d="M-3.60 0 H3.60 M0 -3.10 V3.10" stroke="#555" stroke-width="0.35"/><ellipse rx="3.60" ry="3.10" fill="none" stroke="#231f20" stroke-width="0.8"/></g>
<g transform="translate(322.22 240.40) rotate(128)"><ellipse rx="3.60" ry="3.10" fill="#fbfbfb"/><path d="M0 0 L3.60 0 A3.60 3.10 0 0 1 0 3.10 Z" fill="#4a4a4a"/><path d="M0 0 L-3.60 0 A3.60 3.10 0 0 1 0 -3.10 Z" fill="#a8a8a8"/><path d="M-3.60 0 H3.60 M0 -3.10 V3.10" stroke="#555" stroke-width="0.35"/><ellipse rx="3.60" ry="3.10" fill="none" stroke="#231f20" stroke-width="0.8"/></g>
<g transform="translate(322.22 223.80) rotate(1)"><ellipse rx="3.60" ry="3.10" fill="#fbfbfb"/><path d="M0 0 L3.60 0 A3.60 3.10 0 0 1 0 3.10 Z" fill="#4a4a4a"/><path d="M0 0 L-3.60 0 A3.60 3.10 0 0 1 0 -3.10 Z" fill="#a8a8a8"/><path d="M-3.60 0 H3.60 M0 -3.10 V3.10" stroke="#555" stroke-width="0.35"/><ellipse rx="3.60" ry="3.10" fill="none" stroke="#231f20" stroke-width="0.8"/></g>
<g transform="translate(379.78 240.40) rotate(54)"><ellipse rx="3.60" ry="3.10" fill="#fbfbfb"/><path d="M0 0 L3.60 0 A3.60 3.10 0 0 1 0 3.10 Z" fill="#4a4a4a"/><path d="M0 0 L-3.60 0 A3.60 3.10 0 0 1 0 -3.10 Z" fill="#a8a8a8"/><path d="M-3.60 0 H3.60 M0 -3.10 V3.10" stroke="#555" stroke-width="0.35"/><ellipse rx="3.60" ry="3.10" fill="none" stroke="#231f20" stroke-width="0.8"/></g>
<g transform="translate(365.40 248.70) rotate(107)"><ellipse rx="3.60" ry="3.10" fill="#fbfbfb"/><path d="M0 0 L3.60 0 A3.60 3.10 0 0 1 0 3.10 Z" fill="#4a4a4a"/><path d="M0 0 L-3.60 0 A3.60 3.10 0 0 1 0 -3.10 Z" fill="#a8a8a8"/><path d="M-3.60 0 H3.60 M0 -3.10 V3.10" stroke="#555" stroke-width="0.35"/><ellipse rx="3.60" ry="3.10" fill="none" stroke="#231f20" stroke-width="0.8"/></g>
<g transform="translate(408.58 240.40) rotate(160)"><ellipse rx="3.60" ry="3.10" fill="#fbfbfb"/><path d="M0 0 L3.60 0 A3.60 3.10 0 0 1 0 3.10 Z" fill="#4a4a4a"/><path d="M0 0 L-3.60 0 A3.60 3.10 0 0 1 0 -3.10 Z" fill="#a8a8a8"/><path d="M-3.60 0 H3.60 M0 -3.10 V3.10" stroke="#555" stroke-width="0.35"/><ellipse rx="3.60" ry="3.10" fill="none" stroke="#231f20" stroke-width="0.8"/></g>
<g transform="translate(394.20 248.70) rotate(33)"><ellipse rx="3.60" ry="3.10" fill="#fbfbfb"/><path d="M0 0 L3.60 0 A3.60 3.10 0 0 1 0 3.10 Z" fill="#4a4a4a"/><path d="M0 0 L-3.60 0 A3.60 3.10 0 0 1 0 -3.10 Z" fill="#a8a8a8"/><path d="M-3.60 0 H3.60 M0 -3.10 V3.10" stroke="#555" stroke-width="0.35"/><ellipse rx="3.60" ry="3.10" fill="none" stroke="#231f20" stroke-width="0.8"/></g>
<g transform="translate(437.38 223.80) rotate(86)"><ellipse rx="3.60" ry="3.10" fill="#fbfbfb"/><path d="M0 0 L3.60 0 A3.60 3.10 0 0 1 0 3.10 Z" fill="#4a4a4a"/><path d="M0 0 L-3.60 0 A3.60 3.10 0 0 1 0 -3.10 Z" fill="#a8a8a8"/><path d="M-3.60 0 H3.60 M0 -3.10 V3.10" stroke="#555" stroke-width="0.35"/><ellipse rx="3.60" ry="3.10" fill="none" stroke="#231f20" stroke-width="0.8"/></g>
<g transform="translate(437.38 240.40) rotate(139)"><ellipse rx="3.60" ry="3.10" fill="#fbfbfb"/><path d="M0 0 L3.60 0 A3.60 3.10 0 0 1 0 3.10 Z" fill="#4a4a4a"/><path d="M0 0 L-3.60 0 A3.60 3.10 0 0 1 0 -3.10 Z" fill="#a8a8a8"/><path d="M-3.60 0 H3.60 M0 -3.10 V3.10" stroke="#555" stroke-width="0.35"/><ellipse rx="3.60" ry="3.10" fill="none" stroke="#231f20" stroke-width="0.8"/></g>
<g transform="translate(423.00 248.70) rotate(12)"><ellipse rx="3.60" ry="3.10" fill="#fbfbfb"/><path d="M0 0 L3.60 0 A3.60 3.10 0 0 1 0 3.10 Z" fill="#4a4a4a"/><path d="M0 0 L-3.60 0 A3.60 3.10 0 0 1 0 -3.10 Z" fill="#a8a8a8"/><path d="M-3.60 0 H3.60 M0 -3.10 V3.10" stroke="#555" stroke-width="0.35"/><ellipse rx="3.60" ry="3.10" fill="none" stroke="#231f20" stroke-width="0.8"/></g>
<g transform="translate(365.38 265.10) rotate(65)"><ellipse rx="3.60" ry="3.10" fill="#fbfbfb"/><path d="M0 0 L3.60 0 A3.60 3.10 0 0 1 0 3.10 Z" fill="#4a4a4a"/><path d="M0 0 L-3.60 0 A3.60 3.10 0 0 1 0 -3.10 Z" fill="#a8a8a8"/><path d="M-3.60 0 H3.60 M0 -3.10 V3.10" stroke="#555" stroke-width="0.35"/><ellipse rx="3.60" ry="3.10" fill="none" stroke="#231f20" stroke-width="0.8"/></g>
<g transform="translate(351.00 273.40) rotate(118)"><ellipse rx="3.60" ry="3.10" fill="#fbfbfb"/><path d="M0 0 L3.60 0 A3.60 3.10 0 0 1 0 3.10 Z" fill="#4a4a4a"/><path d="M0 0 L-3.60 0 A3.60 3.10 0 0 1 0 -3.10 Z" fill="#a8a8a8"/><path d="M-3.60 0 H3.60 M0 -3.10 V3.10" stroke="#555" stroke-width="0.35"/><ellipse rx="3.60" ry="3.10" fill="none" stroke="#231f20" stroke-width="0.8"/></g>
<g transform="translate(336.62 265.10) rotate(171)"><ellipse rx="3.60" ry="3.10" fill="#fbfbfb"/><path d="M0 0 L3.60 0 A3.60 3.10 0 0 1 0 3.10 Z" fill="#4a4a4a"/><path d="M0 0 L-3.60 0 A3.60 3.10 0 0 1 0 -3.10 Z" fill="#a8a8a8"/><path d="M-3.60 0 H3.60 M0 -3.10 V3.10" stroke="#555" stroke-width="0.35"/><ellipse rx="3.60" ry="3.10" fill="none" stroke="#231f20" stroke-width="0.8"/></g>
<g transform="translate(394.18 265.10) rotate(44)"><ellipse rx="3.60" ry="3.10" fill="#fbfbfb"/><path d="M0 0 L3.60 0 A3.60 3.10 0 0 1 0 3.10 Z" fill="#4a4a4a"/><path d="M0 0 L-3.60 0 A3.60 3.10 0 0 1 0 -3.10 Z" fill="#a8a8a8"/><path d="M-3.60 0 H3.60 M0 -3.10 V3.10" stroke="#555" stroke-width="0.35"/><ellipse rx="3.60" ry="3.10" fill="none" stroke="#231f20" stroke-width="0.8"/></g>
<g transform="translate(379.80 273.40) rotate(97)"><ellipse rx="3.60" ry="3.10" fill="#fbfbfb"/><path d="M0 0 L3.60 0 A3.60 3.10 0 0 1 0 3.10 Z" fill="#4a4a4a"/><path d="M0 0 L-3.60 0 A3.60 3.10 0 0 1 0 -3.10 Z" fill="#a8a8a8"/><path d="M-3.60 0 H3.60 M0 -3.10 V3.10" stroke="#555" stroke-width="0.35"/><ellipse rx="3.60" ry="3.10" fill="none" stroke="#231f20" stroke-width="0.8"/></g>
<g transform="translate(452.78 248.50) rotate(150)"><ellipse rx="3.60" ry="3.10" fill="#fbfbfb"/><path d="M0 0 L3.60 0 A3.60 3.10 0 0 1 0 3.10 Z" fill="#4a4a4a"/><path d="M0 0 L-3.60 0 A3.60 3.10 0 0 1 0 -3.10 Z" fill="#a8a8a8"/><path d="M-3.60 0 H3.60 M0 -3.10 V3.10" stroke="#555" stroke-width="0.35"/><ellipse rx="3.60" ry="3.10" fill="none" stroke="#231f20" stroke-width="0.8"/></g>
<g transform="translate(452.78 265.10) rotate(23)"><ellipse rx="3.60" ry="3.10" fill="#fbfbfb"/><path d="M0 0 L3.60 0 A3.60 3.10 0 0 1 0 3.10 Z" fill="#4a4a4a"/><path d="M0 0 L-3.60 0 A3.60 3.10 0 0 1 0 -3.10 Z" fill="#a8a8a8"/><path d="M-3.60 0 H3.60 M0 -3.10 V3.10" stroke="#555" stroke-width="0.35"/><ellipse rx="3.60" ry="3.10" fill="none" stroke="#231f20" stroke-width="0.8"/></g>
<g transform="translate(438.40 273.40) rotate(76)"><ellipse rx="3.60" ry="3.10" fill="#fbfbfb"/><path d="M0 0 L3.60 0 A3.60 3.10 0 0 1 0 3.10 Z" fill="#4a4a4a"/><path d="M0 0 L-3.60 0 A3.60 3.10 0 0 1 0 -3.10 Z" fill="#a8a8a8"/><path d="M-3.60 0 H3.60 M0 -3.10 V3.10" stroke="#555" stroke-width="0.35"/><ellipse rx="3.60" ry="3.10" fill="none" stroke="#231f20" stroke-width="0.8"/></g>
<g transform="translate(424.02 265.10) rotate(129)"><ellipse rx="3.60" ry="3.10" fill="#fbfbfb"/><path d="M0 0 L3.60 0 A3.60 3.10 0 0 1 0 3.10 Z" fill="#4a4a4a"/><path d="M0 0 L-3.60 0 A3.60 3.10 0 0 1 0 -3.10 Z" fill="#a8a8a8"/><path d="M-3.60 0 H3.60 M0 -3.10 V3.10" stroke="#555" stroke-width="0.35"/><ellipse rx="3.60" ry="3.10" fill="none" stroke="#231f20" stroke-width="0.8"/></g>
<g transform="translate(441.58 289.10) rotate(2)"><ellipse rx="3.60" ry="3.10" fill="#fbfbfb"/><path d="M0 0 L3.60 0 A3.60 3.10 0 0 1 0 3.10 Z" fill="#4a4a4a"/><path d="M0 0 L-3.60 0 A3.60 3.10 0 0 1 0 -3.10 Z" fill="#a8a8a8"/><path d="M-3.60 0 H3.60 M0 -3.10 V3.10" stroke="#555" stroke-width="0.35"/><ellipse rx="3.60" ry="3.10" fill="none" stroke="#231f20" stroke-width="0.8"/></g>
<g transform="translate(427.20 297.40) rotate(55)"><ellipse rx="3.60" ry="3.10" fill="#fbfbfb"/><path d="M0 0 L3.60 0 A3.60 3.10 0 0 1 0 3.10 Z" fill="#4a4a4a"/><path d="M0 0 L-3.60 0 A3.60 3.10 0 0 1 0 -3.10 Z" fill="#a8a8a8"/><path d="M-3.60 0 H3.60 M0 -3.10 V3.10" stroke="#555" stroke-width="0.35"/><ellipse rx="3.60" ry="3.10" fill="none" stroke="#231f20" stroke-width="0.8"/></g>
<g transform="translate(412.82 289.10) rotate(108)"><ellipse rx="3.60" ry="3.10" fill="#fbfbfb"/><path d="M0 0 L3.60 0 A3.60 3.10 0 0 1 0 3.10 Z" fill="#4a4a4a"/><path d="M0 0 L-3.60 0 A3.60 3.10 0 0 1 0 -3.10 Z" fill="#a8a8a8"/><path d="M-3.60 0 H3.60 M0 -3.10 V3.10" stroke="#555" stroke-width="0.35"/><ellipse rx="3.60" ry="3.10" fill="none" stroke="#231f20" stroke-width="0.8"/></g>
<g transform="translate(412.82 272.50) rotate(161)"><ellipse rx="3.60" ry="3.10" fill="#fbfbfb"/><path d="M0 0 L3.60 0 A3.60 3.10 0 0 1 0 3.10 Z" fill="#4a4a4a"/><path d="M0 0 L-3.60 0 A3.60 3.10 0 0 1 0 -3.10 Z" fill="#a8a8a8"/><path d="M-3.60 0 H3.60 M0 -3.10 V3.10" stroke="#555" stroke-width="0.35"/><ellipse rx="3.60" ry="3.10" fill="none" stroke="#231f20" stroke-width="0.8"/></g>
<text x="351.00" y="206.80" font-size="10.70" font-weight="bold" fill="#231f20" text-anchor="middle"   stroke="#231f20" stroke-width="0.22">G</text>
<text x="351.00" y="216.00" font-size="7.70" font-weight="bold" fill="#231f20" text-anchor="middle"   stroke="#231f20" stroke-width="0.12">0.65</text>
<text x="379.78" y="206.80" font-size="10.70" font-weight="bold" fill="#231f20" text-anchor="middle"   stroke="#231f20" stroke-width="0.22">H</text>
<text x="379.78" y="216.00" font-size="7.70" font-weight="bold" fill="#231f20" text-anchor="middle"   stroke="#231f20" stroke-width="0.12">0.83</text>
<text x="408.58" y="206.80" font-size="10.70" font-weight="bold" fill="#231f20" text-anchor="middle"   stroke="#231f20" stroke-width="0.22">I</text>
<text x="408.58" y="216.00" font-size="7.70" font-weight="bold" fill="#231f20" text-anchor="middle"   stroke="#231f20" stroke-width="0.12">0.54</text>
<text x="336.61" y="231.57" font-size="10.70" font-weight="bold" fill="#231f20" text-anchor="middle"   stroke="#231f20" stroke-width="0.22">C</text>
<text x="336.61" y="240.77" font-size="7.70" font-weight="bold" fill="#231f20" text-anchor="middle"   stroke="#231f20" stroke-width="0.12">0.77</text>
<text x="365.39" y="231.60" font-size="10.70" font-weight="bold" fill="#231f20" text-anchor="middle"   stroke="#231f20" stroke-width="0.22">D</text>
<text x="365.39" y="240.80" font-size="7.70" font-weight="bold" fill="#231f20" text-anchor="middle"   stroke="#231f20" stroke-width="0.12">0.52</text>
<text x="394.19" y="231.60" font-size="10.70" font-weight="bold" fill="#231f20" text-anchor="middle"   stroke="#231f20" stroke-width="0.22">E</text>
<text x="394.19" y="240.80" font-size="7.70" font-weight="bold" fill="#231f20" text-anchor="middle"   stroke="#231f20" stroke-width="0.12">0.50</text>
<text x="422.98" y="231.57" font-size="10.70" font-weight="bold" fill="#231f20" text-anchor="middle"   stroke="#231f20" stroke-width="0.22">F</text>
<text x="422.98" y="240.77" font-size="7.70" font-weight="bold" fill="#231f20" text-anchor="middle"   stroke="#231f20" stroke-width="0.12">0.66</text>
<text x="351.00" y="256.30" font-size="10.70" font-weight="bold" fill="#231f20" text-anchor="middle"   stroke="#231f20" stroke-width="0.22">A</text>
<text x="351.00" y="265.50" font-size="7.70" font-weight="bold" fill="#231f20" text-anchor="middle"   stroke="#231f20" stroke-width="0.12">0.76</text>
<text x="379.79" y="256.30" font-size="10.70" font-weight="bold" fill="#231f20" text-anchor="middle"   stroke="#231f20" stroke-width="0.22">B</text>
<text x="379.79" y="265.50" font-size="7.70" font-weight="bold" fill="#231f20" text-anchor="middle"   stroke="#231f20" stroke-width="0.12">0.86</text>
<text x="438.06" y="256.27" font-size="10.70" font-weight="bold" fill="#231f20" text-anchor="middle"   stroke="#231f20" stroke-width="0.22">J</text>
<text x="438.06" y="265.47" font-size="7.70" font-weight="bold" fill="#231f20" text-anchor="middle"   stroke="#231f20" stroke-width="0.12">0.40</text>
<text x="426.14" y="280.50" font-size="10.70" font-weight="bold" fill="#231f20" text-anchor="middle"   stroke="#231f20" stroke-width="0.22">K</text>
<text x="426.14" y="289.70" font-size="7.70" font-weight="bold" fill="#231f20" text-anchor="middle"   stroke="#231f20" stroke-width="0.12">0.77</text>
<text x="121.50" y="139.80" font-size="12.60" font-weight="bold" fill="#231f20" text-anchor="middle"   stroke="#231f20" stroke-width="0.22">O7H</text>
<text x="278.70" y="139.60" font-size="12.60" font-weight="bold" fill="#231f20" text-anchor="middle"   stroke="#231f20" stroke-width="0.22">O8H</text>
<text x="436.00" y="139.60" font-size="12.60" font-weight="bold" fill="#231f20" text-anchor="middle"   stroke="#231f20" stroke-width="0.22">O9H</text>
<text x="122.00" y="301.20" font-size="12.60" font-weight="bold" fill="#231f20" text-anchor="middle"   stroke="#231f20" stroke-width="0.22">OO7H</text>
<text x="278.80" y="300.20" font-size="12.60" font-weight="bold" fill="#231f20" text-anchor="middle"   stroke="#231f20" stroke-width="0.22">OO8H</text>
<text x="384.00" y="300.20" font-size="12.60" font-weight="bold" fill="#231f20" text-anchor="middle"   stroke="#231f20" stroke-width="0.22">OO9H</text>
<text x="235.60" y="14.40" font-size="13.00" font-weight="bold" fill="#231f20" text-anchor="middle"   stroke="#231f20" stroke-width="0.22">HOMA</text>
<rect x="146.80" y="148.8" width="5.19" height="9.6" fill="#e8c040"/>
<rect x="151.69" y="148.8" width="5.19" height="9.6" fill="#eccb5a"/>
<rect x="156.58" y="148.8" width="5.19" height="9.6" fill="#efd479"/>
<rect x="161.48" y="148.8" width="5.19" height="9.6" fill="#f1dc98"/>
<rect x="166.37" y="148.8" width="5.19" height="9.6" fill="#f5e7b8"/>
<rect x="171.26" y="148.8" width="5.19" height="9.6" fill="#faf1da"/>
<rect x="176.15" y="148.8" width="5.19" height="9.6" fill="#ffffff"/>
<rect x="181.05" y="148.8" width="5.19" height="9.6" fill="#f5dcdc"/>
<rect x="185.94" y="148.8" width="5.19" height="9.6" fill="#ebbcbc"/>
<rect x="190.83" y="148.8" width="5.19" height="9.6" fill="#e09ca0"/>
<rect x="195.72" y="148.8" width="5.19" height="9.6" fill="#d87c88"/>
<rect x="200.62" y="148.8" width="5.19" height="9.6" fill="#cf5c70"/>
<rect x="205.51" y="148.8" width="5.19" height="9.6" fill="#c43a56"/>
<rect x="146.8" y="148.8" width="63.6" height="9.6" fill="none" stroke="#4a4242" stroke-width="0.9"/>
<text x="178.50" y="166.80" font-size="7.60" font-weight="normal" fill="#231f20" text-anchor="middle"  >Aromaticity</text>
<line x1="154" y1="169.3" x2="200" y2="169.3" stroke="#777" stroke-width="0.9"/>
<polygon points="203,169.3 199,167.8 199,170.8" fill="#333"/>
<polygon points="509.50,22.55 518.98,28.03 518.98,38.98 509.50,44.45 500.02,38.98 500.02,28.02" fill="#fbeeee" stroke="#231f20" stroke-width="1.45" stroke-linejoin="round"/>
<polygon points="528.80,22.55 538.28,28.03 538.28,38.98 528.80,44.45 519.32,38.98 519.32,28.02" fill="#cc6074" stroke="#231f20" stroke-width="1.45" stroke-linejoin="round"/>
<polygon points="499.90,39.25 509.38,44.73 509.38,55.68 499.90,61.15 490.42,55.68 490.42,44.73" fill="#cb5e72" stroke="#231f20" stroke-width="1.45" stroke-linejoin="round"/>
<polygon points="519.20,39.25 528.68,44.73 528.68,55.68 519.20,61.15 509.72,55.68 509.72,44.73" fill="#e8cf6c" stroke="#231f20" stroke-width="1.45" stroke-linejoin="round"/>
<polygon points="509.50,55.85 518.98,61.32 518.98,72.27 509.50,77.75 500.02,72.27 500.02,61.32" fill="#fbeeee" stroke="#231f20" stroke-width="1.45" stroke-linejoin="round"/>
<polygon points="528.80,55.85 538.28,61.32 538.28,72.27 528.80,77.75 519.32,72.27 519.32,61.32" fill="#cc6074" stroke="#231f20" stroke-width="1.45" stroke-linejoin="round"/>
<polygon points="575.60,22.55 585.08,28.03 585.08,38.98 575.60,44.45 566.12,38.98 566.12,28.02" fill="#ecc4c4" stroke="#231f20" stroke-width="1.45" stroke-linejoin="round"/>
<polygon points="594.80,22.55 604.28,28.03 604.28,38.98 594.80,44.45 585.32,38.98 585.32,28.02" fill="#d4868e" stroke="#231f20" stroke-width="1.45" stroke-linejoin="round"/>
<polygon points="566.00,39.25 575.48,44.73 575.48,55.68 566.00,61.15 556.52,55.68 556.52,44.73" fill="#ebc1c2" stroke="#231f20" stroke-width="1.45" stroke-linejoin="round"/>
<polygon points="575.60,55.85 585.08,61.32 585.08,72.27 575.60,77.75 566.12,72.27 566.12,61.32" fill="#ecc4c4" stroke="#231f20" stroke-width="1.45" stroke-linejoin="round"/>
<polygon points="594.80,55.85 604.28,61.32 604.28,72.27 594.80,77.75 585.32,72.27 585.32,61.32" fill="#d4868e" stroke="#231f20" stroke-width="1.45" stroke-linejoin="round"/>
<polygon points="635.20,27.40 645.20,22.40 654.60,27.60 654.10,38.90 644.10,43.60 634.70,38.40" fill="#edc6c6" stroke="#231f20" stroke-width="1.45" stroke-linejoin="round"/>
<polygon points="654.60,27.60 663.50,22.40 672.90,27.60 673.40,38.90 664.50,44.10 654.10,38.90" fill="#edc6c6" stroke="#231f20" stroke-width="1.45" stroke-linejoin="round"/>
<polygon points="625.30,42.60 634.70,38.40 644.10,43.60 643.10,56.20 633.70,59.30 623.70,54.10" fill="#f0cece" stroke="#231f20" stroke-width="1.45" stroke-linejoin="round"/>
<polygon points="664.50,44.10 673.40,38.90 683.30,43.10 684.40,53.50 676.00,59.30 665.60,56.20" fill="#f0cece" stroke="#231f20" stroke-width="1.45" stroke-linejoin="round"/>
<polygon points="632.60,59.80 643.10,56.20 651.40,63.50 649.90,74.40 640.00,78.10 631.10,70.80" fill="#cf707f" stroke="#231f20" stroke-width="1.45" stroke-linejoin="round"/>
<polygon points="656.70,63.50 665.60,56.20 676.00,59.80 677.60,70.30 669.20,77.60 658.20,74.40" fill="#cf707f" stroke="#231f20" stroke-width="1.45" stroke-linejoin="round"/>
<polygon points="512.60,92.25 522.08,97.73 522.08,108.67 512.60,114.15 503.12,108.67 503.12,97.73" fill="#fbf4dc" stroke="#231f20" stroke-width="1.45" stroke-linejoin="round"/>
<polygon points="531.50,92.25 540.98,97.73 540.98,108.67 531.50,114.15 522.02,108.67 522.02,97.73" fill="#d3838c" stroke="#231f20" stroke-width="1.45" stroke-linejoin="round"/>
<polygon points="550.40,92.25 559.88,97.73 559.88,108.67 550.40,114.15 540.92,108.67 540.92,97.73" fill="#f9e9e9" stroke="#231f20" stroke-width="1.45" stroke-linejoin="round"/>
<polygon points="503.10,108.65 512.58,114.12 512.58,125.07 503.10,130.55 493.62,125.07 493.62,114.12" fill="#cb5e73" stroke="#231f20" stroke-width="1.45" stroke-linejoin="round"/>
<polygon points="522.00,108.65 531.48,114.12 531.48,125.07 522.00,130.55 512.52,125.07 512.52,114.12" fill="#e9cf6d" stroke="#231f20" stroke-width="1.45" stroke-linejoin="round"/>
<polygon points="560.90,108.65 570.38,114.12 570.38,125.07 560.90,130.55 551.42,125.07 551.42,114.12" fill="#da969c" stroke="#231f20" stroke-width="1.45" stroke-linejoin="round"/>
<polygon points="512.60,125.05 522.08,130.53 522.08,141.47 512.60,146.95 503.12,141.47 503.12,130.53" fill="#fffbf9" stroke="#231f20" stroke-width="1.45" stroke-linejoin="round"/>
<polygon points="531.50,125.05 540.98,130.53 540.98,141.47 531.50,146.95 522.02,141.47 522.02,130.53" fill="#ce6b7b" stroke="#231f20" stroke-width="1.45" stroke-linejoin="round"/>
<polygon points="613.50,96.70 622.80,92.30 631.50,97.30 630.90,108.50 621.60,112.20 613.50,107.90" fill="#fbf3da" stroke="#231f20" stroke-width="1.45" stroke-linejoin="round"/>
<polygon points="631.50,97.30 640.80,92.70 649.50,97.30 649.50,108.50 640.20,113.40 630.90,108.50" fill="#d4868e" stroke="#231f20" stroke-width="1.45" stroke-linejoin="round"/>
<polygon points="649.50,97.30 659.40,93.00 668.70,97.90 669.30,109.10 660.00,114.10 650.10,109.70" fill="#f7e4e4" stroke="#231f20" stroke-width="1.45" stroke-linejoin="round"/>
<polygon points="603.00,110.30 612.90,107.90 621.60,112.20 621.60,123.40 612.30,125.80 602.30,121.50" fill="#cc5e73" stroke="#231f20" stroke-width="1.45" stroke-linejoin="round"/>
<polygon points="621.60,112.20 630.90,108.50 639.60,114.70 638.30,125.20 629.60,128.90 621.60,123.40" fill="#e9cf6d" stroke="#231f20" stroke-width="1.45" stroke-linejoin="round"/>
<polygon points="660.00,114.10 669.30,109.10 678.60,114.10 679.90,124.60 671.20,128.90 661.90,125.20" fill="#f0d0d0" stroke="#231f20" stroke-width="1.45" stroke-linejoin="round"/>
<polygon points="611.00,127.70 620.30,124.60 628.40,130.20 627.20,141.40 617.90,143.80 609.80,138.90" fill="#fdf5f3" stroke="#231f20" stroke-width="1.45" stroke-linejoin="round"/>
<polygon points="628.40,130.20 638.30,126.50 647.00,132.00 647.60,143.20 637.70,146.90 627.80,141.40" fill="#cc5f73" stroke="#231f20" stroke-width="1.45" stroke-linejoin="round"/>
<polygon points="652.60,133.30 662.50,127.70 672.40,130.80 673.70,141.40 663.80,146.30 654.50,142.60" fill="#cf707f" stroke="#231f20" stroke-width="1.45" stroke-linejoin="round"/>
<polygon points="504.30,166.20 513.60,161.50 522.90,166.20 522.90,177.40 513.00,182.30 504.30,177.40" fill="#faf1d4" stroke="#231f20" stroke-width="1.45" stroke-linejoin="round"/>
<polygon points="522.90,166.20 532.20,161.90 540.90,166.20 540.20,178.00 530.90,183.00 522.90,177.40" fill="#db989e" stroke="#231f20" stroke-width="1.45" stroke-linejoin="round"/>
<polygon points="540.90,166.20 550.20,161.90 559.50,166.80 559.50,177.40 550.80,182.30 540.90,178.60" fill="#fbf0ef" stroke="#231f20" stroke-width="1.45" stroke-linejoin="round"/>
<polygon points="493.70,179.90 503.60,176.70 512.30,182.30 511.70,193.50 502.40,196.60 493.10,191.60" fill="#cb5e73" stroke="#231f20" stroke-width="1.45" stroke-linejoin="round"/>
<polygon points="512.30,182.30 521.60,178.60 530.30,183.60 529.70,194.70 520.40,198.50 511.70,193.50" fill="#ead06f" stroke="#231f20" stroke-width="1.45" stroke-linejoin="round"/>
<polygon points="551.40,182.30 560.70,178.60 570.00,183.00 571.30,192.90 562.00,197.80 553.30,194.10" fill="#f8e7e7" stroke="#231f20" stroke-width="1.45" stroke-linejoin="round"/>
<polygon points="501.80,197.20 510.50,194.70 519.80,199.70 519.20,209.60 508.60,213.30 499.90,208.40" fill="#fbeeee" stroke="#231f20" stroke-width="1.45" stroke-linejoin="round"/>
<polygon points="519.80,199.70 529.70,196.00 537.80,202.20 537.10,212.10 527.20,216.50 519.20,210.90" fill="#cb5d72" stroke="#231f20" stroke-width="1.45" stroke-linejoin="round"/>
<polygon points="545.20,200.90 553.90,197.20 563.20,200.90 564.40,210.90 555.10,217.10 545.80,213.30" fill="#e7b7b9" stroke="#231f20" stroke-width="1.45" stroke-linejoin="round"/>
<polygon points="622.10,162.15 631.58,167.62 631.58,178.57 622.10,184.05 612.62,178.57 612.62,167.62" fill="#e0a5a9" stroke="#231f20" stroke-width="1.45" stroke-linejoin="round"/>
<polygon points="641.00,162.15 650.48,167.62 650.48,178.57 641.00,184.05 631.52,178.57 631.52,167.62" fill="#ca5a70" stroke="#231f20" stroke-width="1.45" stroke-linejoin="round"/>
<polygon points="660.00,162.15 669.48,167.62 669.48,178.57 660.00,184.05 650.52,178.57 650.52,167.62" fill="#faefd0" stroke="#231f20" stroke-width="1.45" stroke-linejoin="round"/>
<polygon points="612.60,178.55 622.08,184.03 622.08,194.97 612.60,200.45 603.12,194.97 603.12,184.03" fill="#cc5e73" stroke="#231f20" stroke-width="1.45" stroke-linejoin="round"/>
<polygon points="631.50,178.55 640.98,184.03 640.98,194.97 631.50,200.45 622.02,194.97 622.02,184.03" fill="#ead070" stroke="#231f20" stroke-width="1.45" stroke-linejoin="round"/>
<polygon points="650.50,178.55 659.98,184.03 659.98,194.97 650.50,200.45 641.02,194.97 641.02,184.03" fill="#faefd0" stroke="#231f20" stroke-width="1.45" stroke-linejoin="round"/>
<polygon points="669.40,178.55 678.88,184.03 678.88,194.97 669.40,200.45 659.92,194.97 659.92,184.03" fill="#cb5c71" stroke="#231f20" stroke-width="1.45" stroke-linejoin="round"/>
<polygon points="622.10,194.95 631.58,200.43 631.58,211.38 622.10,216.85 612.62,211.38 612.62,200.43" fill="#dc9ba0" stroke="#231f20" stroke-width="1.45" stroke-linejoin="round"/>
<polygon points="641.00,194.95 650.48,200.43 650.48,211.38 641.00,216.85 631.52,211.38 631.52,200.43" fill="#cd6578" stroke="#231f20" stroke-width="1.45" stroke-linejoin="round"/>
<polygon points="510.40,242.70 519.88,248.18 519.88,259.12 510.40,264.60 500.92,259.12 500.92,248.18" fill="#fbf3da" stroke="#231f20" stroke-width="1.45" stroke-linejoin="round"/>
<polygon points="500.80,259.35 510.28,264.82 510.28,275.78 500.80,281.25 491.32,275.78 491.32,264.82" fill="#cb5e72" stroke="#231f20" stroke-width="1.45" stroke-linejoin="round"/>
<polygon points="520.00,259.35 529.48,264.82 529.48,275.78 520.00,281.25 510.52,275.78 510.52,264.82" fill="#e9d06f" stroke="#231f20" stroke-width="1.45" stroke-linejoin="round"/>
<polygon points="510.40,276.00 519.88,281.47 519.88,292.43 510.40,297.90 500.92,292.43 500.92,281.47" fill="#faecec" stroke="#231f20" stroke-width="1.45" stroke-linejoin="round"/>
<polygon points="520.00,259.20 520.00,248.10 527.80,242.40 535.80,245.50 536.90,257.60 529.60,264.75" fill="#cf707f" stroke="#231f20" stroke-width="1.45" stroke-linejoin="round"/>
<polygon points="535.80,245.50 543.30,238.10 554.50,241.20 557.00,251.10 550.20,258.60 536.90,257.60" fill="#f3d8d8" stroke="#231f20" stroke-width="1.45" stroke-linejoin="round"/>
<polygon points="550.20,258.60 557.00,251.10 568.20,252.40 571.90,261.70 566.90,269.90 554.50,269.50" fill="#e7b7b9" stroke="#231f20" stroke-width="1.45" stroke-linejoin="round"/>
<polygon points="554.50,269.50 566.90,269.90 571.30,279.00 566.90,289.60 555.80,288.30 550.20,280.90" fill="#e4afb2" stroke="#231f20" stroke-width="1.45" stroke-linejoin="round"/>
<polygon points="520.00,281.40 529.60,275.85 537.80,283.40 537.10,293.30 527.20,297.50 519.50,292.50" fill="#d3838c" stroke="#231f20" stroke-width="1.45" stroke-linejoin="round"/>
<polygon points="529.60,264.75 536.90,257.60 550.20,258.60 554.50,269.50 550.20,280.90 537.80,283.40 529.60,275.85" fill="#e8ce68" stroke="#231f20" stroke-width="1.45" stroke-linejoin="round"/>
<polygon points="617.30,232.25 626.78,237.72 626.78,248.67 617.30,254.15 607.82,248.67 607.82,237.72" fill="#db989e" stroke="#231f20" stroke-width="1.45" stroke-linejoin="round"/>
<polygon points="636.20,232.25 645.68,237.72 645.68,248.67 636.20,254.15 626.72,248.67 626.72,237.72" fill="#cb5c72" stroke="#231f20" stroke-width="1.45" stroke-linejoin="round"/>
<polygon points="655.10,232.25 664.58,237.72 664.58,248.67 655.10,254.15 645.62,248.67 645.62,237.72" fill="#f2e0a0" stroke="#231f20" stroke-width="1.45" stroke-linejoin="round"/>
<polygon points="607.80,248.65 617.28,254.13 617.28,265.08 607.80,270.55 598.32,265.08 598.32,254.13" fill="#cd6376" stroke="#231f20" stroke-width="1.45" stroke-linejoin="round"/>
<polygon points="626.70,248.65 636.18,254.13 636.18,265.08 626.70,270.55 617.22,265.08 617.22,254.13" fill="#ead06f" stroke="#231f20" stroke-width="1.45" stroke-linejoin="round"/>
<polygon points="645.60,248.65 655.08,254.13 655.08,265.08 645.60,270.55 636.12,265.08 636.12,254.13" fill="#fefcf6" stroke="#231f20" stroke-width="1.45" stroke-linejoin="round"/>
<polygon points="664.50,248.65 673.98,254.13 673.98,265.08 664.50,270.55 655.02,265.08 655.02,254.13" fill="#d27b87" stroke="#231f20" stroke-width="1.45" stroke-linejoin="round"/>
<polygon points="617.30,265.05 626.78,270.52 626.78,281.48 617.30,286.95 607.82,281.48 607.82,270.52" fill="#d99399" stroke="#231f20" stroke-width="1.45" stroke-linejoin="round"/>
<polygon points="636.20,265.05 645.68,270.52 645.68,281.48 636.20,286.95 626.72,281.48 626.72,270.52" fill="#d3818a" stroke="#231f20" stroke-width="1.45" stroke-linejoin="round"/>
<polygon points="674.00,265.05 683.48,270.52 683.48,281.48 674.00,286.95 664.52,281.48 664.52,270.52" fill="#f3d8d8" stroke="#231f20" stroke-width="1.45" stroke-linejoin="round"/>
<polygon points="664.50,281.45 673.98,286.92 673.98,297.88 664.50,303.35 655.02,297.88 655.02,286.92" fill="#d89097" stroke="#231f20" stroke-width="1.45" stroke-linejoin="round"/>
<polygon points="539,201.6 542.7,201.6 544.6,213.3 540.2,217.1 538.4,214.6" fill="#cc6074" stroke="#231f20" stroke-width="1.0"/>
<polygon points="527.2,216.5 533.4,215.8 538.4,217.7 539,220.8 531,219" fill="#cc6074" stroke="#231f20" stroke-width="0.9"/>
<line x1="539.6" y1="218.6" x2="541.8" y2="222" stroke="#231f20" stroke-width="0.6"/>
<text x="509.50" y="36.10" font-size="7.20" font-weight="bold" fill="#231f20" text-anchor="middle"  letter-spacing="-0.15" stroke="#231f20" stroke-width="0.12">-4.5</text>
<text x="528.80" y="36.10" font-size="7.20" font-weight="bold" fill="#231f20" text-anchor="middle"  letter-spacing="-0.15" stroke="#231f20" stroke-width="0.12">-10.0</text>
<text x="499.90" y="52.80" font-size="7.20" font-weight="bold" fill="#231f20" text-anchor="middle"  letter-spacing="-0.15" stroke="#231f20" stroke-width="0.12">-11.0</text>
<text x="519.20" y="52.80" font-size="7.20" font-weight="bold" fill="#231f20" text-anchor="middle"  letter-spacing="-0.15" stroke="#231f20" stroke-width="0.12">2.7</text>
<text x="509.50" y="69.40" font-size="7.20" font-weight="bold" fill="#231f20" text-anchor="middle"  letter-spacing="-0.15" stroke="#231f20" stroke-width="0.12">-4.5</text>
<text x="528.80" y="69.40" font-size="7.20" font-weight="bold" fill="#231f20" text-anchor="middle"  letter-spacing="-0.15" stroke="#231f20" stroke-width="0.12">-10.0</text>
<text x="575.60" y="36.10" font-size="7.20" font-weight="bold" fill="#231f20" text-anchor="middle"  letter-spacing="-0.15" stroke="#231f20" stroke-width="0.12">-6.2</text>
<text x="594.80" y="36.10" font-size="7.20" font-weight="bold" fill="#231f20" text-anchor="middle"  letter-spacing="-0.15" stroke="#231f20" stroke-width="0.12">-8.6</text>
<text x="566.00" y="52.80" font-size="7.20" font-weight="bold" fill="#231f20" text-anchor="middle"  letter-spacing="-0.15" stroke="#231f20" stroke-width="0.12">-6.3</text>
<text x="575.60" y="69.40" font-size="7.20" font-weight="bold" fill="#231f20" text-anchor="middle"  letter-spacing="-0.15" stroke="#231f20" stroke-width="0.12">-6.2</text>
<text x="594.80" y="69.40" font-size="7.20" font-weight="bold" fill="#231f20" text-anchor="middle"  letter-spacing="-0.15" stroke="#231f20" stroke-width="0.12">-8.6</text>
<text x="644.65" y="35.65" font-size="7.20" font-weight="bold" fill="#231f20" text-anchor="middle"  letter-spacing="-0.15" stroke="#231f20" stroke-width="0.12">-6.1</text>
<text x="663.83" y="35.85" font-size="7.20" font-weight="bold" fill="#231f20" text-anchor="middle"  letter-spacing="-0.15" stroke="#231f20" stroke-width="0.12">-6.1</text>
<text x="634.10" y="51.63" font-size="7.20" font-weight="bold" fill="#231f20" text-anchor="middle"  letter-spacing="-0.15" stroke="#231f20" stroke-width="0.12">-5.8</text>
<text x="674.53" y="51.78" font-size="7.20" font-weight="bold" fill="#231f20" text-anchor="middle"  letter-spacing="-0.15" stroke="#231f20" stroke-width="0.12">-5.8</text>
<text x="641.35" y="69.73" font-size="7.20" font-weight="bold" fill="#231f20" text-anchor="middle"  letter-spacing="-0.15" stroke="#231f20" stroke-width="0.12">-9.4</text>
<text x="667.22" y="69.57" font-size="7.20" font-weight="bold" fill="#231f20" text-anchor="middle"  letter-spacing="-0.15" stroke="#231f20" stroke-width="0.12">-9.4</text>
<text x="512.60" y="105.80" font-size="7.20" font-weight="bold" fill="#231f20" text-anchor="middle"  letter-spacing="-0.15" stroke="#231f20" stroke-width="0.12">-2.9</text>
<text x="531.50" y="105.80" font-size="7.20" font-weight="bold" fill="#231f20" text-anchor="middle"  letter-spacing="-0.15" stroke="#231f20" stroke-width="0.12">-8.7</text>
<text x="550.40" y="105.80" font-size="7.20" font-weight="bold" fill="#231f20" text-anchor="middle"  letter-spacing="-0.15" stroke="#231f20" stroke-width="0.12">-4.7</text>
<text x="503.10" y="122.20" font-size="7.20" font-weight="bold" fill="#231f20" text-anchor="middle"  letter-spacing="-0.15" stroke="#231f20" stroke-width="0.12">-10.8</text>
<text x="522.00" y="122.20" font-size="7.20" font-weight="bold" fill="#231f20" text-anchor="middle"  letter-spacing="-0.15" stroke="#231f20" stroke-width="0.12">2.2</text>
<text x="560.90" y="122.20" font-size="7.20" font-weight="bold" fill="#231f20" text-anchor="middle"  letter-spacing="-0.15" stroke="#231f20" stroke-width="0.12">-8.0</text>
<text x="512.60" y="138.60" font-size="7.20" font-weight="bold" fill="#231f20" text-anchor="middle"  letter-spacing="-0.15" stroke="#231f20" stroke-width="0.12">-3.7</text>
<text x="531.50" y="138.60" font-size="7.20" font-weight="bold" fill="#231f20" text-anchor="middle"  letter-spacing="-0.15" stroke="#231f20" stroke-width="0.12">-9.6</text>
<text x="622.30" y="105.08" font-size="7.20" font-weight="bold" fill="#231f20" text-anchor="middle"  letter-spacing="-0.15" stroke="#231f20" stroke-width="0.12">-2.8</text>
<text x="640.40" y="105.55" font-size="7.20" font-weight="bold" fill="#231f20" text-anchor="middle"  letter-spacing="-0.15" stroke="#231f20" stroke-width="0.12">-8.6</text>
<text x="659.50" y="106.12" font-size="7.20" font-weight="bold" fill="#231f20" text-anchor="middle"  letter-spacing="-0.15" stroke="#231f20" stroke-width="0.12">-4.9</text>
<text x="612.28" y="119.45" font-size="7.20" font-weight="bold" fill="#231f20" text-anchor="middle"  letter-spacing="-0.15" stroke="#231f20" stroke-width="0.12">-10.6</text>
<text x="630.27" y="121.42" font-size="7.20" font-weight="bold" fill="#231f20" text-anchor="middle"  letter-spacing="-0.15" stroke="#231f20" stroke-width="0.12">2.3</text>
<text x="670.15" y="121.93" font-size="7.20" font-weight="bold" fill="#231f20" text-anchor="middle"  letter-spacing="-0.15" stroke="#231f20" stroke-width="0.12">-5.7</text>
<text x="619.10" y="137.03" font-size="7.20" font-weight="bold" fill="#231f20" text-anchor="middle"  letter-spacing="-0.15" stroke="#231f20" stroke-width="0.12">-4.1</text>
<text x="637.80" y="139.30" font-size="7.20" font-weight="bold" fill="#231f20" text-anchor="middle"  letter-spacing="-0.15" stroke="#231f20" stroke-width="0.12">-10.4</text>
<text x="663.25" y="139.62" font-size="7.20" font-weight="bold" fill="#231f20" text-anchor="middle"  letter-spacing="-0.15" stroke="#231f20" stroke-width="0.12">-9.4</text>
<text x="513.50" y="174.43" font-size="7.20" font-weight="bold" fill="#231f20" text-anchor="middle"  letter-spacing="-0.15" stroke="#231f20" stroke-width="0.12">-2.5</text>
<text x="531.67" y="174.72" font-size="7.20" font-weight="bold" fill="#231f20" text-anchor="middle"  letter-spacing="-0.15" stroke="#231f20" stroke-width="0.12">-7.9</text>
<text x="550.30" y="174.80" font-size="7.20" font-weight="bold" fill="#231f20" text-anchor="middle"  letter-spacing="-0.15" stroke="#231f20" stroke-width="0.12">-4.4</text>
<text x="502.80" y="189.37" font-size="7.20" font-weight="bold" fill="#231f20" text-anchor="middle"  letter-spacing="-0.15" stroke="#231f20" stroke-width="0.12">-10.7</text>
<text x="521.00" y="191.13" font-size="7.20" font-weight="bold" fill="#231f20" text-anchor="middle"  letter-spacing="-0.15" stroke="#231f20" stroke-width="0.12">1.5</text>
<text x="561.45" y="190.72" font-size="7.20" font-weight="bold" fill="#231f20" text-anchor="middle"  letter-spacing="-0.15" stroke="#231f20" stroke-width="0.12">-4.8</text>
<text x="509.97" y="206.42" font-size="7.20" font-weight="bold" fill="#231f20" text-anchor="middle"  letter-spacing="-0.15" stroke="#231f20" stroke-width="0.12">-4.5</text>
<text x="528.47" y="208.83" font-size="7.20" font-weight="bold" fill="#231f20" text-anchor="middle"  letter-spacing="-0.15" stroke="#231f20" stroke-width="0.12">-11.1</text>
<text x="554.60" y="209.32" font-size="7.20" font-weight="bold" fill="#231f20" text-anchor="middle"  letter-spacing="-0.15" stroke="#231f20" stroke-width="0.12">-6.7</text>
<text x="622.10" y="175.70" font-size="7.20" font-weight="bold" fill="#231f20" text-anchor="middle"  letter-spacing="-0.15" stroke="#231f20" stroke-width="0.12">-7.4</text>
<text x="641.00" y="175.70" font-size="7.20" font-weight="bold" fill="#231f20" text-anchor="middle"  letter-spacing="-0.15" stroke="#231f20" stroke-width="0.12">-12.4</text>
<text x="660.00" y="175.70" font-size="7.20" font-weight="bold" fill="#231f20" text-anchor="middle"  letter-spacing="-0.15" stroke="#231f20" stroke-width="0.12">-2.3</text>
<text x="612.60" y="192.10" font-size="7.20" font-weight="bold" fill="#231f20" text-anchor="middle"  letter-spacing="-0.15" stroke="#231f20" stroke-width="0.12">-10.6</text>
<text x="631.50" y="192.10" font-size="7.20" font-weight="bold" fill="#231f20" text-anchor="middle"  letter-spacing="-0.15" stroke="#231f20" stroke-width="0.12">1.3</text>
<text x="650.50" y="192.10" font-size="7.20" font-weight="bold" fill="#231f20" text-anchor="middle"  letter-spacing="-0.15" stroke="#231f20" stroke-width="0.12">-2.3</text>
<text x="669.40" y="192.10" font-size="7.20" font-weight="bold" fill="#231f20" text-anchor="middle"  letter-spacing="-0.15" stroke="#231f20" stroke-width="0.12">-11.6</text>
<text x="622.10" y="208.50" font-size="7.20" font-weight="bold" fill="#231f20" text-anchor="middle"  letter-spacing="-0.15" stroke="#231f20" stroke-width="0.12">-7.8</text>
<text x="641.00" y="208.50" font-size="7.20" font-weight="bold" fill="#231f20" text-anchor="middle"  letter-spacing="-0.15" stroke="#231f20" stroke-width="0.12">-9.8</text>
<text x="510.40" y="256.25" font-size="7.20" font-weight="bold" fill="#231f20" text-anchor="middle"  letter-spacing="-0.15" stroke="#231f20" stroke-width="0.12">-2.8</text>
<text x="500.80" y="272.90" font-size="7.20" font-weight="bold" fill="#231f20" text-anchor="middle"  letter-spacing="-0.15" stroke="#231f20" stroke-width="0.12">-10.9</text>
<text x="520.00" y="272.90" font-size="7.20" font-weight="bold" fill="#231f20" text-anchor="middle"  letter-spacing="-0.15" stroke="#231f20" stroke-width="0.12">1.8</text>
<text x="510.40" y="289.55" font-size="7.20" font-weight="bold" fill="#231f20" text-anchor="middle"  letter-spacing="-0.15" stroke="#231f20" stroke-width="0.12">-4.6</text>
<text x="528.35" y="255.52" font-size="7.20" font-weight="bold" fill="#231f20" text-anchor="middle"  letter-spacing="-0.15" stroke="#231f20" stroke-width="0.12">-9.4</text>
<text x="546.28" y="251.28" font-size="7.20" font-weight="bold" fill="#231f20" text-anchor="middle"  letter-spacing="-0.15" stroke="#231f20" stroke-width="0.12">-5.4</text>
<text x="561.45" y="263.13" font-size="7.20" font-weight="bold" fill="#231f20" text-anchor="middle"  letter-spacing="-0.15" stroke="#231f20" stroke-width="0.12">-6.7</text>
<text x="560.93" y="282.13" font-size="7.20" font-weight="bold" fill="#231f20" text-anchor="middle"  letter-spacing="-0.15" stroke="#231f20" stroke-width="0.12">-7.0</text>
<text x="528.53" y="289.93" font-size="7.20" font-weight="bold" fill="#231f20" text-anchor="middle"  letter-spacing="-0.15" stroke="#231f20" stroke-width="0.12">-8.7</text>
<text x="541.26" y="272.69" font-size="7.20" font-weight="bold" fill="#231f20" text-anchor="middle"  letter-spacing="-0.15" stroke="#231f20" stroke-width="0.12">12.2</text>
<text x="617.30" y="245.80" font-size="7.20" font-weight="bold" fill="#231f20" text-anchor="middle"  letter-spacing="-0.15" stroke="#231f20" stroke-width="0.12">-7.9</text>
<text x="636.20" y="245.80" font-size="7.20" font-weight="bold" fill="#231f20" text-anchor="middle"  letter-spacing="-0.15" stroke="#231f20" stroke-width="0.12">-11.4</text>
<text x="655.10" y="245.80" font-size="7.20" font-weight="bold" fill="#231f20" text-anchor="middle"  letter-spacing="-0.15" stroke="#231f20" stroke-width="0.12">-0.4</text>
<text x="607.80" y="262.20" font-size="7.20" font-weight="bold" fill="#231f20" text-anchor="middle"  letter-spacing="-0.15" stroke="#231f20" stroke-width="0.12">-9.9</text>
<text x="626.70" y="262.20" font-size="7.20" font-weight="bold" fill="#231f20" text-anchor="middle"  letter-spacing="-0.15" stroke="#231f20" stroke-width="0.12">1.5</text>
<text x="645.60" y="262.20" font-size="7.20" font-weight="bold" fill="#231f20" text-anchor="middle"  letter-spacing="-0.15" stroke="#231f20" stroke-width="0.12">-3.5</text>
<text x="664.50" y="262.20" font-size="7.20" font-weight="bold" fill="#231f20" text-anchor="middle"  letter-spacing="-0.15" stroke="#231f20" stroke-width="0.12">-9.0</text>
<text x="617.30" y="278.60" font-size="7.20" font-weight="bold" fill="#231f20" text-anchor="middle"  letter-spacing="-0.15" stroke="#231f20" stroke-width="0.12">-8.1</text>
<text x="636.20" y="278.60" font-size="7.20" font-weight="bold" fill="#231f20" text-anchor="middle"  letter-spacing="-0.15" stroke="#231f20" stroke-width="0.12">-8.8</text>
<text x="674.00" y="278.60" font-size="7.20" font-weight="bold" fill="#231f20" text-anchor="middle"  letter-spacing="-0.15" stroke="#231f20" stroke-width="0.12">-5.4</text>
<text x="664.50" y="295.00" font-size="7.20" font-weight="bold" fill="#231f20" text-anchor="middle"  letter-spacing="-0.15" stroke="#231f20" stroke-width="0.12">-8.2</text>
<text x="546.80" y="228.30" font-size="7.00" font-weight="bold" fill="#231f20" text-anchor="middle"  letter-spacing="-0.2" stroke="#231f20" stroke-width="0.12">-10.2</text>
<text x="580.00" y="13.60" font-size="12.20" font-weight="bold" fill="#231f20" text-anchor="middle"   stroke="#231f20" stroke-width="0.22">NICS(0)</text>
<line x1="47.3" y1="407.3" x2="283.0" y2="407.3" stroke="#cfcfcf" stroke-width="0.8"/>
<line x1="98.3" y1="407.3" x2="98.3" y2="389.8" stroke="#f0a0a0" stroke-width="0.6"/>
<line x1="110.0" y1="407.3" x2="110.0" y2="416.6" stroke="#c890b0" stroke-width="0.6"/>
<line x1="115.3" y1="407.3" x2="115.3" y2="441.5" stroke="#f0a0a0" stroke-width="0.6"/>
<line x1="118.6" y1="407.3" x2="118.6" y2="442.8" stroke="#c890b0" stroke-width="0.6"/>
<line x1="134.3" y1="407.3" x2="134.3" y2="346.0" stroke="#f0a0a0" stroke-width="0.6"/>
<line x1="200.0" y1="407.3" x2="200.0" y2="379.0" stroke="#f0a0a0" stroke-width="0.6"/>
<line x1="215.6" y1="407.3" x2="215.6" y2="352.3" stroke="#c890b0" stroke-width="0.6"/>
<line x1="105.5" y1="407.3" x2="105.5" y2="413.0" stroke="#f0b0b0" stroke-width="0.6"/>
<line x1="71.3" y1="586.1" x2="71.3" y2="562.9" stroke="#b4b4b4" stroke-width="0.6"/>
<line x1="74.8" y1="586.1" x2="74.8" y2="537.5" stroke="#b4b4b4" stroke-width="0.6"/>
<line x1="80.9" y1="586.1" x2="80.9" y2="580.0" stroke="#f0c0c0" stroke-width="0.6"/>
<line x1="86.2" y1="586.1" x2="86.2" y2="571.7" stroke="#f6c49c" stroke-width="0.6"/>
<line x1="88.8" y1="586.1" x2="88.8" y2="534.9" stroke="#b4b4b4" stroke-width="0.6"/>
<line x1="91.4" y1="586.1" x2="91.4" y2="554.2" stroke="#f6c49c" stroke-width="0.6"/>
<line x1="95.8" y1="586.1" x2="95.8" y2="563.8" stroke="#f6c49c" stroke-width="0.6"/>
<line x1="98.4" y1="586.1" x2="98.4" y2="580.4" stroke="#f09a9a" stroke-width="0.6"/>
<line x1="100.7" y1="586.1" x2="100.7" y2="544.5" stroke="#f09a9a" stroke-width="0.6"/>
<line x1="104.5" y1="586.1" x2="104.5" y2="530.5" stroke="#f6c49c" stroke-width="0.6"/>
<line x1="106.3" y1="586.1" x2="106.3" y2="567.3" stroke="#f09a9a" stroke-width="0.6"/>
<line x1="110.7" y1="586.1" x2="110.7" y2="548.0" stroke="#c88cb4" stroke-width="0.6"/>
<line x1="115.0" y1="586.1" x2="115.0" y2="539.3" stroke="#f09a9a" stroke-width="0.6"/>
<line x1="118.2" y1="586.1" x2="118.2" y2="548.0" stroke="#f6c49c" stroke-width="0.6"/>
<line x1="122.1" y1="586.1" x2="122.1" y2="577.8" stroke="#f09a9a" stroke-width="0.6"/>
<line x1="127.7" y1="586.1" x2="127.7" y2="565.5" stroke="#f09a9a" stroke-width="0.6"/>
<line x1="134.3" y1="586.1" x2="134.3" y2="546.3" stroke="#f09a9a" stroke-width="0.6"/>
<line x1="136.1" y1="586.1" x2="136.1" y2="574.3" stroke="#f6c49c" stroke-width="0.6"/>
<line x1="142.2" y1="586.1" x2="142.2" y2="527.0" stroke="#b4b4b4" stroke-width="0.6"/>
<line x1="143.1" y1="586.1" x2="143.1" y2="572.5" stroke="#c88cb4" stroke-width="0.6"/>
<line x1="58.0" y1="586.1" x2="58.0" y2="582.0" stroke="#e0d0d0" stroke-width="0.6"/>
<line x1="62.0" y1="586.1" x2="62.0" y2="580.0" stroke="#e0d0d0" stroke-width="0.6"/>
<line x1="65.0" y1="586.1" x2="65.0" y2="581.0" stroke="#f0d0c0" stroke-width="0.6"/>
<line x1="113.0" y1="586.1" x2="113.0" y2="562.0" stroke="#f6c49c" stroke-width="0.6"/>
<line x1="93.5" y1="586.1" x2="93.5" y2="575.0" stroke="#f09a9a" stroke-width="0.6"/>
<line x1="190.8" y1="586.1" x2="190.8" y2="543.8" stroke="#f8d0b0" stroke-width="0.6"/>
<line x1="200.8" y1="586.1" x2="200.8" y2="553.3" stroke="#f0a8a8" stroke-width="0.6"/>
<line x1="215.4" y1="586.1" x2="215.4" y2="563.5" stroke="#c890b8" stroke-width="0.6"/>
<line x1="160.0" y1="586.1" x2="160.0" y2="578.0" stroke="#e8c8d0" stroke-width="0.6"/>
<path d="M47.50 420.60 C47.82 419.20 48.72 415.80 49.40 412.20 C50.08 408.60 50.87 402.43 51.60 399.00 C52.33 395.57 53.07 392.83 53.80 391.60 C54.53 390.37 55.13 390.98 56.00 391.60 C56.87 392.22 57.90 394.55 59.00 395.30 C60.10 396.05 61.38 396.47 62.60 396.10 C63.82 395.73 65.18 394.58 66.30 393.10 C67.42 391.62 68.32 389.15 69.30 387.20 C70.28 385.25 71.23 382.98 72.20 381.40 C73.17 379.82 74.12 379.17 75.10 377.70 C76.08 376.23 77.23 374.68 78.10 372.60 C78.97 370.52 79.68 365.95 80.30 365.20 C80.92 364.45 81.18 365.65 81.80 368.10 C82.42 370.55 83.27 376.47 84.00 379.90 C84.73 383.33 85.35 385.52 86.20 388.70 C87.05 391.88 88.12 396.18 89.10 399.00 C90.08 401.82 91.12 403.88 92.10 405.60 C93.08 407.32 93.87 408.50 95.00 409.30 C96.13 410.10 97.70 409.78 98.90 410.40 C100.10 411.02 101.32 413.00 102.20 413.00 C103.08 413.00 103.43 412.03 104.20 410.40 C104.97 408.77 105.93 405.50 106.80 403.20 C107.67 400.90 108.53 398.78 109.40 396.60 C110.27 394.42 111.13 392.38 112.00 390.10 C112.87 387.82 113.83 383.77 114.60 382.90 C115.37 382.03 115.93 382.83 116.60 384.90 C117.27 386.97 117.95 390.95 118.60 395.30 C119.25 399.65 119.97 406.42 120.50 411.00 C121.03 415.58 121.03 419.85 121.80 422.80 C122.57 425.75 124.15 426.90 125.10 428.70 C126.05 430.50 126.77 430.95 127.50 433.60 C128.23 436.25 128.87 440.10 129.50 444.60 C130.13 449.10 130.70 456.58 131.30 460.60 C131.90 464.62 132.52 468.37 133.10 468.70 C133.68 469.03 134.25 467.03 134.80 462.60 C135.35 458.17 135.78 448.33 136.40 442.10 C137.02 435.87 137.62 429.62 138.50 425.20 C139.38 420.78 140.28 417.67 141.70 415.60 C143.12 413.53 145.05 413.33 147.00 412.80 C148.95 412.27 150.93 412.10 153.40 412.40 C155.87 412.70 158.62 413.53 161.80 414.60 C164.98 415.67 169.67 417.75 172.50 418.80 C175.33 419.85 176.68 420.97 178.80 420.90 C180.92 420.83 183.33 418.37 185.20 418.40 C187.07 418.43 188.40 420.40 190.00 421.10 C191.60 421.80 193.47 422.63 194.80 422.60 C196.13 422.57 196.60 422.60 198.00 420.90 C199.40 419.20 201.43 414.52 203.20 412.40 C204.97 410.28 206.63 409.05 208.60 408.20 C210.57 407.35 213.93 407.45 215.00 407.30" fill="none" stroke="#ee6e66" stroke-width="0.75" stroke-linejoin="round" stroke-linecap="round" />
<path d="M47.20 413.00 C47.68 413.48 49.00 415.00 50.10 415.90 C51.20 416.80 52.68 418.40 53.80 418.40 C54.92 418.40 55.82 416.80 56.80 415.90 C57.78 415.00 58.73 413.23 59.70 413.00 C60.67 412.77 61.73 412.67 62.60 414.50 C63.47 416.33 64.15 421.32 64.90 424.00 C65.65 426.68 66.37 429.98 67.10 430.60 C67.83 431.22 68.57 430.27 69.30 427.70 C70.03 425.13 70.65 419.00 71.50 415.20 C72.35 411.40 73.30 408.33 74.40 404.90 C75.50 401.47 76.87 398.03 78.10 394.60 C79.33 391.17 80.70 387.48 81.80 384.30 C82.90 381.12 83.73 378.68 84.70 375.50 C85.67 372.32 86.87 367.28 87.60 365.20 C88.33 363.12 88.48 362.52 89.10 363.00 C89.72 363.48 90.57 365.03 91.30 368.10 C92.03 371.17 92.63 377.47 93.50 381.40 C94.37 385.33 95.60 389.70 96.50 391.70 C97.40 393.70 97.83 393.12 98.90 393.40 C99.97 393.68 101.58 393.73 102.90 393.40 C104.22 393.07 105.60 392.38 106.80 391.40 C108.00 390.42 109.02 388.70 110.10 387.50 C111.18 386.30 112.33 384.63 113.30 384.20 C114.27 383.77 114.92 383.48 115.90 384.90 C116.88 386.32 118.10 390.08 119.20 392.70 C120.30 395.32 121.30 398.42 122.50 400.60 C123.70 402.78 125.10 404.07 126.40 405.80 C127.70 407.53 128.98 408.82 130.30 411.00 C131.62 413.18 132.98 416.82 134.30 418.90 C135.62 420.98 136.90 422.20 138.20 423.50 C139.50 424.80 140.88 425.35 142.10 426.70 C143.32 428.05 144.33 429.80 145.50 431.60 C146.67 433.40 148.10 437.00 149.10 437.50 C150.10 438.00 150.78 436.30 151.50 434.60 C152.22 432.90 152.57 429.63 153.40 427.30 C154.23 424.97 155.45 422.37 156.50 420.60 C157.55 418.83 158.10 417.53 159.70 416.70 C161.30 415.87 163.62 415.25 166.10 415.60 C168.58 415.95 171.77 417.57 174.60 418.80 C177.43 420.03 179.92 421.42 183.10 423.00 C186.28 424.58 190.52 427.58 193.70 428.30 C196.88 429.02 199.37 427.12 202.20 427.30 C205.03 427.48 208.23 429.75 210.70 429.40 C213.17 429.05 214.88 427.32 217.00 425.20 C219.12 423.08 221.27 419.37 223.40 416.70 C225.53 414.03 227.70 410.82 229.80 409.20 C231.90 407.58 234.30 407.37 236.00 407.00 C237.70 406.63 239.33 407.00 240.00 407.00" fill="none" stroke="#aa5488" stroke-width="0.75" stroke-linejoin="round" stroke-linecap="round" />
<path d="M47.20 401.60 C47.68 401.12 49.00 399.60 50.10 398.70 C51.20 397.80 52.68 396.20 53.80 396.20 C54.92 396.20 55.82 397.80 56.80 398.70 C57.78 399.60 58.73 401.37 59.70 401.60 C60.67 401.83 61.73 401.93 62.60 400.10 C63.47 398.27 64.15 393.28 64.90 390.60 C65.65 387.92 66.37 384.62 67.10 384.00 C67.83 383.38 68.57 384.33 69.30 386.90 C70.03 389.47 70.65 395.60 71.50 399.40 C72.35 403.20 73.30 406.27 74.40 409.70 C75.50 413.13 76.87 416.57 78.10 420.00 C79.33 423.43 80.70 427.12 81.80 430.30 C82.90 433.48 83.73 435.92 84.70 439.10 C85.67 442.28 86.87 447.32 87.60 449.40 C88.33 451.48 88.48 452.08 89.10 451.60 C89.72 451.12 90.57 449.57 91.30 446.50 C92.03 443.43 92.63 437.13 93.50 433.20 C94.37 429.27 95.60 424.90 96.50 422.90 C97.40 420.90 97.83 421.48 98.90 421.20 C99.97 420.92 101.58 420.87 102.90 421.20 C104.22 421.53 105.60 422.22 106.80 423.20 C108.00 424.18 109.02 425.90 110.10 427.10 C111.18 428.30 112.33 429.97 113.30 430.40 C114.27 430.83 114.92 431.12 115.90 429.70 C116.88 428.28 118.10 424.52 119.20 421.90 C120.30 419.28 121.30 416.18 122.50 414.00 C123.70 411.82 125.10 410.53 126.40 408.80 C127.70 407.07 128.98 405.78 130.30 403.60 C131.62 401.42 132.98 397.78 134.30 395.70 C135.62 393.62 136.90 392.40 138.20 391.10 C139.50 389.80 140.88 389.25 142.10 387.90 C143.32 386.55 144.33 384.80 145.50 383.00 C146.67 381.20 148.10 377.60 149.10 377.10 C150.10 376.60 150.78 378.30 151.50 380.00 C152.22 381.70 152.57 384.97 153.40 387.30 C154.23 389.63 155.45 392.23 156.50 394.00 C157.55 395.77 158.10 397.07 159.70 397.90 C161.30 398.73 163.62 399.35 166.10 399.00 C168.58 398.65 171.77 397.03 174.60 395.80 C177.43 394.57 179.92 393.18 183.10 391.60 C186.28 390.02 190.52 387.02 193.70 386.30 C196.88 385.58 199.37 387.48 202.20 387.30 C205.03 387.12 208.23 384.85 210.70 385.20 C213.17 385.55 214.88 387.28 217.00 389.40 C219.12 391.52 221.27 395.23 223.40 397.90 C225.53 400.57 227.70 403.78 229.80 405.40 C231.90 407.02 234.30 407.23 236.00 407.60 C237.70 407.97 239.33 407.60 240.00 407.60" fill="none" stroke="#8c1d5c" stroke-width="1.80" stroke-linejoin="round" stroke-linecap="round" />
<path d="M47.50 394.00 C47.82 395.40 48.72 398.80 49.40 402.40 C50.08 406.00 50.87 412.17 51.60 415.60 C52.33 419.03 53.07 421.77 53.80 423.00 C54.53 424.23 55.13 423.62 56.00 423.00 C56.87 422.38 57.90 420.05 59.00 419.30 C60.10 418.55 61.38 418.13 62.60 418.50 C63.82 418.87 65.18 420.02 66.30 421.50 C67.42 422.98 68.32 425.45 69.30 427.40 C70.28 429.35 71.23 431.62 72.20 433.20 C73.17 434.78 74.12 435.43 75.10 436.90 C76.08 438.37 77.23 439.92 78.10 442.00 C78.97 444.08 79.68 448.65 80.30 449.40 C80.92 450.15 81.18 448.95 81.80 446.50 C82.42 444.05 83.27 438.13 84.00 434.70 C84.73 431.27 85.35 429.08 86.20 425.90 C87.05 422.72 88.12 418.42 89.10 415.60 C90.08 412.78 91.12 410.72 92.10 409.00 C93.08 407.28 93.87 406.10 95.00 405.30 C96.13 404.50 97.70 404.82 98.90 404.20 C100.10 403.58 101.32 401.60 102.20 401.60 C103.08 401.60 103.43 402.57 104.20 404.20 C104.97 405.83 105.93 409.10 106.80 411.40 C107.67 413.70 108.53 415.82 109.40 418.00 C110.27 420.18 111.13 422.22 112.00 424.50 C112.87 426.78 113.83 430.83 114.60 431.70 C115.37 432.57 115.93 431.77 116.60 429.70 C117.27 427.63 117.95 423.65 118.60 419.30 C119.25 414.95 119.97 408.18 120.50 403.60 C121.03 399.02 121.03 394.75 121.80 391.80 C122.57 388.85 124.15 387.70 125.10 385.90 C126.05 384.10 126.77 383.65 127.50 381.00 C128.23 378.35 128.87 374.50 129.50 370.00 C130.13 365.50 130.70 358.02 131.30 354.00 C131.90 349.98 132.52 346.23 133.10 345.90 C133.68 345.57 134.25 347.57 134.80 352.00 C135.35 356.43 135.78 366.27 136.40 372.50 C137.02 378.73 137.62 384.98 138.50 389.40 C139.38 393.82 140.28 396.93 141.70 399.00 C143.12 401.07 145.05 401.27 147.00 401.80 C148.95 402.33 150.93 402.50 153.40 402.20 C155.87 401.90 158.62 401.07 161.80 400.00 C164.98 398.93 169.67 396.85 172.50 395.80 C175.33 394.75 176.68 393.63 178.80 393.70 C180.92 393.77 183.33 396.23 185.20 396.20 C187.07 396.17 188.40 394.20 190.00 393.50 C191.60 392.80 193.47 391.97 194.80 392.00 C196.13 392.03 196.60 392.00 198.00 393.70 C199.40 395.40 201.43 400.08 203.20 402.20 C204.97 404.32 206.63 405.55 208.60 406.40 C210.57 407.25 213.93 407.15 215.00 407.30" fill="none" stroke="#e8413c" stroke-width="1.80" stroke-linejoin="round" stroke-linecap="round" />
<path d="M215.00 407.21 L215.49 407.48 L216.02 407.22 L216.60 407.19 L217.22 406.97 L217.88 407.23 L218.59 407.69 L219.33 407.45 L220.11 407.66 L220.92 407.39 L221.76 407.44 L222.63 407.36 L223.53 406.72 L224.46 407.60 L225.41 407.48 L226.38 407.47 L227.37 406.71 L228.38 406.69 L229.40 406.99 L230.44 407.14 L231.49 407.41 L232.54 407.28 L233.61 407.48 L234.68 407.08 L235.75 407.41 L236.83 407.44 L237.90 407.07 L238.97 407.90 L240.04 407.49 L241.10 407.72 L242.15 407.08 L243.19 407.04 L244.22 407.18 L245.23 407.26 L246.23 407.52 L247.20 407.39 L248.16 407.14 L249.09 406.97 L250.00 407.12 L250.96 407.73 L251.93 407.02 L252.93 407.39 L253.94 407.45 L254.96 406.78 L256.00 407.32 L257.05 407.76 L258.10 406.59 L259.16 407.19 L260.23 407.26 L261.30 407.01 L262.37 407.47 L263.44 407.28 L264.50 406.79 L265.56 407.59 L266.61 407.53 L267.66 407.63 L268.69 407.80 L269.70 407.43 L270.71 407.34 L271.69 406.85 L272.66 407.52 L273.60 407.09 L274.52 407.14 L275.41 406.86 L276.28 406.96 L277.12 407.11 L277.92 407.75 L278.70 406.59 L279.43 406.79 L280.13 407.38 L280.79 407.81 L281.41 407.50 L281.99 406.64 L282.52 406.42 L283.00 407.43" fill="none" stroke="#e8413c" stroke-width="1.70" stroke-linejoin="round" stroke-linecap="round" />
<path d="M47.60 542.00 C47.97 544.02 48.83 550.80 49.80 554.10 C50.77 557.40 52.18 561.43 53.40 561.80 C54.62 562.17 55.75 558.68 57.10 556.30 C58.45 553.92 60.03 549.52 61.50 547.50 C62.97 545.48 64.43 545.48 65.90 544.20 C67.37 542.92 68.83 541.45 70.30 539.80 C71.77 538.15 73.23 535.77 74.70 534.30 C76.17 532.83 77.82 532.10 79.10 531.00 C80.38 529.90 81.48 533.58 82.40 527.70 C83.32 521.82 83.93 498.63 84.60 495.70 C85.27 492.77 85.65 506.05 86.40 510.10 C87.15 514.15 88.28 521.85 89.10 520.00 C89.92 518.15 90.65 507.63 91.30 499.00 C91.95 490.37 92.43 469.80 93.00 468.20 C93.57 466.60 94.25 478.02 94.70 489.40 C95.15 500.78 95.22 524.40 95.70 536.50 C96.18 548.60 96.62 555.80 97.60 562.00 C98.58 568.20 100.28 571.10 101.60 573.70 C102.92 576.30 104.20 577.43 105.50 577.60 C106.80 577.77 108.42 575.52 109.40 574.70 C110.38 573.88 110.58 572.37 111.40 572.70 C112.22 573.03 113.00 577.18 114.30 576.70 C115.60 576.22 117.87 571.62 119.20 569.80 C120.53 567.98 121.22 565.88 122.30 565.80 C123.38 565.72 124.75 569.30 125.70 569.30 C126.65 569.30 127.23 569.05 128.00 565.80 C128.77 562.55 129.43 553.90 130.30 549.80 C131.17 545.70 132.43 541.78 133.20 541.20 C133.97 540.62 134.23 543.33 134.90 546.30 C135.57 549.27 136.53 556.32 137.20 559.00 C137.87 561.68 138.33 562.78 138.90 562.40 C139.47 562.02 139.93 559.75 140.60 556.70 C141.27 553.65 141.95 547.83 142.90 544.10 C143.85 540.37 145.43 535.27 146.30 534.30 C147.17 533.33 147.52 534.95 148.10 538.30 C148.68 541.65 149.13 549.43 149.80 554.40 C150.47 559.37 151.15 563.72 152.10 568.10 C153.05 572.48 154.37 577.83 155.50 580.70 C156.63 583.57 157.32 584.40 158.90 585.30 C160.48 586.20 162.32 585.97 165.00 586.10 C167.68 586.23 173.33 586.10 175.00 586.10" fill="none" stroke="#3a3a3a" stroke-width="0.70" stroke-linejoin="round" stroke-linecap="round" stroke-dasharray="1.3 0.45"/>
<path d="M47.60 478.00 C47.88 481.17 48.70 490.50 49.30 497.00 C49.90 503.50 50.45 510.92 51.20 517.00 C51.95 523.08 52.90 529.70 53.80 533.50 C54.70 537.30 55.50 539.67 56.60 539.80 C57.70 539.93 59.22 538.52 60.40 534.30 C61.58 530.08 62.60 522.95 63.70 514.50 C64.80 506.05 66.08 491.68 67.00 483.60 C67.92 475.52 68.57 469.67 69.20 466.00 C69.83 462.33 70.25 460.87 70.80 461.60 C71.35 462.33 71.85 464.90 72.50 470.40 C73.15 475.90 73.97 487.25 74.70 494.60 C75.43 501.95 76.05 510.08 76.90 514.50 C77.75 518.92 78.88 521.10 79.80 521.10 C80.72 521.10 81.42 517.62 82.40 514.50 C83.38 511.38 84.58 505.53 85.70 502.40 C86.82 499.27 87.98 497.22 89.10 495.70 C90.22 494.18 91.13 494.02 92.40 493.30 C93.67 492.58 95.67 490.90 96.70 491.40 C97.73 491.90 97.95 494.02 98.60 496.30 C99.25 498.58 99.95 503.15 100.60 505.10 C101.25 507.05 101.85 507.67 102.50 508.00 C103.15 508.33 103.83 506.28 104.50 507.10 C105.17 507.92 105.85 510.30 106.50 512.90 C107.15 515.50 107.58 520.08 108.40 522.70 C109.22 525.32 110.42 528.27 111.40 528.60 C112.38 528.93 113.48 524.70 114.30 524.70 C115.12 524.70 115.65 526.63 116.30 528.60 C116.95 530.57 117.38 534.53 118.20 536.50 C119.02 538.47 120.38 541.72 121.20 540.40 C122.02 539.08 122.52 532.68 123.10 528.60 C123.68 524.52 124.20 517.53 124.70 515.90 C125.20 514.27 125.67 515.70 126.10 518.80 C126.53 521.90 126.82 528.62 127.30 534.50 C127.78 540.38 128.38 549.20 129.00 554.10 C129.62 559.00 130.02 559.88 131.00 563.90 C131.98 567.92 133.48 575.68 134.90 578.20 C136.32 580.72 137.98 578.97 139.50 579.00 C141.02 579.03 142.28 579.07 144.00 578.40 C145.72 577.73 147.88 576.23 149.80 575.00 C151.72 573.77 153.60 572.33 155.50 571.00 C157.40 569.67 159.43 568.52 161.20 567.00 C162.97 565.48 164.05 563.53 166.10 561.90 C168.15 560.27 171.20 557.55 173.50 557.20 C175.80 556.85 177.77 559.65 179.90 559.80 C182.03 559.95 184.35 558.45 186.30 558.10 C188.25 557.75 190.35 557.22 191.60 557.70 C192.85 558.18 193.10 559.58 193.80 561.00 C194.50 562.42 194.77 563.40 195.80 566.20 C196.83 569.00 198.40 574.98 200.00 577.80 C201.60 580.62 203.27 581.85 205.40 583.10 C207.53 584.35 210.37 584.82 212.80 585.30 C215.23 585.78 208.30 585.87 220.00 586.00 C231.70 586.13 272.50 586.08 283.00 586.10" fill="none" stroke="#ea8a2e" stroke-width="1.80" stroke-linejoin="round" stroke-linecap="round" />
<path d="M47.60 479.20 C48.08 482.88 49.28 494.68 50.50 501.30 C51.72 507.92 53.68 515.23 54.90 518.90 C56.12 522.57 56.70 523.67 57.80 523.30 C58.90 522.93 60.33 520.75 61.50 516.70 C62.67 512.65 63.70 503.60 64.80 499.00 C65.90 494.40 66.82 490.93 68.10 489.10 C69.38 487.27 71.22 487.82 72.50 488.00 C73.78 488.18 74.80 490.57 75.80 490.20 C76.80 489.83 77.68 485.98 78.50 485.80 C79.32 485.62 79.87 485.78 80.70 489.10 C81.53 492.42 82.47 500.00 83.50 505.70 C84.53 511.40 85.78 519.27 86.90 523.30 C88.02 527.33 88.90 530.00 90.20 529.90 C91.50 529.80 93.30 524.87 94.70 522.70 C96.10 520.53 97.30 517.38 98.60 516.90 C99.90 516.42 101.35 519.48 102.50 519.80 C103.65 520.12 104.35 519.95 105.50 518.80 C106.65 517.65 108.10 515.35 109.40 512.90 C110.70 510.45 112.15 506.05 113.30 504.10 C114.45 502.15 115.48 500.05 116.30 501.20 C117.12 502.35 117.38 505.78 118.20 511.00 C119.02 516.22 120.23 527.50 121.20 532.50 C122.17 537.50 123.05 538.12 124.00 541.00 C124.95 543.88 125.95 548.92 126.90 549.80 C127.85 550.68 128.85 547.83 129.70 546.30 C130.55 544.77 131.33 541.73 132.00 540.60 C132.67 539.47 133.12 539.12 133.70 539.50 C134.28 539.88 134.82 540.62 135.50 542.90 C136.18 545.18 136.95 549.38 137.80 553.20 C138.65 557.02 139.75 562.17 140.60 565.80 C141.45 569.43 141.95 573.00 142.90 575.00 C143.85 577.00 144.77 577.23 146.30 577.80 C147.83 578.37 150.18 578.68 152.10 578.40 C154.02 578.12 155.65 577.02 157.80 576.10 C159.95 575.18 162.97 574.08 165.00 572.90 C167.03 571.72 168.23 570.48 170.00 569.00 C171.77 567.52 173.77 565.00 175.60 564.00 C177.43 563.00 179.05 562.63 181.00 563.00 C182.95 563.37 185.18 566.38 187.30 566.20 C189.42 566.02 191.93 562.43 193.70 561.90 C195.47 561.37 196.77 561.98 197.90 563.00 C199.03 564.02 199.62 566.07 200.50 568.00 C201.38 569.93 201.85 572.27 203.20 574.60 C204.55 576.93 206.65 580.30 208.60 582.00 C210.55 583.70 212.43 584.17 214.90 584.80 C217.37 585.43 212.05 585.58 223.40 585.80 C234.75 586.02 273.07 586.05 283.00 586.10" fill="none" stroke="#e8413c" stroke-width="1.80" stroke-linejoin="round" stroke-linecap="round" />
<path d="M47.60 462.70 C48.08 466.18 49.47 477.55 50.50 483.60 C51.53 489.65 52.70 495.50 53.80 499.00 C54.90 502.50 56.00 504.60 57.10 504.60 C58.20 504.60 59.30 502.13 60.40 499.00 C61.50 495.87 62.60 488.92 63.70 485.80 C64.80 482.68 65.72 480.95 67.00 480.30 C68.28 479.65 70.12 480.25 71.40 481.90 C72.68 483.55 73.60 488.08 74.70 490.20 C75.80 492.32 76.90 494.78 78.00 494.60 C79.10 494.42 80.20 491.48 81.30 489.10 C82.40 486.72 83.57 482.50 84.60 480.30 C85.63 478.10 86.72 475.62 87.50 475.90 C88.28 476.18 88.63 476.82 89.30 482.00 C89.97 487.18 90.77 500.22 91.50 507.00 C92.23 513.78 92.83 519.10 93.70 522.70 C94.57 526.30 95.72 528.10 96.70 528.60 C97.68 529.10 98.63 527.33 99.60 525.70 C100.57 524.07 101.52 520.93 102.50 518.80 C103.48 516.67 104.52 515.52 105.50 512.90 C106.48 510.28 107.42 505.87 108.40 503.10 C109.38 500.33 110.58 497.12 111.40 496.30 C112.22 495.48 112.48 496.08 113.30 498.20 C114.12 500.32 115.32 504.92 116.30 509.00 C117.28 513.08 118.22 518.45 119.20 522.70 C120.18 526.95 121.05 530.57 122.20 534.50 C123.35 538.43 124.75 542.05 126.10 546.30 C127.45 550.55 129.12 557.42 130.30 560.00 C131.48 562.58 132.33 561.60 133.20 561.80 C134.07 562.00 134.65 560.82 135.50 561.20 C136.35 561.58 137.25 563.05 138.30 564.10 C139.35 565.15 140.85 567.22 141.80 567.50 C142.75 567.78 142.95 566.65 144.00 565.80 C145.05 564.95 147.03 562.68 148.10 562.40 C149.17 562.12 149.55 562.58 150.40 564.10 C151.25 565.62 152.15 569.22 153.20 571.50 C154.25 573.78 155.55 576.55 156.70 577.80 C157.85 579.05 158.55 579.13 160.10 579.00 C161.65 578.87 163.93 577.73 166.00 577.00 C168.07 576.27 169.65 575.52 172.50 574.60 C175.35 573.68 179.57 572.20 183.10 571.50 C186.63 570.80 190.52 570.40 193.70 570.40 C196.88 570.40 199.55 571.40 202.20 571.50 C204.85 571.60 207.48 570.48 209.60 571.00 C211.72 571.52 213.50 573.35 214.90 574.60 C216.30 575.85 216.93 577.27 218.00 578.50 C219.07 579.73 220.13 581.08 221.30 582.00 C222.47 582.92 223.58 583.45 225.00 584.00 C226.42 584.55 227.30 584.97 229.80 585.30 C232.30 585.63 231.13 585.87 240.00 586.00 C248.87 586.13 275.83 586.08 283.00 586.10" fill="none" stroke="#8c1d5c" stroke-width="1.80" stroke-linejoin="round" stroke-linecap="round" />
<rect x="47.3" y="333.4" width="235.7" height="252.7" fill="none" stroke="#3a3536" stroke-width="1.0"/>
<line x1="44.3" y1="332.75" x2="47.3" y2="332.75" stroke="#231f20" stroke-width="0.9"/>
<text x="42.10" y="334.75" font-size="7.30" font-weight="normal" fill="#231f20" text-anchor="end"  >300</text>
<line x1="44.3" y1="357.60" x2="47.3" y2="357.60" stroke="#231f20" stroke-width="0.9"/>
<text x="42.10" y="359.60" font-size="7.30" font-weight="normal" fill="#231f20" text-anchor="end"  >200</text>
<line x1="44.3" y1="382.45" x2="47.3" y2="382.45" stroke="#231f20" stroke-width="0.9"/>
<text x="42.10" y="384.45" font-size="7.30" font-weight="normal" fill="#231f20" text-anchor="end"  >100</text>
<line x1="44.3" y1="407.30" x2="47.3" y2="407.30" stroke="#231f20" stroke-width="0.9"/>
<text x="42.10" y="409.30" font-size="7.30" font-weight="normal" fill="#231f20" text-anchor="end"  >0</text>
<line x1="44.3" y1="432.15" x2="47.3" y2="432.15" stroke="#231f20" stroke-width="0.9"/>
<text x="42.10" y="434.15" font-size="7.30" font-weight="normal" fill="#231f20" text-anchor="end"  >-100</text>
<line x1="44.3" y1="457.00" x2="47.3" y2="457.00" stroke="#231f20" stroke-width="0.9"/>
<text x="42.10" y="459.00" font-size="7.30" font-weight="normal" fill="#231f20" text-anchor="end"  >-200</text>
<line x1="44.3" y1="586.10" x2="47.3" y2="586.10" stroke="#231f20" stroke-width="0.9"/>
<text x="42.10" y="588.10" font-size="7.30" font-weight="normal" fill="#231f20" text-anchor="end"  >0</text>
<line x1="44.3" y1="564.30" x2="47.3" y2="564.30" stroke="#231f20" stroke-width="0.9"/>
<text x="42.10" y="566.30" font-size="7.30" font-weight="normal" fill="#231f20" text-anchor="end"  >10000</text>
<line x1="44.3" y1="542.50" x2="47.3" y2="542.50" stroke="#231f20" stroke-width="0.9"/>
<text x="42.10" y="544.50" font-size="7.30" font-weight="normal" fill="#231f20" text-anchor="end"  >20000</text>
<line x1="44.3" y1="520.70" x2="47.3" y2="520.70" stroke="#231f20" stroke-width="0.9"/>
<text x="42.10" y="522.70" font-size="7.30" font-weight="normal" fill="#231f20" text-anchor="end"  >30000</text>
<line x1="44.3" y1="498.90" x2="47.3" y2="498.90" stroke="#231f20" stroke-width="0.9"/>
<text x="42.10" y="500.90" font-size="7.30" font-weight="normal" fill="#231f20" text-anchor="end"  >40000</text>
<line x1="44.3" y1="477.10" x2="47.3" y2="477.10" stroke="#231f20" stroke-width="0.9"/>
<text x="42.10" y="479.10" font-size="7.30" font-weight="normal" fill="#231f20" text-anchor="end"  >50000</text>
<line x1="47.30" y1="586.1" x2="47.30" y2="589.1" stroke="#231f20" stroke-width="0.9"/>
<text x="47.30" y="597.90" font-size="7.20" font-weight="normal" fill="#231f20" text-anchor="middle"  >230</text>
<line x1="91.91" y1="586.1" x2="91.91" y2="589.1" stroke="#231f20" stroke-width="0.9"/>
<text x="91.91" y="597.90" font-size="7.20" font-weight="normal" fill="#231f20" text-anchor="middle"  >300</text>
<line x1="123.78" y1="586.1" x2="123.78" y2="589.1" stroke="#231f20" stroke-width="0.9"/>
<text x="123.78" y="597.90" font-size="7.20" font-weight="normal" fill="#231f20" text-anchor="middle"  >350</text>
<line x1="155.64" y1="586.1" x2="155.64" y2="589.1" stroke="#231f20" stroke-width="0.9"/>
<text x="155.64" y="597.90" font-size="7.20" font-weight="normal" fill="#231f20" text-anchor="middle"  >400</text>
<line x1="187.51" y1="586.1" x2="187.51" y2="589.1" stroke="#231f20" stroke-width="0.9"/>
<text x="187.51" y="597.90" font-size="7.20" font-weight="normal" fill="#231f20" text-anchor="middle"  >450</text>
<line x1="219.37" y1="586.1" x2="219.37" y2="589.1" stroke="#231f20" stroke-width="0.9"/>
<text x="219.37" y="597.90" font-size="7.20" font-weight="normal" fill="#231f20" text-anchor="middle"  >500</text>
<line x1="251.24" y1="586.1" x2="251.24" y2="589.1" stroke="#231f20" stroke-width="0.9"/>
<text x="251.24" y="597.90" font-size="7.20" font-weight="normal" fill="#231f20" text-anchor="middle"  >550</text>
<line x1="283.10" y1="586.1" x2="283.10" y2="589.1" stroke="#231f20" stroke-width="0.9"/>
<text x="283.10" y="597.90" font-size="7.20" font-weight="normal" fill="#231f20" text-anchor="middle"  >600</text>
<text x="165" y="608.5" font-size="7.2" fill="#231f20" text-anchor="middle"><tspan font-style="italic">λ</tspan> (nm)</text>
<text transform="translate(15.3,401) rotate(-90)" font-size="6.4" fill="#231f20" text-anchor="middle"><tspan font-style="italic">Δε</tspan> (L·mol<tspan dy="-2" font-size="4.5">−1</tspan><tspan dy="2">·cm</tspan><tspan dy="-2" font-size="4.5">−1</tspan><tspan dy="2">)</tspan></text>
<text transform="translate(15.3,530) rotate(-90)" font-size="6.4" fill="#231f20" text-anchor="middle"><tspan font-style="italic">ε</tspan> (L·mol<tspan dy="-2" font-size="4.5">−1</tspan><tspan dy="2">·cm</tspan><tspan dy="-2" font-size="4.5">−1</tspan><tspan dy="2">)</tspan></text>
<text x="146.6" y="361.6" font-size="9.5" font-weight="bold" fill="#e8413c" stroke="#e8413c" stroke-width="0.2"><tspan font-style="italic">P</tspan>-O8H</text>
<text x="181.6" y="370.3" font-size="9.5" font-weight="bold" fill="#8c1d5c" stroke="#8c1d5c" stroke-width="0.2"><tspan font-style="italic">P</tspan>-O9H</text>
<text x="180.7" y="448.4" font-size="9.5" font-weight="bold" fill="#8c1d5c" stroke="#8c1d5c" stroke-width="0.2"><tspan font-style="italic">M</tspan>-O9H</text>
<text x="145.7" y="456.8" font-size="9.5" font-weight="bold" fill="#e8413c" stroke="#e8413c" stroke-width="0.2"><tspan font-style="italic">M</tspan>-O8H</text>
<polygon points="145.90,478.65 150.01,481.02 150.01,485.77 145.90,488.15 141.79,485.77 141.79,481.02" fill="#dcdcdc" stroke="#444" stroke-width="0.8" stroke-linejoin="round"/>
<polygon points="154.20,478.65 158.31,481.02 158.31,485.77 154.20,488.15 150.09,485.77 150.09,481.02" fill="#dcdcdc" stroke="#444" stroke-width="0.8" stroke-linejoin="round"/>
<polygon points="141.75,486.05 145.86,488.43 145.86,493.18 141.75,495.55 137.64,493.18 137.64,488.43" fill="#dcdcdc" stroke="#444" stroke-width="0.8" stroke-linejoin="round"/>
<polygon points="150.05,486.05 154.16,488.43 154.16,493.18 150.05,495.55 145.94,493.18 145.94,488.43" fill="#dcdcdc" stroke="#444" stroke-width="0.8" stroke-linejoin="round"/>
<polygon points="145.90,493.45 150.01,495.82 150.01,500.57 145.90,502.95 141.79,500.57 141.79,495.82" fill="#dcdcdc" stroke="#444" stroke-width="0.8" stroke-linejoin="round"/>
<polygon points="154.20,493.45 158.31,495.82 158.31,500.57 154.20,502.95 150.09,500.57 150.09,495.82" fill="#dcdcdc" stroke="#444" stroke-width="0.8" stroke-linejoin="round"/>
<text x="148.30" y="514.20" font-size="9.00" font-weight="bold" fill="#231f20" text-anchor="middle"   stroke="#231f20" stroke-width="0.22">BP</text>
<polygon points="178.90,487.15 182.93,489.48 182.93,494.12 178.90,496.45 174.87,494.12 174.87,489.48" fill="#fbeee4" stroke="#ea8a2e" stroke-width="0.85" stroke-linejoin="round"/>
<polygon points="187.10,487.15 191.13,489.48 191.13,494.12 187.10,496.45 183.07,494.12 183.07,489.48" fill="#fbeee4" stroke="#ea8a2e" stroke-width="0.85" stroke-linejoin="round"/>
<polygon points="195.30,487.15 199.33,489.48 199.33,494.12 195.30,496.45 191.27,494.12 191.27,489.48" fill="#fbeee4" stroke="#ea8a2e" stroke-width="0.85" stroke-linejoin="round"/>
<polygon points="174.80,494.35 178.83,496.68 178.83,501.32 174.80,503.65 170.77,501.32 170.77,496.68" fill="#fbeee4" stroke="#ea8a2e" stroke-width="0.85" stroke-linejoin="round"/>
<polygon points="183.00,494.35 187.03,496.68 187.03,501.32 183.00,503.65 178.97,501.32 178.97,496.68" fill="#fbeee4" stroke="#ea8a2e" stroke-width="0.85" stroke-linejoin="round"/>
<polygon points="199.40,494.35 203.43,496.68 203.43,501.32 199.40,503.65 195.37,501.32 195.37,496.68" fill="#fbeee4" stroke="#ea8a2e" stroke-width="0.85" stroke-linejoin="round"/>
<polygon points="178.90,501.55 182.93,503.88 182.93,508.52 178.90,510.85 174.87,508.52 174.87,503.88" fill="#fbeee4" stroke="#ea8a2e" stroke-width="0.85" stroke-linejoin="round"/>
<polygon points="187.10,501.55 191.13,503.88 191.13,508.52 187.10,510.85 183.07,508.52 183.07,503.88" fill="#fbeee4" stroke="#ea8a2e" stroke-width="0.85" stroke-linejoin="round"/>
<text x="187.40" y="523.30" font-size="9.00" font-weight="bold" fill="#ea8a2e" text-anchor="middle"   stroke="#ea8a2e" stroke-width="0.22">O7H</text>
<polygon points="213.70,504.55 217.73,506.88 217.73,511.52 213.70,513.85 209.67,511.52 209.67,506.88" fill="#fbe8e8" stroke="#e8413c" stroke-width="0.85" stroke-linejoin="round"/>
<polygon points="221.90,504.55 225.93,506.88 225.93,511.52 221.90,513.85 217.87,511.52 217.87,506.88" fill="#fbe8e8" stroke="#e8413c" stroke-width="0.85" stroke-linejoin="round"/>
<polygon points="230.10,504.55 234.13,506.88 234.13,511.52 230.10,513.85 226.07,511.52 226.07,506.88" fill="#fbe8e8" stroke="#e8413c" stroke-width="0.85" stroke-linejoin="round"/>
<polygon points="209.60,511.75 213.63,514.07 213.63,518.73 209.60,521.05 205.57,518.73 205.57,514.07" fill="#fbe8e8" stroke="#e8413c" stroke-width="0.85" stroke-linejoin="round"/>
<polygon points="217.80,511.75 221.83,514.07 221.83,518.73 217.80,521.05 213.77,518.73 213.77,514.07" fill="#fbe8e8" stroke="#e8413c" stroke-width="0.85" stroke-linejoin="round"/>
<polygon points="234.20,511.75 238.23,514.07 238.23,518.73 234.20,521.05 230.17,518.73 230.17,514.07" fill="#fbe8e8" stroke="#e8413c" stroke-width="0.85" stroke-linejoin="round"/>
<polygon points="213.70,518.95 217.73,521.27 217.73,525.93 213.70,528.25 209.67,525.93 209.67,521.27" fill="#fbe8e8" stroke="#e8413c" stroke-width="0.85" stroke-linejoin="round"/>
<polygon points="221.90,518.95 225.93,521.27 225.93,525.93 221.90,528.25 217.87,525.93 217.87,521.27" fill="#fbe8e8" stroke="#e8413c" stroke-width="0.85" stroke-linejoin="round"/>
<polygon points="231.30,518.95 235.33,521.27 235.33,525.93 231.30,528.25 227.27,525.93 227.27,521.27" fill="#fbe8e8" stroke="#e8413c" stroke-width="0.85" stroke-linejoin="round"/>
<text x="222.10" y="540.40" font-size="9.00" font-weight="bold" fill="#e8413c" text-anchor="middle"   stroke="#e8413c" stroke-width="0.22">O8H</text>
<polygon points="244.40,534.15 248.43,536.47 248.43,541.12 244.40,543.45 240.37,541.12 240.37,536.47" fill="#f4e4ec" stroke="#8c1d5c" stroke-width="0.85" stroke-linejoin="round"/>
<polygon points="252.60,534.15 256.63,536.47 256.63,541.12 252.60,543.45 248.57,541.12 248.57,536.47" fill="#f4e4ec" stroke="#8c1d5c" stroke-width="0.85" stroke-linejoin="round"/>
<polygon points="260.80,534.15 264.83,536.47 264.83,541.12 260.80,543.45 256.77,541.12 256.77,536.47" fill="#f4e4ec" stroke="#8c1d5c" stroke-width="0.85" stroke-linejoin="round"/>
<polygon points="240.30,541.35 244.33,543.67 244.33,548.33 240.30,550.65 236.27,548.33 236.27,543.67" fill="#f4e4ec" stroke="#8c1d5c" stroke-width="0.85" stroke-linejoin="round"/>
<polygon points="248.50,541.35 252.53,543.67 252.53,548.33 248.50,550.65 244.47,548.33 244.47,543.67" fill="#f4e4ec" stroke="#8c1d5c" stroke-width="0.85" stroke-linejoin="round"/>
<polygon points="264.90,541.35 268.93,543.67 268.93,548.33 264.90,550.65 260.87,548.33 260.87,543.67" fill="#f4e4ec" stroke="#8c1d5c" stroke-width="0.85" stroke-linejoin="round"/>
<polygon points="244.40,548.55 248.43,550.88 248.43,555.53 244.40,557.85 240.37,555.53 240.37,550.88" fill="#f4e4ec" stroke="#8c1d5c" stroke-width="0.85" stroke-linejoin="round"/>
<polygon points="262.20,548.55 266.23,550.88 266.23,555.53 262.20,557.85 258.17,555.53 258.17,550.88" fill="#f4e4ec" stroke="#8c1d5c" stroke-width="0.85" stroke-linejoin="round"/>
<polygon points="248.6,551.5 253.5,550 256.8,553.5 254,557.5 249.5,556.2" fill="#f4e4ec" stroke="#8c1d5c" stroke-width="0.8"/>
<circle cx="252.5" cy="554" r="3" fill="none" stroke="#8c1d5c" stroke-width="0.7"/>
<text x="252.60" y="571.00" font-size="9.00" font-weight="bold" fill="#8c1d5c" text-anchor="middle"   stroke="#8c1d5c" stroke-width="0.22">O9H</text>
<line x1="344.2" y1="407.2" x2="431.7" y2="407.2" stroke="#d5d5d5" stroke-width="0.8"/>
<path d="M364.80 407.78 L365.06 408.15 L365.39 409.38 L365.78 410.14 L366.22 410.66 L366.70 411.56 L367.20 412.53 L367.71 413.83 L368.23 414.51 L368.74 415.44 L369.24 416.38 L369.70 416.63 L370.11 418.29 L370.52 419.02 L370.93 419.74 L371.33 419.86 L371.74 421.13 L372.15 422.43 L372.56 422.49 L372.97 423.82 L373.38 424.99 L373.78 425.07 L374.19 426.69 L374.60 427.07 L375.21 427.87 L375.82 429.03 L376.44 430.12 L377.05 430.88 L377.66 432.00 L378.27 432.13 L378.89 432.70 L379.50 433.41 L380.26 433.11 L380.95 432.47 L381.64 432.38 L382.40 431.71 L383.29 430.21 L384.40 428.99 L385.00 428.91 L385.65 428.41 L386.35 427.83 L387.08 427.77 L387.85 426.46 L388.64 426.54 L389.45 425.16 L390.27 424.68 L391.10 424.49 L391.92 424.03 L392.73 423.36 L393.53 422.64 L394.30 422.04 L395.11 421.49 L395.91 421.07 L396.70 420.30 L397.49 419.91 L398.27 419.48 L399.06 418.79 L399.85 418.52 L400.66 417.97 L401.48 417.91 L402.33 416.93 L403.20 416.23 L404.10 415.79 L404.91 415.50 L405.75 415.39 L406.62 414.63 L407.52 414.46 L408.43 414.52 L409.35 412.83 L410.28 412.90 L411.20 412.96 L412.11 412.66 L413.01 412.28 L413.88 411.75 L414.73 411.77 L415.53 411.36 L416.30 410.84 L417.34 411.36 L418.39 410.38 L419.42 409.78 L420.41 409.60 L421.36 409.28 L422.25 409.06 L423.07 408.02 L423.79 408.49 L424.40 408.75 L424.90 407.95" fill="none" stroke="#f07a70" stroke-width="0.60" stroke-linejoin="round" stroke-linecap="round" />
<path d="M366.00 407.98 L366.73 408.38 L367.79 408.39 L368.95 408.74 L370.00 407.90 L370.89 408.69 L371.72 409.05 L372.54 410.03 L373.40 411.38 L373.73 410.67 L374.05 412.68 L374.39 412.57 L374.72 414.16 L375.06 414.30 L375.40 415.83 L375.74 417.16 L376.08 417.70 L376.42 418.83 L376.76 420.07 L377.10 420.85 L377.36 421.56 L377.63 422.94 L377.89 423.59 L378.16 423.96 L378.43 425.87 L378.69 425.37 L378.96 426.96 L379.22 427.44 L379.49 428.47 L379.75 429.58 L380.01 430.34 L380.28 431.42 L380.54 431.61 L380.80 432.57 L381.03 434.17 L381.25 434.49 L381.46 435.35 L381.67 436.09 L381.89 437.96 L382.10 438.70 L382.31 439.88 L382.52 439.97 L382.73 441.24 L382.95 441.78 L383.17 443.39 L383.40 444.63 L383.64 444.70 L383.88 446.49 L384.14 447.22 L384.40 447.74 L384.66 447.99 L384.92 450.09 L385.20 450.50 L385.48 451.28 L385.77 452.60 L386.07 453.58 L386.36 454.93 L386.67 455.01 L386.97 456.71 L387.28 457.75 L387.59 458.63 L387.89 458.92 L388.20 459.54 L388.51 460.92 L388.81 461.31 L389.11 461.97 L389.40 463.00 L390.24 463.72 L391.09 463.93 L391.94 465.21 L392.77 465.09 L393.56 466.28 L394.30 466.31 L395.29 466.18 L396.18 466.29 L397.02 466.14 L397.90 465.03 L398.30 464.94 L398.69 463.84 L399.08 463.54 L399.47 462.93 L399.87 462.13 L400.27 460.42 L400.70 460.00 L401.14 458.01 L401.60 457.22 L401.91 456.19 L402.22 456.47 L402.53 454.86 L402.84 454.44 L403.16 453.50 L403.48 452.66 L403.82 451.54 L404.16 450.90 L404.52 450.51 L404.88 448.97 L405.26 448.20 L405.66 447.44 L406.07 446.12 L406.50 444.86 L406.92 444.28 L407.36 444.03 L407.82 442.24 L408.29 441.77 L408.78 441.49 L409.28 440.58 L409.79 439.46 L410.30 438.91 L410.82 437.86 L411.34 436.57 L411.86 435.63 L412.38 435.16 L412.89 434.93 L413.40 433.65 L413.90 432.78 L414.47 431.99 L415.04 430.89 L415.61 430.56 L416.18 429.38 L416.75 429.12 L417.32 427.38 L417.89 427.56 L418.46 426.47 L419.03 425.29 L419.60 425.52 L420.17 424.49 L420.73 423.15 L421.30 422.99 L422.05 422.62 L422.83 421.60 L423.63 421.31 L424.43 420.61 L425.22 419.93 L425.99 419.20 L426.72 418.98 L427.41 418.23 L428.04 417.68 L428.60 416.37 L430.06 416.45 L431.05 416.13 L431.70 415.30" fill="none" stroke="#a04878" stroke-width="0.70" stroke-linejoin="round" stroke-linecap="round" />
<path d="M364.80 407.79 L365.31 408.56 L366.04 406.53 L366.88 407.01 L367.73 407.08 L368.50 404.38 L368.79 404.46 L369.07 404.23 L369.34 402.46 L369.61 401.83 L369.88 400.99 L370.15 399.15 L370.41 398.48 L370.67 397.62 L370.93 396.85 L371.19 395.50 L371.45 394.53 L371.70 393.34 L372.07 392.53 L372.43 392.07 L372.77 390.75 L373.12 389.41 L373.47 388.54 L373.83 389.27 L374.20 387.75 L374.60 386.69 L375.10 384.23 L375.63 384.63 L376.19 383.53 L376.76 383.09 L377.31 381.67 L377.83 380.75 L378.30 380.54 L379.18 379.19 L379.93 381.11 L380.80 381.65 L381.43 381.76 L382.09 383.40 L382.81 384.41 L383.57 383.79 L384.40 384.90 L385.15 385.92 L385.97 386.43 L386.82 386.72 L387.69 387.05 L388.56 389.10 L389.40 389.37 L390.01 389.02 L390.60 389.68 L391.19 391.83 L391.78 392.31 L392.38 393.51 L392.99 393.86 L393.63 393.88 L394.30 395.12 L395.01 394.72 L395.74 396.04 L396.50 397.02 L397.28 397.94 L398.06 398.00 L398.85 398.87 L399.63 399.69 L400.40 400.17 L401.26 400.82 L402.10 401.10 L402.95 401.30 L403.79 402.19 L404.66 402.23 L405.56 402.18 L406.50 402.62 L407.36 403.19 L408.26 403.40 L409.18 403.76 L410.12 403.92 L411.07 404.22 L412.02 404.30 L412.97 404.01 L413.90 404.99 L414.85 405.51 L415.84 405.48 L416.84 405.45 L417.84 405.98 L418.80 405.58 L419.72 405.38 L420.56 406.46 L421.30 406.18 L422.55 407.20 L423.56 406.57 L424.34 406.02 L424.90 406.83" fill="none" stroke="#e8413c" stroke-width="1.60" stroke-linejoin="round" stroke-linecap="round" />
<path d="M366.00 408.79 L366.70 407.86 L367.71 407.47 L368.86 407.85 L370.01 408.47 L371.00 408.25 L371.81 407.74 L372.54 407.95 L373.22 406.97 L373.90 405.82 L374.60 405.10 L374.97 405.03 L375.33 404.06 L375.70 403.43 L376.07 401.66 L376.44 401.35 L376.82 400.95 L377.19 399.51 L377.56 399.18 L377.93 397.82 L378.30 396.75 L378.49 395.49 L378.69 396.13 L378.88 394.69 L379.08 393.14 L379.27 392.44 L379.47 392.81 L379.66 390.43 L379.86 390.11 L380.05 389.21 L380.25 387.76 L380.44 386.21 L380.64 385.90 L380.83 385.01 L381.03 384.41 L381.22 383.26 L381.42 381.92 L381.61 381.38 L381.81 380.29 L382.00 379.20 L382.19 378.22 L382.39 377.14 L382.58 376.68 L382.78 374.87 L382.97 374.13 L383.17 373.50 L383.36 371.82 L383.56 371.39 L383.75 369.66 L383.95 369.38 L384.14 369.08 L384.34 368.16 L384.53 366.94 L384.73 365.96 L384.92 364.49 L385.12 365.26 L385.31 363.76 L385.51 363.24 L385.70 361.46 L385.97 360.76 L386.24 358.91 L386.52 359.19 L386.80 358.27 L387.07 355.87 L387.35 355.85 L387.63 355.27 L387.91 353.18 L388.17 352.30 L388.44 351.86 L388.69 351.31 L388.94 350.20 L389.18 350.24 L389.40 349.72 L389.97 348.44 L390.49 347.35 L390.95 346.92 L391.39 346.17 L391.80 344.54 L392.68 345.40 L393.50 345.97 L394.49 345.25 L395.50 345.16 L396.11 345.75 L396.70 346.95 L397.30 346.71 L398.21 347.24 L399.20 348.39 L399.73 348.89 L400.29 349.54 L400.90 350.65 L401.60 351.72 L401.88 353.11 L402.18 353.69 L402.48 354.29 L402.80 354.88 L403.13 356.05 L403.46 355.74 L403.81 357.59 L404.17 359.08 L404.54 359.28 L404.91 361.09 L405.30 361.97 L405.67 362.03 L406.05 363.41 L406.44 364.19 L406.84 365.40 L407.26 366.29 L407.67 366.78 L408.10 367.19 L408.52 368.36 L408.95 369.22 L409.37 370.43 L409.79 371.03 L410.20 371.34 L410.61 371.84 L411.02 373.16 L411.43 373.81 L411.83 374.46 L412.24 375.79 L412.65 376.43 L413.06 377.55 L413.47 378.58 L413.88 378.93 L414.28 381.10 L414.69 380.56 L415.10 382.05 L415.59 382.49 L416.08 383.91 L416.57 383.10 L417.06 384.83 L417.55 386.23 L418.04 387.29 L418.53 389.00 L419.02 388.80 L419.51 390.04 L420.00 390.48 L420.71 391.48 L421.43 392.06 L422.16 392.44 L422.88 393.43 L423.59 393.26 L424.26 394.99 L424.90 394.49 L425.73 395.98 L426.50 397.74 L427.22 397.34 L427.92 398.14 L428.60 399.28 L429.79 399.37 L430.92 399.35 L431.70 400.13" fill="none" stroke="#8c1d5c" stroke-width="1.70" stroke-linejoin="round" stroke-linecap="round" />
<path d="M344.30 585.80 C344.58 584.00 345.37 578.95 346.00 575.00 C346.63 571.05 347.40 565.10 348.10 562.10 C348.80 559.10 349.68 557.42 350.20 557.00 C350.72 556.58 350.93 564.10 351.20 559.60 C351.47 555.10 351.60 541.15 351.80 530.00 C352.00 518.85 352.10 492.48 352.40 492.70 C352.70 492.92 353.23 526.42 353.60 531.30 C353.97 536.18 354.13 527.43 354.60 522.00 C355.07 516.57 355.82 498.30 356.40 498.70 C356.98 499.10 357.57 522.40 358.10 524.40 C358.63 526.40 359.12 510.12 359.60 510.70 C360.08 511.28 360.48 523.33 361.00 527.90 C361.52 532.47 362.13 535.82 362.70 538.10 C363.27 540.38 363.83 539.02 364.40 541.60 C364.97 544.18 365.38 549.88 366.10 553.60 C366.82 557.32 367.55 560.77 368.70 563.90 C369.85 567.03 371.57 569.73 373.00 572.40 C374.43 575.07 375.28 578.00 377.30 579.90 C379.32 581.80 381.50 582.88 385.10 583.80 C388.70 584.72 391.37 585.07 398.90 585.40 C406.43 585.73 425.07 585.73 430.30 585.80" fill="none" stroke="#3a3a3a" stroke-width="0.70" stroke-linejoin="round" stroke-linecap="round" stroke-dasharray="1.3 0.45"/>
<path d="M358.60 581.90 C359.10 581.25 360.62 579.63 361.60 578.00 C362.58 576.37 363.52 576.03 364.50 572.10 C365.48 568.17 366.68 561.60 367.50 554.40 C368.32 547.20 368.85 539.37 369.40 528.90 C369.95 518.43 370.40 495.85 370.80 491.60 C371.20 487.35 371.37 497.52 371.80 503.40 C372.23 509.28 372.82 522.00 373.40 526.90 C373.98 531.80 374.58 532.30 375.30 532.80 C376.02 533.30 376.95 531.20 377.70 529.90 C378.45 528.60 379.22 524.52 379.80 525.00 C380.38 525.48 380.63 528.55 381.20 532.80 C381.77 537.05 382.38 545.92 383.20 550.50 C384.02 555.08 384.97 558.18 386.10 560.30 C387.23 562.42 388.68 561.90 390.00 563.20 C391.32 564.50 392.68 566.47 394.00 568.10 C395.32 569.73 396.60 571.68 397.90 573.00 C399.20 574.32 401.15 575.50 401.80 576.00" fill="none" stroke="#ea8a2e" stroke-width="1.60" stroke-linejoin="round" stroke-linecap="round" />
<path d="M365.50 583.40 C366.00 582.50 367.52 582.18 368.50 578.00 C369.48 573.82 370.52 569.10 371.40 558.30 C372.28 547.50 372.98 524.32 373.80 513.20 C374.62 502.08 375.55 493.90 376.30 491.60 C377.05 489.30 377.65 496.45 378.30 499.40 C378.95 502.35 379.55 507.17 380.20 509.30 C380.85 511.43 381.45 511.55 382.20 512.20 C382.95 512.85 383.88 511.40 384.70 513.20 C385.52 515.00 386.22 518.42 387.10 523.00 C387.98 527.58 388.85 535.13 390.00 540.70 C391.15 546.27 392.52 551.83 394.00 556.40 C395.48 560.97 397.10 564.68 398.90 568.10 C400.70 571.52 402.90 574.60 404.80 576.90 C406.70 579.20 409.38 581.07 410.30 581.90" fill="none" stroke="#e8413c" stroke-width="1.60" stroke-linejoin="round" stroke-linecap="round" />
<path d="M371.40 585.40 C372.05 585.13 374.15 584.72 375.30 583.80 C376.45 582.88 377.32 583.50 378.30 579.90 C379.28 576.30 380.38 570.05 381.20 562.20 C382.02 554.35 382.48 542.28 383.20 532.80 C383.92 523.32 384.68 512.17 385.50 505.30 C386.32 498.43 387.25 493.40 388.10 491.60 C388.95 489.80 389.62 492.87 390.60 494.50 C391.58 496.13 392.78 498.78 394.00 501.40 C395.22 504.02 396.43 505.95 397.90 510.20 C399.37 514.45 401.00 520.52 402.80 526.90 C404.60 533.28 406.73 541.95 408.70 548.50 C410.67 555.05 412.32 561.45 414.60 566.20 C416.88 570.95 419.72 574.22 422.40 577.00 C425.08 579.78 429.32 581.92 430.70 582.90" fill="none" stroke="#8c1d5c" stroke-width="1.70" stroke-linejoin="round" stroke-linecap="round" />
<rect x="344.2" y="333.5" width="87.5" height="252.5" fill="none" stroke="#3a3536" stroke-width="1.0"/>
<line x1="341.2" y1="333.40" x2="344.2" y2="333.40" stroke="#231f20" stroke-width="0.9"/>
<text x="339.00" y="335.40" font-size="7.30" font-weight="normal" fill="#231f20" text-anchor="end"  >0.015</text>
<line x1="341.2" y1="358.00" x2="344.2" y2="358.00" stroke="#231f20" stroke-width="0.9"/>
<text x="339.00" y="360.00" font-size="7.30" font-weight="normal" fill="#231f20" text-anchor="end"  >0.01</text>
<line x1="341.2" y1="382.60" x2="344.2" y2="382.60" stroke="#231f20" stroke-width="0.9"/>
<text x="339.00" y="384.60" font-size="7.30" font-weight="normal" fill="#231f20" text-anchor="end"  >0.005</text>
<line x1="341.2" y1="407.20" x2="344.2" y2="407.20" stroke="#231f20" stroke-width="0.9"/>
<text x="339.00" y="409.20" font-size="7.30" font-weight="normal" fill="#231f20" text-anchor="end"  >0</text>
<line x1="341.2" y1="431.80" x2="344.2" y2="431.80" stroke="#231f20" stroke-width="0.9"/>
<text x="339.00" y="433.80" font-size="7.30" font-weight="normal" fill="#231f20" text-anchor="end"  >-0.005</text>
<line x1="341.2" y1="456.40" x2="344.2" y2="456.40" stroke="#231f20" stroke-width="0.9"/>
<text x="339.00" y="458.40" font-size="7.30" font-weight="normal" fill="#231f20" text-anchor="end"  >-0.01</text>
<line x1="341.2" y1="481.00" x2="344.2" y2="481.00" stroke="#231f20" stroke-width="0.9"/>
<text x="339.00" y="483.00" font-size="7.30" font-weight="normal" fill="#231f20" text-anchor="end"  >-0.015</text>
<line x1="341.2" y1="586.00" x2="344.2" y2="586.00" stroke="#231f20" stroke-width="0.9"/>
<text x="339.00" y="588.00" font-size="7.30" font-weight="normal" fill="#231f20" text-anchor="end"  >0</text>
<line x1="341.2" y1="567.05" x2="344.2" y2="567.05" stroke="#231f20" stroke-width="0.9"/>
<text x="339.00" y="569.05" font-size="7.30" font-weight="normal" fill="#231f20" text-anchor="end"  >0.2</text>
<line x1="341.2" y1="548.10" x2="344.2" y2="548.10" stroke="#231f20" stroke-width="0.9"/>
<text x="339.00" y="550.10" font-size="7.30" font-weight="normal" fill="#231f20" text-anchor="end"  >0.4</text>
<line x1="341.2" y1="529.15" x2="344.2" y2="529.15" stroke="#231f20" stroke-width="0.9"/>
<text x="339.00" y="531.15" font-size="7.30" font-weight="normal" fill="#231f20" text-anchor="end"  >0.6</text>
<line x1="341.2" y1="510.20" x2="344.2" y2="510.20" stroke="#231f20" stroke-width="0.9"/>
<text x="339.00" y="512.20" font-size="7.30" font-weight="normal" fill="#231f20" text-anchor="end"  >0.8</text>
<line x1="341.2" y1="491.25" x2="344.2" y2="491.25" stroke="#231f20" stroke-width="0.9"/>
<text x="339.00" y="493.25" font-size="7.30" font-weight="normal" fill="#231f20" text-anchor="end"  >1</text>
<line x1="344.20" y1="586.0" x2="344.20" y2="589.0" stroke="#231f20" stroke-width="0.9"/>
<text x="344.20" y="597.80" font-size="7.20" font-weight="normal" fill="#231f20" text-anchor="middle"  >380</text>
<line x1="380.40" y1="586.0" x2="380.40" y2="589.0" stroke="#231f20" stroke-width="0.9"/>
<text x="380.40" y="597.80" font-size="7.20" font-weight="normal" fill="#231f20" text-anchor="middle"  >500</text>
<line x1="410.57" y1="586.0" x2="410.57" y2="589.0" stroke="#231f20" stroke-width="0.9"/>
<text x="410.57" y="597.80" font-size="7.20" font-weight="normal" fill="#231f20" text-anchor="middle"  >600</text>
<line x1="431.69" y1="586.0" x2="431.69" y2="589.0" stroke="#231f20" stroke-width="0.9"/>
<text x="431.69" y="597.80" font-size="7.20" font-weight="normal" fill="#231f20" text-anchor="middle"  >670</text>
<text x="388" y="608.5" font-size="7.2" fill="#231f20" text-anchor="middle"><tspan font-style="italic">λ</tspan> (nm)</text>
<text transform="translate(313.3,407) rotate(-90)" font-size="6.4" fill="#231f20" text-anchor="middle"><tspan font-style="italic">ΔI</tspan> (arb. unit)</text>
<text transform="translate(313.3,530) rotate(-90)" font-size="6.4" fill="#231f20" text-anchor="middle"><tspan font-style="italic">I</tspan> (arb. unit)</text>
<text x="400.2" y="344.4" font-size="9.2" font-weight="bold" fill="#8c1d5c" stroke="#8c1d5c" stroke-width="0.2"><tspan font-style="italic">P</tspan>-O9H</text>
<text x="347.3" y="375.3" font-size="9.2" font-weight="bold" fill="#e8413c" stroke="#e8413c" stroke-width="0.2"><tspan font-style="italic">P</tspan>-O8H</text>
<text x="346.0" y="444.6" font-size="9.2" font-weight="bold" fill="#e8413c" stroke="#e8413c" stroke-width="0.2"><tspan font-style="italic">M</tspan>-O8H</text>
<text x="399.2" y="474.9" font-size="9.2" font-weight="bold" fill="#8c1d5c" stroke="#8c1d5c" stroke-width="0.2"><tspan font-style="italic">M</tspan>-O9H</text>
<text x="348.00" y="489.70" font-size="9.00" font-weight="bold" fill="#231f20" text-anchor="start"   stroke="#231f20" stroke-width="0.22">BP</text>
<text x="361.00" y="489.70" font-size="9.00" font-weight="bold" fill="#ea8a2e" text-anchor="start"   stroke="#ea8a2e" stroke-width="0.22">O7H</text>
<text x="382.60" y="489.70" font-size="9.00" font-weight="bold" fill="#8c1d5c" text-anchor="start"   stroke="#8c1d5c" stroke-width="0.22">O9H</text>
<text x="368.80" y="480.90" font-size="9.00" font-weight="bold" fill="#e8413c" text-anchor="start"   stroke="#e8413c" stroke-width="0.22">O8H</text>
<rect x="466.5" y="333.6" width="19.6" height="64.9" fill="url(#gday)"/>
<path d="M468.30 338.00 q8.00 -4.5 16.00 0 v2.2 q-8.00 -3.2 -16.00 0 z" fill="#cdc9bd"/>
<path d="M470.50 345.40 v-4.5 a5.80 4.6 0 0 1 11.60 0 v4.5 z" fill="#8e8e8c"/>
<rect x="469.30" y="345.00" width="14.00" height="3.4" fill="#8c8c8a"/>
<rect x="471.10" y="348.40" width="10.40" height="5.5" fill="#9a9a98"/>
<rect x="469.50" y="354.80" width="13.60" height="38" fill="#afafad" stroke="#9c9c9a" stroke-width="0.5"/>
<rect x="471.50" y="355.60" width="9.60" height="0.7" fill="#d8d8d4"/>
<rect x="467.7" y="393.4" width="17.2" height="4.6" fill="#cfcfc9"/>
<text x="476.30" y="411.60" font-size="9.00" font-weight="bold" fill="#231f20" text-anchor="middle"   stroke="#231f20" stroke-width="0.22">7H</text>
<rect x="466.5" y="416.4" width="19.6" height="65.2" fill="#040406"/>
<rect x="469.70" y="418.00" width="13.20" height="6" rx="3" fill="#0c1634"/>
<rect x="471.10" y="423.40" width="10.40" height="5" fill="#0c1634"/>
<rect x="469.10" y="427.60" width="14.40" height="3.2" rx="1.2" fill="#1a3488"/>
<rect x="470.70" y="430.60" width="11.20" height="5" fill="#0c1634"/>
<rect x="470.30" y="440.00" width="12.00" height="39.6" fill="url(#guv0)"/>
<rect x="472.70" y="442.90" width="7.20" height="34.0" rx="3" fill="#141c44" opacity="0.75"/>
<rect x="469.40" y="435.90" width="13.80" height="44.2" fill="none" stroke="#1a3488" stroke-width="0.6" opacity="0.8"/>
<rect x="469.70" y="436.00" width="13.20" height="4" fill="#040406"/>
<rect x="487.8" y="333.6" width="19.6" height="64.9" fill="url(#gday)"/>
<path d="M489.60 338.00 q8.00 -4.5 16.00 0 v2.2 q-8.00 -3.2 -16.00 0 z" fill="#cdc9bd"/>
<path d="M491.80 345.40 v-4.5 a5.80 4.6 0 0 1 11.60 0 v4.5 z" fill="#8e8e8c"/>
<rect x="490.60" y="345.00" width="14.00" height="3.4" fill="#8c8c8a"/>
<rect x="492.40" y="348.40" width="10.40" height="5.5" fill="#9a9a98"/>
<rect x="490.80" y="354.80" width="13.60" height="38" fill="#afafad" stroke="#9c9c9a" stroke-width="0.5"/>
<rect x="492.80" y="355.60" width="9.60" height="0.7" fill="#d8d8d4"/>
<rect x="489.0" y="393.4" width="17.2" height="4.6" fill="#cfcfc9"/>
<text x="497.60" y="411.60" font-size="9.00" font-weight="bold" fill="#231f20" text-anchor="middle"   stroke="#231f20" stroke-width="0.22">8H</text>
<rect x="487.8" y="416.4" width="19.6" height="65.2" fill="#040406"/>
<rect x="491.00" y="418.00" width="13.20" height="6" rx="3" fill="#0e1a3c"/>
<rect x="492.40" y="423.40" width="10.40" height="5" fill="#0e1a3c"/>
<rect x="490.40" y="427.60" width="14.40" height="3.2" rx="1.2" fill="#2040a0"/>
<rect x="492.00" y="430.60" width="11.20" height="5" fill="#0e1a3c"/>
<rect x="491.60" y="440.00" width="12.00" height="39.6" fill="url(#guv1)"/>
<rect x="490.70" y="435.90" width="13.80" height="44.2" fill="none" stroke="#2040a0" stroke-width="0.6" opacity="0.8"/>
<rect x="491.00" y="436.00" width="13.20" height="4" fill="#040406"/>
<rect x="509.9" y="333.6" width="19.6" height="64.9" fill="url(#gday)"/>
<path d="M511.70 338.00 q8.00 -4.5 16.00 0 v2.2 q-8.00 -3.2 -16.00 0 z" fill="#cdc9bd"/>
<path d="M513.90 345.40 v-4.5 a5.80 4.6 0 0 1 11.60 0 v4.5 z" fill="#8e8e8c"/>
<rect x="512.70" y="345.00" width="14.00" height="3.4" fill="#8c8c8a"/>
<rect x="514.50" y="348.40" width="10.40" height="5.5" fill="#9a9a98"/>
<rect x="512.90" y="354.80" width="13.60" height="38" fill="#afafad" stroke="#9c9c9a" stroke-width="0.5"/>
<rect x="514.90" y="355.60" width="9.60" height="0.7" fill="#d8d8d4"/>
<rect x="511.1" y="393.4" width="17.2" height="4.6" fill="#cfcfc9"/>
<text x="519.70" y="411.60" font-size="9.00" font-weight="bold" fill="#231f20" text-anchor="middle"   stroke="#231f20" stroke-width="0.22">9H</text>
<rect x="509.9" y="416.4" width="19.6" height="65.2" fill="#040406"/>
<rect x="513.10" y="418.00" width="13.20" height="6" rx="3" fill="#0c1634"/>
<rect x="514.50" y="423.40" width="10.40" height="5" fill="#0c1634"/>
<rect x="512.50" y="427.60" width="14.40" height="3.2" rx="1.2" fill="#1e3a98"/>
<rect x="514.10" y="430.60" width="11.20" height="5" fill="#0c1634"/>
<rect x="513.70" y="440.00" width="12.00" height="39.6" fill="url(#guv2)"/>
<rect x="513.70" y="440.00" width="12.00" height="12.0" fill="#101a48" opacity="0.45"/>
<rect x="512.80" y="435.90" width="13.80" height="44.2" fill="none" stroke="#1e3a98" stroke-width="0.6" opacity="0.8"/>
<rect x="513.10" y="436.00" width="13.20" height="4" fill="#040406"/>
<rect x="540.5" y="333.6" width="19.6" height="64.9" fill="url(#gday)"/>
<path d="M542.30 338.00 q8.00 -4.5 16.00 0 v2.2 q-8.00 -3.2 -16.00 0 z" fill="#cdc9bd"/>
<path d="M544.50 345.40 v-4.5 a5.80 4.6 0 0 1 11.60 0 v4.5 z" fill="#8e8e8c"/>
<rect x="543.30" y="345.00" width="14.00" height="3.4" fill="#8c8c8a"/>
<rect x="545.10" y="348.40" width="10.40" height="5.5" fill="#9a9a98"/>
<rect x="543.50" y="354.80" width="13.60" height="38" fill="#afafad" stroke="#9c9c9a" stroke-width="0.5"/>
<rect x="545.50" y="355.60" width="9.60" height="0.7" fill="#d8d8d4"/>
<rect x="544.00" y="357.20" width="12.60" height="35.2" fill="#aeb29e"/>
<rect x="544.00" y="356.40" width="12.60" height="1.0" fill="#e0dc70" opacity="0.85"/>
<rect x="541.7" y="393.4" width="17.2" height="4.6" fill="#cfcfc9"/>
<text x="550.30" y="411.60" font-size="9.00" font-weight="bold" fill="#231f20" text-anchor="middle"   stroke="#231f20" stroke-width="0.22">O7H</text>
<rect x="540.5" y="416.4" width="19.6" height="65.2" fill="#040406"/>
<rect x="543.70" y="418.00" width="13.20" height="6" rx="3" fill="#2a6878"/>
<rect x="545.10" y="423.40" width="10.40" height="5" fill="#2a6878"/>
<rect x="543.10" y="427.60" width="14.40" height="3.2" rx="1.2" fill="#2f7ed0"/>
<rect x="544.70" y="430.60" width="11.20" height="5" fill="#2a6878"/>
<rect x="544.30" y="440.00" width="12.00" height="39.6" fill="url(#guv3)"/>
<rect x="543.40" y="435.90" width="13.80" height="44.2" fill="none" stroke="#2f7ed0" stroke-width="0.6" opacity="0.8"/>
<rect x="543.70" y="436.00" width="13.20" height="4" fill="#040406"/>
<rect x="562.4" y="333.6" width="19.6" height="64.9" fill="url(#gday)"/>
<path d="M564.20 338.00 q8.00 -4.5 16.00 0 v2.2 q-8.00 -3.2 -16.00 0 z" fill="#cdc9bd"/>
<path d="M566.40 345.40 v-4.5 a5.80 4.6 0 0 1 11.60 0 v4.5 z" fill="#8e8e8c"/>
<rect x="565.20" y="345.00" width="14.00" height="3.4" fill="#8c8c8a"/>
<rect x="567.00" y="348.40" width="10.40" height="5.5" fill="#9a9a98"/>
<rect x="565.40" y="354.80" width="13.60" height="38" fill="#afafad" stroke="#9c9c9a" stroke-width="0.5"/>
<rect x="567.40" y="355.60" width="9.60" height="0.7" fill="#d8d8d4"/>
<rect x="565.90" y="357.20" width="12.60" height="35.2" fill="#bfc690"/>
<rect x="565.90" y="356.40" width="12.60" height="1.0" fill="#e0dc70" opacity="0.85"/>
<rect x="563.6" y="393.4" width="17.2" height="4.6" fill="#cfcfc9"/>
<text x="572.20" y="411.60" font-size="9.00" font-weight="bold" fill="#231f20" text-anchor="middle"   stroke="#231f20" stroke-width="0.22">O8H</text>
<rect x="562.4" y="416.4" width="19.6" height="65.2" fill="#040406"/>
<rect x="565.60" y="418.00" width="13.20" height="6" rx="3" fill="#2a7a50"/>
<rect x="567.00" y="423.40" width="10.40" height="5" fill="#2a7a50"/>
<rect x="565.00" y="427.60" width="14.40" height="3.2" rx="1.2" fill="#34a070"/>
<rect x="566.60" y="430.60" width="11.20" height="5" fill="#2a7a50"/>
<rect x="566.20" y="440.00" width="12.00" height="39.6" fill="url(#guv4)"/>
<rect x="565.30" y="435.90" width="13.80" height="44.2" fill="none" stroke="#34a070" stroke-width="0.6" opacity="0.8"/>
<rect x="565.60" y="436.00" width="13.20" height="4" fill="#040406"/>
<rect x="584.3" y="333.6" width="19.6" height="64.9" fill="url(#gday)"/>
<path d="M586.10 338.00 q8.00 -4.5 16.00 0 v2.2 q-8.00 -3.2 -16.00 0 z" fill="#cdc9bd"/>
<path d="M588.30 345.40 v-4.5 a5.80 4.6 0 0 1 11.60 0 v4.5 z" fill="#8e8e8c"/>
<rect x="587.10" y="345.00" width="14.00" height="3.4" fill="#8c8c8a"/>
<rect x="588.90" y="348.40" width="10.40" height="5.5" fill="#9a9a98"/>
<rect x="587.30" y="354.80" width="13.60" height="38" fill="#afafad" stroke="#9c9c9a" stroke-width="0.5"/>
<rect x="589.30" y="355.60" width="9.60" height="0.7" fill="#d8d8d4"/>
<rect x="587.80" y="357.20" width="12.60" height="35.2" fill="#cabd5e"/>
<rect x="587.80" y="356.40" width="12.60" height="1.0" fill="#e0dc70" opacity="0.85"/>
<rect x="585.5" y="393.4" width="17.2" height="4.6" fill="#cfcfc9"/>
<text x="594.10" y="411.60" font-size="9.00" font-weight="bold" fill="#231f20" text-anchor="middle"   stroke="#231f20" stroke-width="0.22">O9H</text>
<rect x="584.3" y="416.4" width="19.6" height="65.2" fill="#040406"/>
<rect x="587.50" y="418.00" width="13.20" height="6" rx="3" fill="#4a6a28"/>
<rect x="588.90" y="423.40" width="10.40" height="5" fill="#4a6a28"/>
<rect x="586.90" y="427.60" width="14.40" height="3.2" rx="1.2" fill="#78b838"/>
<rect x="588.50" y="430.60" width="11.20" height="5" fill="#4a6a28"/>
<rect x="588.10" y="440.00" width="12.00" height="39.6" fill="url(#guv5)"/>
<rect x="587.20" y="435.90" width="13.80" height="44.2" fill="none" stroke="#78b838" stroke-width="0.6" opacity="0.8"/>
<rect x="587.50" y="436.00" width="13.20" height="4" fill="#040406"/>
<rect x="614.9" y="333.6" width="19.6" height="64.9" fill="url(#gday)"/>
<path d="M616.70 338.00 q8.00 -4.5 16.00 0 v2.2 q-8.00 -3.2 -16.00 0 z" fill="#cdc9bd"/>
<path d="M618.90 345.40 v-4.5 a5.80 4.6 0 0 1 11.60 0 v4.5 z" fill="#8e8e8c"/>
<rect x="617.70" y="345.00" width="14.00" height="3.4" fill="#8c8c8a"/>
<rect x="619.50" y="348.40" width="10.40" height="5.5" fill="#9a9a98"/>
<rect x="617.90" y="354.80" width="13.60" height="38" fill="#afafad" stroke="#9c9c9a" stroke-width="0.5"/>
<rect x="619.90" y="355.60" width="9.60" height="0.7" fill="#d8d8d4"/>
<rect x="618.40" y="357.20" width="12.60" height="35.2" fill="#b0b4a2"/>
<rect x="618.40" y="356.40" width="12.60" height="1.0" fill="#e0dc70" opacity="0.85"/>
<rect x="616.1" y="393.4" width="17.2" height="4.6" fill="#cfcfc9"/>
<text x="614.9" y="411.6" font-size="9.0" font-weight="bold" fill="#231f20" stroke="#231f20" stroke-width="0.2" textLength="19.6" lengthAdjust="spacingAndGlyphs">OO7H</text>
<rect x="614.9" y="416.4" width="19.6" height="65.2" fill="#040406"/>
<rect x="618.10" y="418.00" width="13.20" height="6" rx="3" fill="#2a6a80"/>
<rect x="619.50" y="423.40" width="10.40" height="5" fill="#2a6a80"/>
<rect x="617.50" y="427.60" width="14.40" height="3.2" rx="1.2" fill="#2ea0d0"/>
<rect x="619.10" y="430.60" width="11.20" height="5" fill="#2a6a80"/>
<rect x="618.70" y="440.00" width="12.00" height="39.6" fill="url(#guv6)"/>
<rect x="617.80" y="435.90" width="13.80" height="44.2" fill="none" stroke="#2ea0d0" stroke-width="0.6" opacity="0.8"/>
<rect x="618.10" y="436.00" width="13.20" height="4" fill="#040406"/>
<rect x="636.8" y="333.6" width="19.6" height="64.9" fill="url(#gday)"/>
<path d="M638.60 338.00 q8.00 -4.5 16.00 0 v2.2 q-8.00 -3.2 -16.00 0 z" fill="#cdc9bd"/>
<path d="M640.80 345.40 v-4.5 a5.80 4.6 0 0 1 11.60 0 v4.5 z" fill="#8e8e8c"/>
<rect x="639.60" y="345.00" width="14.00" height="3.4" fill="#8c8c8a"/>
<rect x="641.40" y="348.40" width="10.40" height="5.5" fill="#9a9a98"/>
<rect x="639.80" y="354.80" width="13.60" height="38" fill="#afafad" stroke="#9c9c9a" stroke-width="0.5"/>
<rect x="641.80" y="355.60" width="9.60" height="0.7" fill="#d8d8d4"/>
<rect x="640.30" y="357.20" width="12.60" height="35.2" fill="#d4c43a"/>
<rect x="640.30" y="356.40" width="12.60" height="1.0" fill="#e0dc70" opacity="0.85"/>
<rect x="638.0" y="393.4" width="17.2" height="4.6" fill="#cfcfc9"/>
<text x="636.8" y="411.6" font-size="9.0" font-weight="bold" fill="#231f20" stroke="#231f20" stroke-width="0.2" textLength="19.6" lengthAdjust="spacingAndGlyphs">OO8H</text>
<rect x="636.8" y="416.4" width="19.6" height="65.2" fill="#040406"/>
<rect x="640.00" y="418.00" width="13.20" height="6" rx="3" fill="#6a6020"/>
<rect x="641.40" y="423.40" width="10.40" height="5" fill="#6a6020"/>
<rect x="639.40" y="427.60" width="14.40" height="3.2" rx="1.2" fill="#c8b828"/>
<rect x="641.00" y="430.60" width="11.20" height="5" fill="#6a6020"/>
<rect x="640.60" y="440.00" width="12.00" height="39.6" fill="url(#guv7)"/>
<rect x="639.70" y="435.90" width="13.80" height="44.2" fill="none" stroke="#c8b828" stroke-width="0.6" opacity="0.8"/>
<rect x="640.00" y="436.00" width="13.20" height="4" fill="#040406"/>
<rect x="659.2" y="333.6" width="19.6" height="64.9" fill="url(#gday)"/>
<path d="M661.00 338.00 q8.00 -4.5 16.00 0 v2.2 q-8.00 -3.2 -16.00 0 z" fill="#cdc9bd"/>
<path d="M663.20 345.40 v-4.5 a5.80 4.6 0 0 1 11.60 0 v4.5 z" fill="#8e8e8c"/>
<rect x="662.00" y="345.00" width="14.00" height="3.4" fill="#8c8c8a"/>
<rect x="663.80" y="348.40" width="10.40" height="5.5" fill="#9a9a98"/>
<rect x="662.20" y="354.80" width="13.60" height="38" fill="#afafad" stroke="#9c9c9a" stroke-width="0.5"/>
<rect x="664.20" y="355.60" width="9.60" height="0.7" fill="#d8d8d4"/>
<rect x="662.70" y="357.20" width="12.60" height="35.2" fill="#bcc46e"/>
<rect x="662.70" y="356.40" width="12.60" height="1.0" fill="#e0dc70" opacity="0.85"/>
<rect x="660.4" y="393.4" width="17.2" height="4.6" fill="#cfcfc9"/>
<text x="659.2" y="411.6" font-size="9.0" font-weight="bold" fill="#231f20" stroke="#231f20" stroke-width="0.2" textLength="19.6" lengthAdjust="spacingAndGlyphs">OO9H</text>
<rect x="659.2" y="416.4" width="19.6" height="65.2" fill="#040406"/>
<rect x="662.40" y="418.00" width="13.20" height="6" rx="3" fill="#2a7040"/>
<rect x="663.80" y="423.40" width="10.40" height="5" fill="#2a7040"/>
<rect x="661.80" y="427.60" width="14.40" height="3.2" rx="1.2" fill="#34a860"/>
<rect x="663.40" y="430.60" width="11.20" height="5" fill="#2a7040"/>
<rect x="663.00" y="440.00" width="12.00" height="39.6" fill="url(#guv8)"/>
<rect x="662.10" y="435.90" width="13.80" height="44.2" fill="none" stroke="#34a860" stroke-width="0.6" opacity="0.8"/>
<rect x="662.40" y="436.00" width="13.20" height="4" fill="#040406"/>
<path d="M632.60 521.00 C633.03 521.12 635.15 521.50 635.80 521.90 C636.45 522.30 636.62 523.64 637.50 524.00 C638.38 524.36 641.20 524.29 642.40 524.60 C643.60 524.91 645.63 525.95 646.50 526.30 C647.37 526.65 648.14 527.79 648.90 527.20 C649.66 526.61 651.21 523.26 652.20 521.90 C653.19 520.54 655.22 518.20 656.30 517.00 C657.38 515.80 659.43 513.85 660.30 512.90 C661.17 511.95 662.91 510.66 662.80 509.90 C662.69 509.14 660.31 507.68 659.50 507.20 C658.69 506.72 657.67 505.54 656.70 506.30 C655.73 507.06 653.45 511.33 652.20 512.90 C650.95 514.47 648.83 517.23 647.30 518.10 C645.77 518.97 642.45 519.09 640.70 519.40 C638.95 519.71 640.29 520.23 634.20 520.40 C628.11 520.57 604.89 520.66 595.00 520.70 C585.11 520.74 570.13 520.70 560.00 520.70 C549.87 520.70 525.56 520.77 519.00 520.70 C512.44 520.63 512.32 520.48 510.80 520.20 C509.28 519.92 508.47 519.09 507.60 518.60 C506.73 518.11 505.06 516.57 504.30 516.50 C503.54 516.43 502.66 517.17 501.90 518.10 C501.14 519.03 499.48 522.02 498.60 523.50 C497.72 524.98 496.11 527.83 495.30 529.20 C494.49 530.57 492.61 533.04 492.50 533.80 C492.39 534.56 493.90 534.86 494.50 534.90 C495.10 534.94 496.24 534.86 497.00 534.10 C497.76 533.34 499.33 530.40 500.20 529.20 C501.07 528.00 502.62 525.86 503.50 525.10 C504.38 524.34 505.60 523.87 506.80 523.50 C508.00 523.13 510.87 522.51 512.50 522.30 C514.13 522.09 512.67 521.99 519.00 521.90 C525.33 521.81 549.20 521.68 560.00 521.60 C570.80 521.52 590.32 521.38 600.00 521.30 C609.68 521.22 628.25 521.04 632.60 521.00" fill="none" stroke="#ea8a2e" stroke-width="1.05" stroke-linejoin="round"/>
<path d="M595.00 543.10 C600.01 543.17 626.72 543.39 632.60 543.60 C638.48 543.81 637.47 544.22 639.10 544.70 C640.73 545.18 643.60 546.48 644.80 547.20 C646.00 547.92 647.22 550.33 648.10 550.10 C648.98 549.87 650.43 546.87 651.40 545.50 C652.37 544.13 654.21 540.77 655.40 539.80 C656.59 538.83 658.94 538.69 660.30 538.20 C661.66 537.71 665.71 536.65 665.60 536.10 C665.49 535.55 660.81 534.75 659.50 534.10 C658.19 533.45 656.88 531.20 655.80 531.20 C654.72 531.20 652.53 532.95 651.40 534.10 C650.27 535.25 648.73 538.71 647.30 539.80 C645.87 540.89 647.67 541.93 640.70 542.30 C633.73 542.67 605.76 542.59 595.00 542.60 C584.24 542.61 570.57 542.49 560.00 542.40 C549.43 542.31 522.37 542.14 515.70 541.90 C509.03 541.66 511.41 541.20 510.00 540.60 C508.59 540.00 506.18 537.51 505.10 537.40 C504.02 537.29 502.77 538.72 501.90 539.80 C501.03 540.88 499.59 544.30 498.60 545.50 C497.61 546.70 495.70 548.19 494.50 548.80 C493.30 549.41 490.69 549.83 489.60 550.10 C488.51 550.37 486.09 550.59 486.30 550.80 C486.51 551.01 490.11 551.42 491.20 551.70 C492.29 551.98 493.67 552.42 494.50 552.90 C495.33 553.38 496.64 555.51 497.40 555.30 C498.16 555.09 499.39 552.49 500.20 551.30 C501.01 550.11 502.51 547.39 503.50 546.40 C504.49 545.41 505.97 544.31 507.60 543.90 C509.23 543.49 508.71 543.39 515.70 543.30 C522.69 543.21 549.43 543.23 560.00 543.20 C570.57 543.17 590.33 543.11 595.00 543.10" fill="none" stroke="#e8413c" stroke-width="1.05" stroke-linejoin="round"/>
<path d="M595.00 565.10 C599.36 565.15 622.26 565.27 627.70 565.50 C633.14 565.73 634.07 566.20 635.80 566.80 C637.53 567.40 639.65 569.24 640.70 570.00 C641.75 570.76 642.82 572.93 643.70 572.50 C644.58 572.07 646.06 568.44 647.30 566.80 C648.54 565.16 651.69 561.29 653.00 560.20 C654.31 559.11 655.58 559.08 657.10 558.60 C658.62 558.12 664.63 557.15 664.40 556.60 C664.17 556.05 657.13 555.15 655.40 554.50 C653.67 553.85 652.37 551.47 651.40 551.70 C650.43 551.93 649.09 554.84 648.10 556.20 C647.11 557.56 645.20 560.93 644.00 561.90 C642.80 562.87 645.63 563.18 639.10 563.50 C632.57 563.82 605.55 564.23 595.00 564.30 C584.45 564.37 570.79 564.09 560.00 564.00 C549.21 563.91 520.87 563.77 514.10 563.60 C507.33 563.43 510.33 563.15 509.20 562.70 C508.07 562.25 506.47 560.20 505.60 560.20 C504.73 560.20 503.53 561.61 502.70 562.70 C501.87 563.79 500.28 567.09 499.40 568.40 C498.52 569.71 497.07 571.67 496.10 572.50 C495.13 573.33 493.01 574.23 492.10 574.60 C491.19 574.97 489.19 575.09 489.30 575.30 C489.41 575.51 491.99 575.92 492.90 576.20 C493.81 576.48 495.34 577.13 496.10 577.40 C496.86 577.67 497.95 578.64 498.60 578.20 C499.25 577.76 500.24 575.41 501.00 574.10 C501.76 572.79 503.31 569.48 504.30 568.40 C505.29 567.32 507.09 566.48 508.40 566.00 C509.71 565.52 507.22 564.95 514.10 564.80 C520.98 564.65 549.21 564.86 560.00 564.90 C570.79 564.94 590.33 565.07 595.00 565.10" fill="none" stroke="#8c1d5c" stroke-width="1.05" stroke-linejoin="round"/>
<rect x="475.8" y="499.3" width="200.6" height="86.9" fill="none" stroke="#3a3536" stroke-width="1.0"/>
<line x1="475.80" y1="586.2" x2="475.80" y2="589.2" stroke="#231f20" stroke-width="0.9"/>
<text x="475.80" y="598.00" font-size="7.20" font-weight="normal" fill="#231f20" text-anchor="middle"  >-2.5</text>
<line x1="504.43" y1="586.2" x2="504.43" y2="589.2" stroke="#231f20" stroke-width="0.9"/>
<text x="504.43" y="598.00" font-size="7.20" font-weight="normal" fill="#231f20" text-anchor="middle"  >-2</text>
<line x1="533.06" y1="586.2" x2="533.06" y2="589.2" stroke="#231f20" stroke-width="0.9"/>
<text x="533.06" y="598.00" font-size="7.20" font-weight="normal" fill="#231f20" text-anchor="middle"  >-1.5</text>
<line x1="561.69" y1="586.2" x2="561.69" y2="589.2" stroke="#231f20" stroke-width="0.9"/>
<text x="561.69" y="598.00" font-size="7.20" font-weight="normal" fill="#231f20" text-anchor="middle"  >-1</text>
<line x1="590.32" y1="586.2" x2="590.32" y2="589.2" stroke="#231f20" stroke-width="0.9"/>
<text x="590.32" y="598.00" font-size="7.20" font-weight="normal" fill="#231f20" text-anchor="middle"  >-0.5</text>
<line x1="618.95" y1="586.2" x2="618.95" y2="589.2" stroke="#231f20" stroke-width="0.9"/>
<text x="618.95" y="598.00" font-size="7.20" font-weight="normal" fill="#231f20" text-anchor="middle"  >0</text>
<line x1="647.58" y1="586.2" x2="647.58" y2="589.2" stroke="#231f20" stroke-width="0.9"/>
<text x="647.58" y="598.00" font-size="7.20" font-weight="normal" fill="#231f20" text-anchor="middle"  >0.5</text>
<line x1="676.21" y1="586.2" x2="676.21" y2="589.2" stroke="#231f20" stroke-width="0.9"/>
<text x="676.21" y="598.00" font-size="7.20" font-weight="normal" fill="#231f20" text-anchor="middle"  >1</text>
<text x="576" y="609.5" font-size="7.2" fill="#231f20" text-anchor="middle"><tspan font-style="italic">E</tspan> (V) vs. Fc<tspan dy="-2.5" font-size="5">+</tspan><tspan dy="2.5">/Fc</tspan><tspan dy="-2.5" font-size="5">0</tspan></text>
<text transform="translate(465.6,542.5) rotate(-90)" font-size="7.0" fill="#231f20" text-anchor="middle">Current</text>
<text x="509.50" y="514.40" font-size="9.40" font-weight="bold" fill="#ea8a2e" text-anchor="start"   stroke="#ea8a2e" stroke-width="0.22">O7H</text>
<text x="509.50" y="536.20" font-size="9.40" font-weight="bold" fill="#e8413c" text-anchor="start"   stroke="#e8413c" stroke-width="0.22">O8H</text>
<text x="509.50" y="557.80" font-size="9.40" font-weight="bold" fill="#8c1d5c" text-anchor="start"   stroke="#8c1d5c" stroke-width="0.22">O9H</text>
<text x="-0.60" y="14.00" font-size="18.50" font-weight="bold" fill="#231f20" text-anchor="start"   stroke="#231f20" stroke-width="0.22">a</text>
<text x="474.90" y="13.80" font-size="18.50" font-weight="bold" fill="#231f20" text-anchor="start"   stroke="#231f20" stroke-width="0.22">b</text>
<text x="-0.70" y="336.30" font-size="18.50" font-weight="bold" fill="#231f20" text-anchor="start"   stroke="#231f20" stroke-width="0.22">c</text>
<text x="296.30" y="335.90" font-size="18.50" font-weight="bold" fill="#231f20" text-anchor="start"   stroke="#231f20" stroke-width="0.22">d</text>
<text x="444.30" y="336.30" font-size="18.50" font-weight="bold" fill="#231f20" text-anchor="start"   stroke="#231f20" stroke-width="0.22">e</text>
<text x="444.60" y="501.60" font-size="18.50" font-weight="bold" fill="#231f20" text-anchor="start"   stroke="#231f20" stroke-width="0.22">f</text>
</svg></body></html>
